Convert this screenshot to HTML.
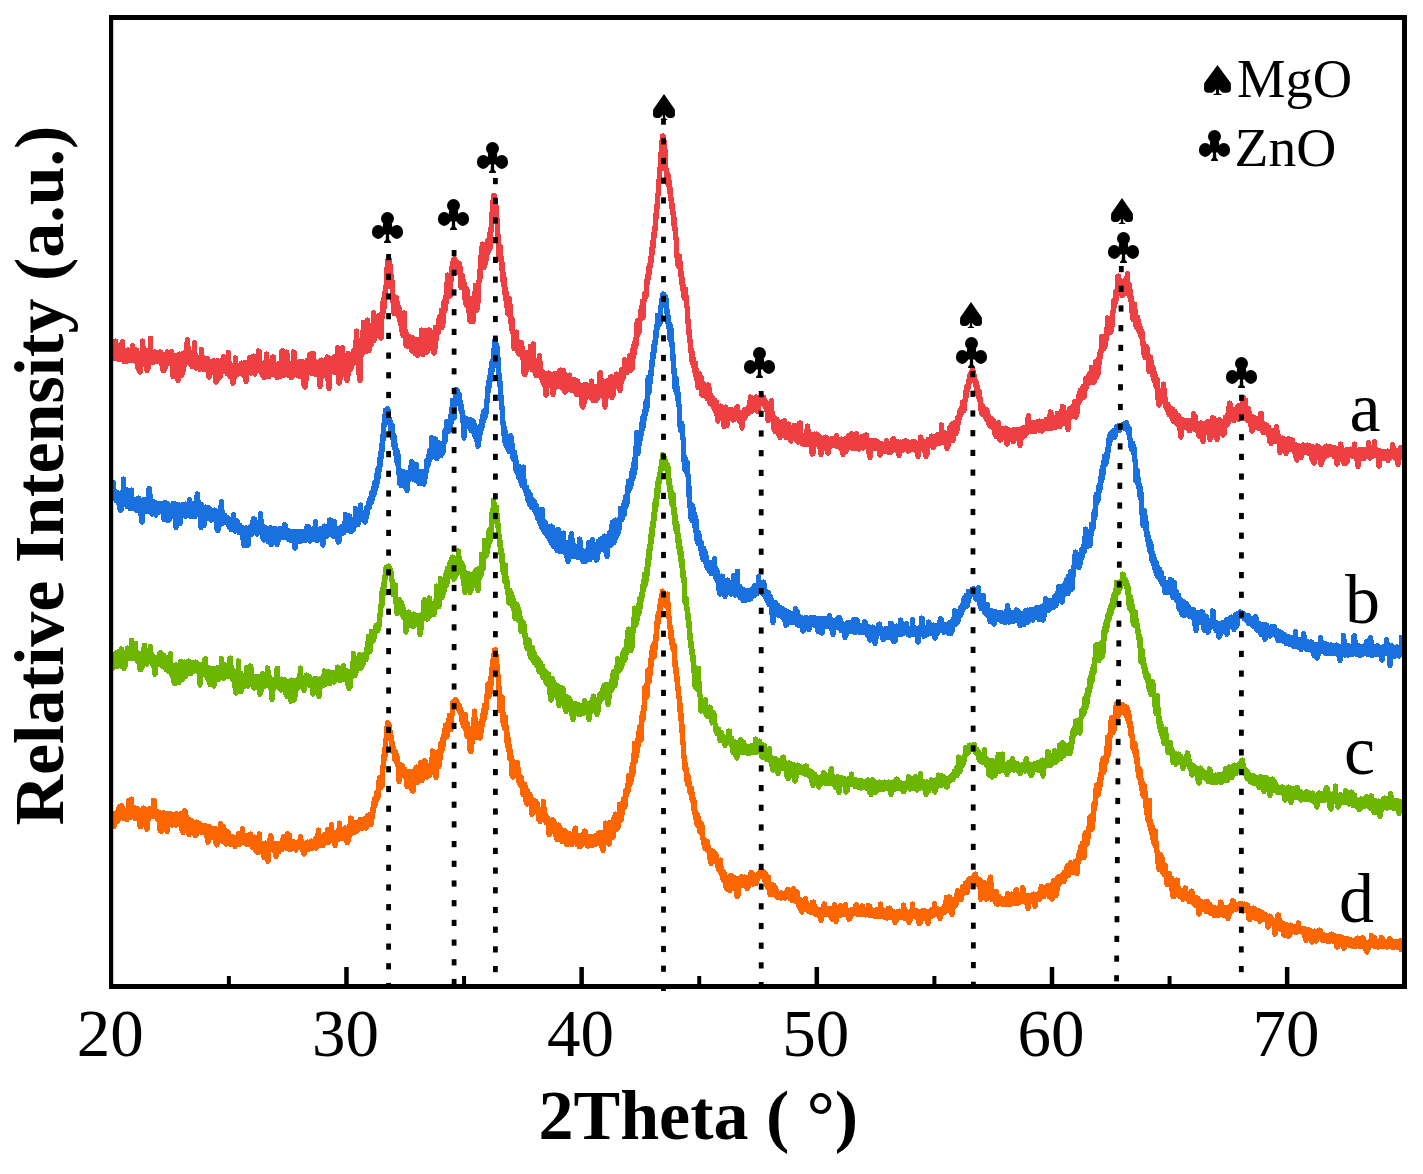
<!DOCTYPE html><html><head><meta charset="utf-8"><style>html,body{margin:0;padding:0;background:#fff;overflow:hidden;width:1423px;height:1174px;}svg{display:block;font-family:"Liberation Serif",serif;}</style></head><body><svg width="1423" height="1174" viewBox="0 0 1423 1174"><rect width="1423" height="1174" fill="#fff"/><defs><clipPath id="pc"><rect x="111" y="17" width="1294" height="970"/></clipPath></defs><g clip-path="url(#pc)" fill="none" stroke-width="5.20" stroke-linejoin="round" stroke-linecap="round" shape-rendering="crispEdges"><polyline stroke="#EE4042" points="111.0,354.2 111.5,342.1 112.0,353.4 112.5,343.4 113.0,355.3 113.5,347.2 114.0,358.8 114.5,343.3 115.0,349.6 115.5,341.1 116.0,351.4 116.5,344.8 117.0,358.8 117.5,349.4 118.0,359.3 118.5,351.6 119.0,359.1 119.5,352.4 120.0,359.8 120.5,353.4 121.0,357.0 121.5,344.2 122.0,350.6 122.5,341.5 123.0,358.1 123.5,351.8 124.0,361.5 124.5,353.5 125.0,359.7 125.5,350.3 126.0,360.8 126.5,353.6 127.0,361.1 127.5,350.6 128.0,360.8 128.5,349.8 129.0,358.3 129.5,351.3 130.0,360.1 130.5,353.2 131.0,360.9 131.5,349.7 132.0,360.7 132.5,345.5 133.0,355.1 133.5,351.0 134.0,360.5 134.5,349.9 135.0,359.0 135.5,349.7 136.0,361.7 136.5,349.9 137.0,359.7 137.5,358.7 138.0,368.8 138.5,353.7 139.0,363.7 139.5,356.0 140.0,372.3 140.5,358.2 141.0,361.6 141.5,355.1 142.0,357.3 142.5,341.1 143.0,354.4 143.5,347.5 144.0,362.1 144.5,352.4 145.0,365.1 145.5,350.7 146.0,361.7 146.5,353.0 147.0,370.6 147.5,360.6 148.0,368.6 148.5,354.6 149.0,363.2 149.5,349.7 150.0,352.2 150.5,338.2 151.0,362.1 151.5,352.2 152.0,362.2 152.5,352.1 153.0,362.3 153.5,352.7 154.0,362.1 154.5,352.3 155.0,360.1 155.5,351.8 156.0,361.8 156.5,352.8 157.0,360.8 157.5,354.1 158.0,360.5 158.5,352.6 159.0,360.2 159.5,352.1 160.0,361.9 160.5,352.1 161.0,363.4 161.5,353.7 162.0,364.5 162.5,356.4 163.0,370.5 163.5,362.1 164.0,370.8 164.5,361.1 165.0,368.4 165.5,354.5 166.0,361.5 166.5,355.1 167.0,361.3 167.5,351.8 168.0,363.2 168.5,354.6 169.0,361.7 169.5,353.2 170.0,363.1 170.5,353.1 171.0,363.0 171.5,351.6 172.0,364.0 172.5,361.8 173.0,376.5 173.5,370.1 174.0,375.6 174.5,363.7 175.0,363.6 175.5,355.9 176.0,364.4 176.5,355.2 177.0,368.1 177.5,362.7 178.0,380.7 178.5,368.0 179.0,375.0 179.5,354.0 180.0,367.2 180.5,355.9 181.0,364.0 181.5,362.3 182.0,375.1 182.5,367.8 183.0,372.0 183.5,353.1 184.0,363.8 184.5,352.8 185.0,364.6 185.5,355.6 186.0,360.9 186.5,344.1 187.0,350.6 187.5,339.5 188.0,352.4 188.5,347.3 189.0,362.9 189.5,354.9 190.0,363.5 190.5,353.2 191.0,364.8 191.5,353.1 192.0,366.4 192.5,355.0 193.0,366.3 193.5,357.3 194.0,353.6 194.5,342.4 195.0,365.4 195.5,354.9 196.0,368.2 196.5,358.1 197.0,367.7 197.5,358.1 198.0,366.6 198.5,357.7 199.0,365.0 199.5,357.9 200.0,369.4 200.5,359.0 201.0,368.4 201.5,349.3 202.0,357.0 202.5,356.5 203.0,365.4 203.5,359.4 204.0,369.9 204.5,359.8 205.0,369.5 205.5,358.6 206.0,369.7 206.5,358.8 207.0,368.1 207.5,358.6 208.0,367.1 208.5,365.6 209.0,377.3 209.5,369.0 210.0,373.5 210.5,362.2 211.0,370.6 211.5,361.7 212.0,371.9 212.5,360.9 213.0,372.5 213.5,360.4 214.0,371.5 214.5,362.6 215.0,372.5 215.5,371.9 216.0,382.3 216.5,368.8 217.0,371.7 217.5,360.7 218.0,376.1 218.5,368.8 219.0,378.2 219.5,371.1 220.0,377.4 220.5,362.3 221.0,371.0 221.5,360.7 222.0,371.3 222.5,363.0 223.0,371.5 223.5,356.6 224.0,366.6 224.5,365.3 225.0,371.4 225.5,365.2 226.0,372.3 226.5,363.7 227.0,373.7 227.5,361.9 228.0,368.8 228.5,352.3 229.0,367.7 229.5,363.0 230.0,376.8 230.5,367.3 231.0,373.2 231.5,366.0 232.0,373.4 232.5,365.2 233.0,383.4 233.5,376.0 234.0,374.7 234.5,368.0 235.0,376.8 235.5,357.8 236.0,368.4 236.5,368.1 237.0,375.0 237.5,365.0 238.0,373.5 238.5,366.1 239.0,372.6 239.5,367.1 240.0,373.1 240.5,365.4 241.0,373.9 241.5,363.1 242.0,373.0 242.5,366.7 243.0,375.1 243.5,366.4 244.0,371.7 244.5,362.3 245.0,374.5 245.5,372.1 246.0,381.9 246.5,371.9 247.0,372.6 247.5,362.5 248.0,373.0 248.5,366.0 249.0,371.6 249.5,357.5 250.0,365.6 250.5,361.9 251.0,373.3 251.5,365.7 252.0,370.6 252.5,357.3 253.0,364.3 253.5,356.1 254.0,371.2 254.5,361.4 255.0,374.1 255.5,362.3 256.0,371.7 256.5,365.5 257.0,371.2 257.5,360.8 258.0,368.5 258.5,350.8 259.0,361.2 259.5,351.7 260.0,365.8 260.5,365.0 261.0,373.0 261.5,363.3 262.0,374.8 262.5,363.8 263.0,374.4 263.5,363.6 264.0,377.5 264.5,364.5 265.0,377.1 265.5,361.6 266.0,365.9 266.5,354.0 267.0,367.3 267.5,361.0 268.0,375.3 268.5,362.7 269.0,376.8 269.5,364.8 270.0,373.9 270.5,367.7 271.0,374.8 271.5,367.5 272.0,372.5 272.5,357.1 273.0,363.0 273.5,357.0 274.0,371.0 274.5,368.4 275.0,374.6 275.5,368.2 276.0,375.5 276.5,365.5 277.0,377.9 277.5,366.8 278.0,374.9 278.5,363.6 279.0,376.9 279.5,366.8 280.0,376.9 280.5,363.0 281.0,366.5 281.5,351.4 282.0,358.0 282.5,350.4 283.0,362.7 283.5,357.8 284.0,375.4 284.5,364.9 285.0,374.3 285.5,364.0 286.0,374.9 286.5,352.1 287.0,360.1 287.5,355.2 288.0,374.6 288.5,365.7 289.0,375.5 289.5,364.8 290.0,375.9 290.5,367.5 291.0,377.4 291.5,367.1 292.0,377.2 292.5,362.8 293.0,371.0 293.5,351.9 294.0,360.1 294.5,352.9 295.0,368.2 295.5,363.3 296.0,374.6 296.5,363.1 297.0,373.7 297.5,364.9 298.0,375.7 298.5,364.5 299.0,373.5 299.5,361.6 300.0,376.6 300.5,362.4 301.0,374.8 301.5,361.8 302.0,377.3 302.5,361.5 303.0,373.7 303.5,370.2 304.0,385.6 304.5,376.8 305.0,387.3 305.5,376.6 306.0,380.6 306.5,362.3 307.0,373.6 307.5,360.1 308.0,373.4 308.5,363.5 309.0,371.4 309.5,355.1 310.0,363.1 310.5,354.0 311.0,368.3 311.5,354.9 312.0,373.4 312.5,362.4 313.0,373.6 313.5,353.3 314.0,362.1 314.5,360.6 315.0,371.6 315.5,361.5 316.0,374.7 316.5,362.5 317.0,372.6 317.5,363.1 318.0,369.7 318.5,362.0 319.0,374.5 319.5,372.4 320.0,387.0 320.5,362.6 321.0,372.3 321.5,360.1 322.0,370.6 322.5,362.2 323.0,376.4 323.5,366.9 324.0,375.8 324.5,363.3 325.0,370.3 325.5,360.5 326.0,368.7 326.5,358.9 327.0,369.7 327.5,356.8 328.0,380.9 328.5,374.8 329.0,388.6 329.5,370.5 330.0,367.9 330.5,359.3 331.0,368.3 331.5,358.6 332.0,370.8 332.5,361.0 333.0,371.7 333.5,358.7 334.0,370.2 334.5,356.7 335.0,372.6 335.5,360.6 336.0,368.7 336.5,356.6 337.0,358.8 337.5,347.5 338.0,369.4 338.5,359.5 339.0,383.3 339.5,374.0 340.0,380.1 340.5,360.4 341.0,371.5 341.5,358.9 342.0,368.9 342.5,347.6 343.0,360.7 343.5,356.8 344.0,372.5 344.5,356.2 345.0,370.8 345.5,356.0 346.0,376.5 346.5,367.8 347.0,380.6 347.5,364.2 348.0,376.0 348.5,353.3 349.0,370.1 349.5,357.5 350.0,366.5 350.5,354.9 351.0,369.1 351.5,354.6 352.0,364.8 352.5,356.2 353.0,364.2 353.5,350.8 354.0,361.8 354.5,353.5 355.0,362.6 355.5,342.3 356.0,348.2 356.5,331.0 357.0,346.0 357.5,339.6 358.0,362.2 358.5,344.0 359.0,374.3 359.5,368.2 360.0,380.5 360.5,356.0 361.0,356.9 361.5,346.7 362.0,354.3 362.5,331.9 363.0,336.2 363.5,322.3 364.0,332.3 364.5,322.8 365.0,343.4 365.5,342.4 366.0,351.5 366.5,339.8 367.0,340.9 367.5,320.0 368.0,332.5 368.5,324.6 369.0,350.9 369.5,333.6 370.0,346.5 370.5,333.7 371.0,345.4 371.5,329.9 372.0,341.7 372.5,331.0 373.0,325.8 373.5,312.6 374.0,340.9 374.5,327.0 375.0,337.9 375.5,324.0 376.0,335.3 376.5,322.4 377.0,335.4 377.5,322.9 378.0,330.6 378.5,315.7 379.0,331.4 379.5,320.7 380.0,337.0 380.5,326.4 381.0,338.2 381.5,314.0 382.0,318.7 382.5,302.9 383.0,313.7 383.5,298.4 384.0,308.3 384.5,293.0 385.0,299.0 385.5,287.3 386.0,288.8 386.5,271.3 387.0,269.2 387.5,260.5 388.0,261.1 388.5,258.1 389.0,261.2 389.5,259.5 390.0,265.2 390.5,265.9 391.0,276.5 391.5,280.0 392.0,288.1 392.5,282.1 393.0,301.9 393.5,301.9 394.0,313.9 394.5,304.3 395.0,310.5 395.5,296.8 396.0,306.5 396.5,297.3 397.0,309.7 397.5,302.3 398.0,315.5 398.5,306.9 399.0,317.9 399.5,309.2 400.0,321.8 400.5,313.6 401.0,325.1 401.5,318.4 402.0,331.9 402.5,320.8 403.0,335.9 403.5,324.9 404.0,329.3 404.5,312.8 405.0,332.6 405.5,333.5 406.0,345.9 406.5,334.0 407.0,344.4 407.5,336.0 408.0,346.9 408.5,336.0 409.0,347.0 409.5,337.5 410.0,346.3 410.5,337.7 411.0,346.9 411.5,340.7 412.0,351.2 412.5,337.2 413.0,349.7 413.5,342.4 414.0,351.5 414.5,343.6 415.0,353.6 415.5,342.2 416.0,353.3 416.5,339.3 417.0,354.9 417.5,339.3 418.0,355.4 418.5,341.1 419.0,353.0 419.5,344.2 420.0,351.0 420.5,341.8 421.0,342.6 421.5,330.1 422.0,350.9 422.5,344.2 423.0,355.0 423.5,344.8 424.0,342.5 424.5,330.7 425.0,344.7 425.5,341.5 426.0,351.9 426.5,341.8 427.0,352.2 427.5,341.1 428.0,346.5 428.5,330.0 429.0,338.5 429.5,329.8 430.0,340.7 430.5,335.9 431.0,347.2 431.5,332.2 432.0,344.5 432.5,334.6 433.0,350.3 433.5,344.3 434.0,353.2 434.5,342.1 435.0,348.7 435.5,327.4 436.0,341.1 436.5,327.8 437.0,335.0 437.5,326.4 438.0,333.2 438.5,320.0 439.0,329.1 439.5,316.6 440.0,328.3 440.5,316.7 441.0,324.5 441.5,310.0 442.0,327.6 442.5,316.9 443.0,323.2 443.5,302.5 444.0,311.0 444.5,300.9 445.0,310.6 445.5,296.6 446.0,303.3 446.5,284.2 447.0,287.0 447.5,274.9 448.0,284.0 448.5,277.1 449.0,291.9 449.5,278.7 450.0,296.2 450.5,282.3 451.0,281.4 451.5,267.4 452.0,271.5 452.5,262.8 453.0,264.2 453.5,259.8 454.0,261.4 454.5,258.7 455.0,262.7 455.5,260.8 456.0,264.6 456.5,262.1 457.0,269.5 457.5,264.5 458.0,272.4 458.5,263.4 459.0,270.2 459.5,263.4 460.0,272.8 460.5,267.6 461.0,287.5 461.5,280.0 462.0,285.8 462.5,275.5 463.0,284.7 463.5,280.9 464.0,289.5 464.5,283.7 465.0,299.5 465.5,292.1 466.0,304.6 466.5,288.2 467.0,298.0 467.5,290.4 468.0,307.5 468.5,299.1 469.0,312.4 469.5,308.6 470.0,321.1 470.5,304.7 471.0,315.0 471.5,298.3 472.0,312.1 472.5,297.9 473.0,322.0 473.5,306.1 474.0,302.0 474.5,292.7 475.0,302.0 475.5,285.2 476.0,294.4 476.5,289.5 477.0,310.1 477.5,297.4 478.0,302.9 478.5,284.6 479.0,282.4 479.5,270.7 480.0,279.0 480.5,256.8 481.0,263.0 481.5,248.0 482.0,256.8 482.5,244.1 483.0,259.7 483.5,254.6 484.0,267.6 484.5,253.9 485.0,264.9 485.5,246.4 486.0,260.2 486.5,243.5 487.0,253.9 487.5,240.9 488.0,253.1 488.5,239.9 489.0,247.6 489.5,233.9 490.0,249.1 490.5,232.4 491.0,231.2 491.5,215.4 492.0,214.9 492.5,202.2 493.0,201.1 493.5,195.5 494.0,197.5 494.5,195.7 495.0,200.7 495.5,200.0 496.0,206.9 496.5,206.5 497.0,220.1 497.5,219.6 498.0,236.6 498.5,241.8 499.0,259.2 499.5,246.3 500.0,253.9 500.5,246.5 501.0,262.1 501.5,257.8 502.0,270.3 502.5,263.4 503.0,281.9 503.5,274.1 504.0,287.0 504.5,279.0 505.0,294.6 505.5,289.2 506.0,300.8 506.5,292.4 507.0,308.1 507.5,300.9 508.0,314.2 508.5,303.1 509.0,309.3 509.5,298.5 510.0,315.3 510.5,306.2 511.0,323.3 511.5,317.6 512.0,330.4 512.5,319.5 513.0,333.8 513.5,332.9 514.0,348.6 514.5,335.2 515.0,345.8 515.5,333.2 516.0,344.3 516.5,332.0 517.0,347.0 517.5,341.1 518.0,352.5 518.5,345.9 519.0,354.3 519.5,344.0 520.0,353.2 520.5,343.5 521.0,351.1 521.5,342.3 522.0,356.2 522.5,348.0 523.0,359.3 523.5,357.6 524.0,373.6 524.5,365.3 525.0,374.9 525.5,364.5 526.0,371.4 526.5,352.3 527.0,365.6 527.5,352.6 528.0,366.8 528.5,353.4 529.0,366.0 529.5,358.9 530.0,366.0 530.5,346.3 531.0,354.0 531.5,360.9 532.0,370.0 532.5,361.3 533.0,358.6 533.5,343.8 534.0,362.5 534.5,360.3 535.0,372.4 535.5,361.9 536.0,375.7 536.5,365.6 537.0,373.3 537.5,364.0 538.0,374.5 538.5,360.3 539.0,364.0 539.5,355.3 540.0,365.3 540.5,363.1 541.0,377.6 541.5,370.9 542.0,379.9 542.5,373.4 543.0,382.4 543.5,372.7 544.0,383.2 544.5,372.8 545.0,386.2 545.5,388.7 546.0,395.3 546.5,373.9 547.0,383.5 547.5,375.9 548.0,385.1 548.5,372.9 549.0,383.8 549.5,375.3 550.0,385.3 550.5,374.3 551.0,383.3 551.5,374.6 552.0,384.8 552.5,382.7 553.0,394.7 553.5,385.2 554.0,386.9 554.5,373.8 555.0,386.4 555.5,373.5 556.0,387.4 556.5,376.5 557.0,387.0 557.5,376.0 558.0,386.8 558.5,376.5 559.0,386.5 559.5,371.2 560.0,378.4 560.5,369.9 561.0,377.3 561.5,373.6 562.0,388.1 562.5,378.0 563.0,381.8 563.5,370.6 564.0,381.7 564.5,374.0 565.0,392.3 565.5,379.5 566.0,388.6 566.5,382.1 567.0,389.9 567.5,379.1 568.0,389.6 568.5,377.6 569.0,384.5 569.5,374.9 570.0,385.9 570.5,379.5 571.0,389.1 571.5,379.4 572.0,391.0 572.5,380.9 573.0,390.0 573.5,382.9 574.0,390.7 574.5,379.3 575.0,391.7 575.5,381.6 576.0,394.0 576.5,380.6 577.0,394.5 577.5,380.8 578.0,393.4 578.5,384.2 579.0,393.7 579.5,384.4 580.0,394.9 580.5,385.7 581.0,393.6 581.5,389.3 582.0,405.6 582.5,398.8 583.0,407.1 583.5,397.6 584.0,403.2 584.5,384.5 585.0,394.3 585.5,385.5 586.0,396.5 586.5,384.6 587.0,397.2 587.5,387.4 588.0,395.0 588.5,386.3 589.0,396.8 589.5,387.1 590.0,395.9 590.5,388.8 591.0,390.8 591.5,381.0 592.0,399.3 592.5,390.8 593.0,400.4 593.5,390.2 594.0,398.4 594.5,387.0 595.0,397.4 595.5,390.1 596.0,400.5 596.5,386.7 597.0,398.0 597.5,390.0 598.0,397.7 598.5,388.4 599.0,389.2 599.5,373.9 600.0,383.0 600.5,372.7 601.0,382.2 601.5,379.5 602.0,395.6 602.5,384.9 603.0,392.4 603.5,382.8 604.0,398.4 604.5,394.5 605.0,407.1 605.5,395.2 606.0,398.2 606.5,381.2 607.0,390.2 607.5,382.2 608.0,388.4 608.5,380.0 609.0,391.6 609.5,381.9 610.0,390.7 610.5,377.0 611.0,388.6 611.5,376.4 612.0,397.7 612.5,390.4 613.0,396.0 613.5,377.7 614.0,387.5 614.5,378.2 615.0,387.0 615.5,376.6 616.0,386.1 616.5,374.0 617.0,383.4 617.5,375.6 618.0,382.7 618.5,379.6 619.0,389.0 619.5,380.3 620.0,391.0 620.5,377.9 621.0,383.3 621.5,369.6 622.0,377.2 622.5,370.8 623.0,378.9 623.5,370.0 624.0,372.3 624.5,359.4 625.0,367.1 625.5,360.3 626.0,371.3 626.5,365.5 627.0,373.0 627.5,362.6 628.0,368.2 628.5,359.8 629.0,367.2 629.5,355.5 630.0,365.9 630.5,355.1 631.0,370.3 631.5,364.0 632.0,369.3 632.5,350.0 633.0,358.2 633.5,345.6 634.0,354.8 634.5,343.2 635.0,348.8 635.5,338.9 636.0,346.1 636.5,323.5 637.0,329.3 637.5,320.4 638.0,334.9 638.5,321.6 639.0,332.3 639.5,322.6 640.0,320.7 640.5,310.6 641.0,315.5 641.5,306.3 642.0,313.0 642.5,301.3 643.0,317.9 643.5,308.2 644.0,300.9 644.5,293.7 645.0,295.2 645.5,292.7 646.0,296.7 646.5,280.8 647.0,284.2 647.5,275.5 648.0,279.6 648.5,268.1 649.0,274.6 649.5,265.0 650.0,267.8 650.5,258.1 651.0,262.7 651.5,248.8 652.0,254.6 652.5,242.2 653.0,247.6 653.5,233.9 654.0,237.8 654.5,227.4 655.0,230.4 655.5,215.3 656.0,218.6 656.5,206.1 657.0,208.2 657.5,194.7 658.0,196.1 658.5,183.1 659.0,182.4 659.5,170.2 660.0,170.4 660.5,156.0 661.0,154.6 661.5,143.2 662.0,141.7 662.5,135.9 663.0,136.7 663.5,136.2 664.0,141.4 664.5,141.5 665.0,151.2 665.5,155.4 666.0,171.1 666.5,170.0 667.0,182.9 667.5,173.7 668.0,179.9 668.5,175.4 669.0,186.4 669.5,181.8 670.0,193.7 670.5,188.6 671.0,200.9 671.5,198.3 672.0,208.2 672.5,204.7 673.0,215.0 673.5,213.2 674.0,225.4 674.5,218.7 675.0,230.7 675.5,228.5 676.0,239.5 676.5,240.6 677.0,258.1 677.5,255.3 678.0,265.7 678.5,255.7 679.0,260.3 679.5,256.2 680.0,268.6 680.5,263.2 681.0,276.7 681.5,273.2 682.0,284.2 682.5,278.6 683.0,290.2 683.5,286.0 684.0,297.4 684.5,294.0 685.0,298.9 685.5,289.1 686.0,298.5 686.5,296.4 687.0,307.8 687.5,307.6 688.0,323.5 688.5,320.9 689.0,334.5 689.5,330.4 690.0,342.2 690.5,340.7 691.0,352.5 691.5,349.6 692.0,361.2 692.5,353.2 693.0,364.7 693.5,358.4 694.0,367.2 694.5,363.6 695.0,372.8 695.5,363.2 696.0,376.2 696.5,369.7 697.0,380.3 697.5,377.7 698.0,387.9 698.5,376.8 699.0,383.9 699.5,373.3 700.0,386.7 700.5,377.9 701.0,386.9 701.5,377.5 702.0,395.3 702.5,388.9 703.0,393.1 703.5,383.7 704.0,392.3 704.5,386.9 705.0,395.7 705.5,387.7 706.0,396.8 706.5,389.2 707.0,398.9 707.5,385.1 708.0,393.2 708.5,384.9 709.0,391.8 709.5,388.5 710.0,403.4 710.5,394.2 711.0,404.1 711.5,398.5 712.0,403.9 712.5,397.5 713.0,405.3 713.5,399.2 714.0,408.3 714.5,400.0 715.0,410.8 715.5,403.0 716.0,410.2 716.5,402.1 717.0,415.3 717.5,414.4 718.0,421.1 718.5,412.2 719.0,419.3 719.5,406.9 720.0,412.1 720.5,406.0 721.0,413.9 721.5,408.1 722.0,414.0 722.5,407.7 723.0,420.1 723.5,415.3 724.0,426.5 724.5,415.8 725.0,422.9 725.5,407.1 726.0,416.4 726.5,417.2 727.0,425.5 727.5,410.9 728.0,418.7 728.5,410.8 729.0,417.6 729.5,409.2 730.0,418.8 730.5,410.1 731.0,418.6 731.5,409.4 732.0,419.1 732.5,410.6 733.0,420.3 733.5,413.3 734.0,419.6 734.5,413.9 735.0,418.7 735.5,414.4 736.0,418.2 736.5,407.9 737.0,414.0 737.5,406.6 738.0,418.1 738.5,412.1 739.0,420.9 739.5,413.0 740.0,422.2 740.5,415.0 741.0,420.6 741.5,414.7 742.0,428.1 742.5,420.9 743.0,420.8 743.5,412.0 744.0,417.6 744.5,409.5 745.0,417.6 745.5,411.5 746.0,415.9 746.5,409.1 747.0,414.0 747.5,408.9 748.0,413.9 748.5,407.0 749.0,413.4 749.5,401.4 750.0,404.2 750.5,396.8 751.0,406.2 751.5,402.3 752.0,411.4 752.5,403.9 753.0,408.0 753.5,402.4 754.0,407.4 754.5,400.2 755.0,407.7 755.5,397.7 756.0,407.1 756.5,396.8 757.0,410.5 757.5,403.4 758.0,411.7 758.5,401.2 759.0,401.4 759.5,398.0 760.0,401.1 760.5,397.3 761.0,399.7 761.5,397.2 762.0,401.2 762.5,397.9 763.0,404.0 763.5,397.1 764.0,405.3 764.5,399.4 765.0,406.2 765.5,401.9 766.0,408.3 766.5,402.9 767.0,411.8 767.5,408.1 768.0,420.5 768.5,411.1 769.0,420.4 769.5,407.9 770.0,415.1 770.5,407.5 771.0,406.7 771.5,400.4 772.0,417.1 772.5,412.2 773.0,419.5 773.5,416.4 774.0,429.2 774.5,423.2 775.0,431.9 775.5,425.8 776.0,427.9 776.5,419.0 777.0,426.6 777.5,420.3 778.0,428.6 778.5,422.4 779.0,435.9 779.5,433.8 780.0,437.8 780.5,422.6 781.0,432.9 781.5,423.6 782.0,431.7 782.5,424.2 783.0,430.1 783.5,421.0 784.0,424.6 784.5,420.5 785.0,429.2 785.5,424.2 786.0,437.9 786.5,428.9 787.0,437.7 787.5,427.1 788.0,431.9 788.5,423.9 789.0,432.0 789.5,427.8 790.0,437.8 790.5,429.4 791.0,441.1 791.5,430.1 792.0,438.4 792.5,431.2 793.0,435.5 793.5,426.4 794.0,430.9 794.5,425.2 795.0,435.6 795.5,429.0 796.0,439.7 796.5,432.8 797.0,441.2 797.5,432.0 798.0,442.3 798.5,435.0 799.0,434.8 799.5,423.1 800.0,431.3 800.5,423.1 801.0,436.0 801.5,436.0 802.0,443.9 802.5,436.0 803.0,444.2 803.5,435.6 804.0,443.5 804.5,438.6 805.0,444.6 805.5,438.6 806.0,444.8 806.5,431.1 807.0,434.0 807.5,426.0 808.0,435.7 808.5,430.8 809.0,442.7 809.5,435.1 810.0,445.1 810.5,436.7 811.0,443.9 811.5,434.8 812.0,454.1 812.5,449.3 813.0,453.6 813.5,435.8 814.0,445.3 814.5,434.1 815.0,443.0 815.5,436.2 816.0,443.6 816.5,434.1 817.0,442.5 817.5,435.9 818.0,444.7 818.5,435.6 819.0,442.8 819.5,436.4 820.0,448.7 820.5,444.9 821.0,455.0 821.5,446.0 822.0,450.1 822.5,438.7 823.0,447.0 823.5,437.9 824.0,445.4 824.5,439.0 825.0,445.9 825.5,437.0 826.0,444.4 826.5,438.0 827.0,450.5 827.5,447.7 828.0,453.2 828.5,440.6 829.0,447.3 829.5,440.8 830.0,446.6 830.5,439.0 831.0,445.5 831.5,438.5 832.0,445.8 832.5,439.7 833.0,445.8 833.5,438.7 834.0,445.7 834.5,440.4 835.0,444.8 835.5,438.2 836.0,440.3 836.5,435.7 837.0,446.6 837.5,440.0 838.0,446.4 838.5,439.9 839.0,447.1 839.5,440.5 840.0,444.3 840.5,440.6 841.0,445.8 841.5,439.1 842.0,450.9 842.5,445.7 843.0,454.7 843.5,447.9 844.0,452.8 844.5,444.1 845.0,444.7 845.5,438.7 846.0,451.8 846.5,445.9 847.0,446.0 847.5,438.8 848.0,442.0 848.5,435.3 849.0,443.8 849.5,441.6 850.0,447.7 850.5,437.5 851.0,440.1 851.5,433.3 852.0,441.2 852.5,438.3 853.0,448.4 853.5,440.5 854.0,447.1 854.5,443.0 855.0,448.7 855.5,441.6 856.0,447.9 856.5,433.6 857.0,441.3 857.5,441.1 858.0,448.3 858.5,440.9 859.0,449.3 859.5,441.1 860.0,446.8 860.5,441.6 861.0,445.2 861.5,436.3 862.0,444.7 862.5,441.0 863.0,448.1 863.5,442.3 864.0,445.9 864.5,439.5 865.0,440.7 865.5,435.0 866.0,439.1 866.5,435.1 867.0,444.2 867.5,440.7 868.0,445.3 868.5,444.8 869.0,453.6 869.5,451.8 870.0,457.6 870.5,447.2 871.0,450.1 871.5,440.3 872.0,445.8 872.5,440.6 873.0,447.7 873.5,440.8 874.0,449.0 874.5,441.0 875.0,446.8 875.5,440.3 876.0,447.5 876.5,441.8 877.0,448.3 877.5,441.4 878.0,447.6 878.5,443.2 879.0,449.1 879.5,445.9 880.0,455.3 880.5,447.3 881.0,449.8 881.5,443.6 882.0,449.8 882.5,444.5 883.0,450.5 883.5,444.6 884.0,451.7 884.5,444.7 885.0,451.6 885.5,446.4 886.0,447.7 886.5,440.5 887.0,445.6 887.5,442.4 888.0,448.9 888.5,446.5 889.0,452.7 889.5,446.3 890.0,451.5 890.5,444.8 891.0,452.2 891.5,446.2 892.0,449.4 892.5,439.5 893.0,447.3 893.5,438.4 894.0,446.1 894.5,440.6 895.0,449.8 895.5,444.5 896.0,449.4 896.5,443.7 897.0,451.1 897.5,443.1 898.0,448.6 898.5,441.8 899.0,456.0 899.5,449.0 900.0,451.2 900.5,441.9 901.0,449.6 901.5,442.4 902.0,448.1 902.5,442.7 903.0,450.3 903.5,441.5 904.0,449.7 904.5,441.4 905.0,448.6 905.5,440.4 906.0,448.6 906.5,443.2 907.0,449.9 907.5,443.4 908.0,451.2 908.5,442.1 909.0,448.3 909.5,444.2 910.0,450.2 910.5,444.2 911.0,448.3 911.5,443.0 912.0,449.7 912.5,441.5 913.0,448.5 913.5,441.3 914.0,449.3 914.5,441.2 915.0,448.3 915.5,443.8 916.0,449.1 916.5,443.1 917.0,453.0 917.5,447.3 918.0,456.5 918.5,447.2 919.0,447.9 919.5,442.4 920.0,444.5 920.5,437.0 921.0,442.1 921.5,439.6 922.0,446.7 922.5,441.5 923.0,449.2 923.5,442.2 924.0,448.7 924.5,441.4 925.0,452.4 925.5,447.4 926.0,457.0 926.5,449.3 927.0,454.5 927.5,442.6 928.0,446.4 928.5,439.2 929.0,444.3 929.5,439.4 930.0,444.4 930.5,438.6 931.0,443.0 931.5,436.1 932.0,444.0 932.5,438.6 933.0,447.6 933.5,440.8 934.0,446.9 934.5,439.2 935.0,445.0 935.5,437.0 936.0,442.0 936.5,435.7 937.0,441.6 937.5,434.5 938.0,441.0 938.5,434.4 939.0,444.0 939.5,435.1 940.0,441.3 940.5,434.2 941.0,441.8 941.5,424.8 942.0,431.7 942.5,435.4 943.0,442.9 943.5,435.4 944.0,439.2 944.5,432.3 945.0,441.1 945.5,433.2 946.0,439.0 946.5,436.5 947.0,448.5 947.5,441.2 948.0,446.9 948.5,433.4 949.0,435.1 949.5,427.8 950.0,434.1 950.5,427.6 951.0,433.1 951.5,424.4 952.0,432.9 952.5,434.2 953.0,440.8 953.5,423.2 954.0,430.2 954.5,422.7 955.0,428.3 955.5,425.6 956.0,433.9 956.5,428.6 957.0,430.7 957.5,418.0 958.0,424.4 958.5,416.5 959.0,419.9 959.5,412.0 960.0,416.8 960.5,410.0 961.0,414.5 961.5,407.6 962.0,411.3 962.5,402.2 963.0,408.2 963.5,401.4 964.0,411.0 964.5,401.9 965.0,401.6 965.5,391.4 966.0,397.3 966.5,386.8 967.0,391.5 967.5,385.3 968.0,388.6 968.5,380.4 969.0,383.7 969.5,375.8 970.0,378.6 970.5,373.4 971.0,375.1 971.5,371.9 972.0,372.8 972.5,370.0 973.0,372.6 973.5,371.6 974.0,376.2 974.5,375.9 975.0,382.2 975.5,380.5 976.0,386.6 976.5,383.2 977.0,392.9 977.5,386.5 978.0,395.9 978.5,390.3 979.0,398.5 979.5,392.0 980.0,401.8 980.5,398.5 981.0,411.0 981.5,405.2 982.0,414.3 982.5,406.1 983.0,413.3 983.5,407.7 984.0,414.6 984.5,408.7 985.0,416.9 985.5,411.2 986.0,418.4 986.5,409.2 987.0,414.0 987.5,411.4 988.0,421.9 988.5,415.4 989.0,424.7 989.5,418.2 990.0,425.7 990.5,418.0 991.0,427.0 991.5,421.1 992.0,426.3 992.5,419.2 993.0,428.1 993.5,420.7 994.0,427.3 994.5,426.7 995.0,434.8 995.5,430.5 996.0,436.5 996.5,426.8 997.0,430.5 997.5,423.4 998.0,430.6 998.5,422.4 999.0,433.1 999.5,430.3 1000.0,440.1 1000.5,434.0 1001.0,439.8 1001.5,431.0 1002.0,434.6 1002.5,428.4 1003.0,434.0 1003.5,428.5 1004.0,435.0 1004.5,428.3 1005.0,433.8 1005.5,428.0 1006.0,435.6 1006.5,434.7 1007.0,444.3 1007.5,436.4 1008.0,437.4 1008.5,429.3 1009.0,436.3 1009.5,429.9 1010.0,437.7 1010.5,431.5 1011.0,438.2 1011.5,430.2 1012.0,437.8 1012.5,430.2 1013.0,441.8 1013.5,437.0 1014.0,440.7 1014.5,429.3 1015.0,438.7 1015.5,430.1 1016.0,435.6 1016.5,429.2 1017.0,437.5 1017.5,431.1 1018.0,435.9 1018.5,429.7 1019.0,440.3 1019.5,435.5 1020.0,445.9 1020.5,433.1 1021.0,437.8 1021.5,429.8 1022.0,435.0 1022.5,428.1 1023.0,437.2 1023.5,427.9 1024.0,434.7 1024.5,429.9 1025.0,435.6 1025.5,428.9 1026.0,434.1 1026.5,427.1 1027.0,433.4 1027.5,418.7 1028.0,423.0 1028.5,415.5 1029.0,428.5 1029.5,424.3 1030.0,431.8 1030.5,423.4 1031.0,430.5 1031.5,425.2 1032.0,429.4 1032.5,422.6 1033.0,431.3 1033.5,422.2 1034.0,431.0 1034.5,422.2 1035.0,431.8 1035.5,422.4 1036.0,428.5 1036.5,423.1 1037.0,429.4 1037.5,421.6 1038.0,429.1 1038.5,422.2 1039.0,428.8 1039.5,421.0 1040.0,430.8 1040.5,422.4 1041.0,430.7 1041.5,422.9 1042.0,431.3 1042.5,422.3 1043.0,430.0 1043.5,421.3 1044.0,427.7 1044.5,421.2 1045.0,427.4 1045.5,421.3 1046.0,429.0 1046.5,419.3 1047.0,427.3 1047.5,422.3 1048.0,428.6 1048.5,421.0 1049.0,428.0 1049.5,416.2 1050.0,420.3 1050.5,411.8 1051.0,419.3 1051.5,413.8 1052.0,428.4 1052.5,419.8 1053.0,427.0 1053.5,417.4 1054.0,425.4 1054.5,417.8 1055.0,427.6 1055.5,417.3 1056.0,426.7 1056.5,419.2 1057.0,420.7 1057.5,413.3 1058.0,424.9 1058.5,418.5 1059.0,425.9 1059.5,418.4 1060.0,426.7 1060.5,418.4 1061.0,424.2 1061.5,411.1 1062.0,417.2 1062.5,406.2 1063.0,413.0 1063.5,407.1 1064.0,418.8 1064.5,416.7 1065.0,423.8 1065.5,412.7 1066.0,419.9 1066.5,412.4 1067.0,419.5 1067.5,412.9 1068.0,430.0 1068.5,419.4 1069.0,417.9 1069.5,408.8 1070.0,417.6 1070.5,408.5 1071.0,414.9 1071.5,407.6 1072.0,413.4 1072.5,406.4 1073.0,411.6 1073.5,410.2 1074.0,416.8 1074.5,401.5 1075.0,410.0 1075.5,405.7 1076.0,417.1 1076.5,410.6 1077.0,413.8 1077.5,401.5 1078.0,405.1 1078.5,395.7 1079.0,402.2 1079.5,392.4 1080.0,400.7 1080.5,390.2 1081.0,396.5 1081.5,390.2 1082.0,395.0 1082.5,388.0 1083.0,394.0 1083.5,386.2 1084.0,397.4 1084.5,386.5 1085.0,387.7 1085.5,378.7 1086.0,388.7 1086.5,379.9 1087.0,385.6 1087.5,377.8 1088.0,383.2 1088.5,375.5 1089.0,381.6 1089.5,373.5 1090.0,382.9 1090.5,373.1 1091.0,378.8 1091.5,367.3 1092.0,377.0 1092.5,367.5 1093.0,376.9 1093.5,373.1 1094.0,382.4 1094.5,369.6 1095.0,376.0 1095.5,361.5 1096.0,368.8 1096.5,363.9 1097.0,377.1 1097.5,369.8 1098.0,374.5 1098.5,358.9 1099.0,364.3 1099.5,354.3 1100.0,358.4 1100.5,351.9 1101.0,352.2 1101.5,336.7 1102.0,344.2 1102.5,336.2 1103.0,348.1 1103.5,342.7 1104.0,348.9 1104.5,336.8 1105.0,346.9 1105.5,336.5 1106.0,340.9 1106.5,331.6 1107.0,330.3 1107.5,317.8 1108.0,334.2 1108.5,323.9 1109.0,329.1 1109.5,319.0 1110.0,327.2 1110.5,322.4 1111.0,332.1 1111.5,325.9 1112.0,326.9 1112.5,314.4 1113.0,312.5 1113.5,300.8 1114.0,308.1 1114.5,299.3 1115.0,303.2 1115.5,292.2 1116.0,301.0 1116.5,290.8 1117.0,292.6 1117.5,276.6 1118.0,283.3 1118.5,275.9 1119.0,284.4 1119.5,281.7 1120.0,289.0 1120.5,280.4 1121.0,293.1 1121.5,289.6 1122.0,295.4 1122.5,289.8 1123.0,295.4 1123.5,285.7 1124.0,288.7 1124.5,280.6 1125.0,289.0 1125.5,283.0 1126.0,289.6 1126.5,277.5 1127.0,281.2 1127.5,273.3 1128.0,287.2 1128.5,284.4 1129.0,295.8 1129.5,284.6 1130.0,292.3 1130.5,290.5 1131.0,301.8 1131.5,297.6 1132.0,313.0 1132.5,308.7 1133.0,319.6 1133.5,311.4 1134.0,315.8 1134.5,304.1 1135.0,315.9 1135.5,310.9 1136.0,327.0 1136.5,322.1 1137.0,328.1 1137.5,317.0 1138.0,326.1 1138.5,320.6 1139.0,331.7 1139.5,324.4 1140.0,333.6 1140.5,327.5 1141.0,336.9 1141.5,330.4 1142.0,338.7 1142.5,332.3 1143.0,346.1 1143.5,342.7 1144.0,354.7 1144.5,347.3 1145.0,357.8 1145.5,347.8 1146.0,352.0 1146.5,346.7 1147.0,353.7 1147.5,348.8 1148.0,359.2 1148.5,358.0 1149.0,371.9 1149.5,363.1 1150.0,364.0 1150.5,357.1 1151.0,368.2 1151.5,362.0 1152.0,369.8 1152.5,366.6 1153.0,376.8 1153.5,368.5 1154.0,380.1 1154.5,372.6 1155.0,382.2 1155.5,375.8 1156.0,386.7 1156.5,379.3 1157.0,388.6 1157.5,379.4 1158.0,399.5 1158.5,395.6 1159.0,405.3 1159.5,394.2 1160.0,395.1 1160.5,391.4 1161.0,398.8 1161.5,394.1 1162.0,400.8 1162.5,390.0 1163.0,397.1 1163.5,384.1 1164.0,393.4 1164.5,389.9 1165.0,403.7 1165.5,398.7 1166.0,407.8 1166.5,403.4 1167.0,409.8 1167.5,403.9 1168.0,411.2 1168.5,405.9 1169.0,414.8 1169.5,407.6 1170.0,414.4 1170.5,408.9 1171.0,416.8 1171.5,410.5 1172.0,418.2 1172.5,408.9 1173.0,420.6 1173.5,410.7 1174.0,422.0 1174.5,411.1 1175.0,421.3 1175.5,412.8 1176.0,421.3 1176.5,414.2 1177.0,424.2 1177.5,415.1 1178.0,422.9 1178.5,415.2 1179.0,423.7 1179.5,417.9 1180.0,430.5 1180.5,429.0 1181.0,437.1 1181.5,423.3 1182.0,425.4 1182.5,419.8 1183.0,424.8 1183.5,419.8 1184.0,427.0 1184.5,421.1 1185.0,427.1 1185.5,421.4 1186.0,426.7 1186.5,422.3 1187.0,427.3 1187.5,420.2 1188.0,428.0 1188.5,423.3 1189.0,430.8 1189.5,420.5 1190.0,430.8 1190.5,424.1 1191.0,428.9 1191.5,424.1 1192.0,429.0 1192.5,423.1 1193.0,422.9 1193.5,413.5 1194.0,424.5 1194.5,424.7 1195.0,429.7 1195.5,416.3 1196.0,425.2 1196.5,423.8 1197.0,430.7 1197.5,423.2 1198.0,431.8 1198.5,424.0 1199.0,436.1 1199.5,428.5 1200.0,435.9 1200.5,428.2 1201.0,433.5 1201.5,422.8 1202.0,431.5 1202.5,432.0 1203.0,441.9 1203.5,433.7 1204.0,432.5 1204.5,424.8 1205.0,428.9 1205.5,423.0 1206.0,432.1 1206.5,422.5 1207.0,432.2 1207.5,421.7 1208.0,431.6 1208.5,421.3 1209.0,432.1 1209.5,430.7 1210.0,439.9 1210.5,421.7 1211.0,430.7 1211.5,420.7 1212.0,427.7 1212.5,417.3 1213.0,423.4 1213.5,418.1 1214.0,429.0 1214.5,421.9 1215.0,429.9 1215.5,421.6 1216.0,437.2 1216.5,430.5 1217.0,439.7 1217.5,429.3 1218.0,433.1 1218.5,420.1 1219.0,430.2 1219.5,419.4 1220.0,427.7 1220.5,421.7 1221.0,427.8 1221.5,420.9 1222.0,426.7 1222.5,425.6 1223.0,435.1 1223.5,428.5 1224.0,434.2 1224.5,422.8 1225.0,423.8 1225.5,417.0 1226.0,425.7 1226.5,416.9 1227.0,424.7 1227.5,414.3 1228.0,424.0 1228.5,408.2 1229.0,415.4 1229.5,402.9 1230.0,409.7 1230.5,404.8 1231.0,415.0 1231.5,411.1 1232.0,419.4 1232.5,413.5 1233.0,419.1 1233.5,409.9 1234.0,420.9 1234.5,409.5 1235.0,419.3 1235.5,410.3 1236.0,418.1 1236.5,409.9 1237.0,414.8 1237.5,406.5 1238.0,415.1 1238.5,405.7 1239.0,419.4 1239.5,414.0 1240.0,417.7 1240.5,405.3 1241.0,414.6 1241.5,406.2 1242.0,413.0 1242.5,399.0 1243.0,403.9 1243.5,397.7 1244.0,409.0 1244.5,407.2 1245.0,417.0 1245.5,399.8 1246.0,411.3 1246.5,410.2 1247.0,420.1 1247.5,410.1 1248.0,413.5 1248.5,408.6 1249.0,418.4 1249.5,412.8 1250.0,422.0 1250.5,418.4 1251.0,426.7 1251.5,420.2 1252.0,431.3 1252.5,422.2 1253.0,428.8 1253.5,416.8 1254.0,424.0 1254.5,418.3 1255.0,425.0 1255.5,417.8 1256.0,426.2 1256.5,419.1 1257.0,428.0 1257.5,420.2 1258.0,428.2 1258.5,421.5 1259.0,428.1 1259.5,418.5 1260.0,422.0 1260.5,413.5 1261.0,420.5 1261.5,413.3 1262.0,427.0 1262.5,422.5 1263.0,432.6 1263.5,423.9 1264.0,431.2 1264.5,424.6 1265.0,430.0 1265.5,424.6 1266.0,432.3 1266.5,425.1 1267.0,431.3 1267.5,427.0 1268.0,433.1 1268.5,427.0 1269.0,436.9 1269.5,433.9 1270.0,442.1 1270.5,437.3 1271.0,443.9 1271.5,432.6 1272.0,439.8 1272.5,430.5 1273.0,439.3 1273.5,432.3 1274.0,440.9 1274.5,432.8 1275.0,441.7 1275.5,433.6 1276.0,437.8 1276.5,426.6 1277.0,434.6 1277.5,432.1 1278.0,441.7 1278.5,435.8 1279.0,443.2 1279.5,443.3 1280.0,452.8 1280.5,447.3 1281.0,450.7 1281.5,439.2 1282.0,445.0 1282.5,437.9 1283.0,447.1 1283.5,439.2 1284.0,448.2 1284.5,439.2 1285.0,448.3 1285.5,445.9 1286.0,453.5 1286.5,446.9 1287.0,449.1 1287.5,442.7 1288.0,450.4 1288.5,438.6 1289.0,443.0 1289.5,443.7 1290.0,449.1 1290.5,443.7 1291.0,447.1 1291.5,440.1 1292.0,443.6 1292.5,440.0 1293.0,446.9 1293.5,443.3 1294.0,451.5 1294.5,444.1 1295.0,451.0 1295.5,450.0 1296.0,458.0 1296.5,453.4 1297.0,460.1 1297.5,453.8 1298.0,455.7 1298.5,445.3 1299.0,452.3 1299.5,446.9 1300.0,457.0 1300.5,452.0 1301.0,457.9 1301.5,450.3 1302.0,453.2 1302.5,446.5 1303.0,451.6 1303.5,444.8 1304.0,452.3 1304.5,447.5 1305.0,451.3 1305.5,445.5 1306.0,452.1 1306.5,446.9 1307.0,452.1 1307.5,445.0 1308.0,452.8 1308.5,445.3 1309.0,453.8 1309.5,445.7 1310.0,453.8 1310.5,447.2 1311.0,454.0 1311.5,446.7 1312.0,459.6 1312.5,455.0 1313.0,453.1 1313.5,446.8 1314.0,463.2 1314.5,455.1 1315.0,453.5 1315.5,448.2 1316.0,451.9 1316.5,447.6 1317.0,453.2 1317.5,445.8 1318.0,452.2 1318.5,446.6 1319.0,454.1 1319.5,448.3 1320.0,459.4 1320.5,455.7 1321.0,464.6 1321.5,457.9 1322.0,461.9 1322.5,451.1 1323.0,455.1 1323.5,448.0 1324.0,458.2 1324.5,452.2 1325.0,454.3 1325.5,448.9 1326.0,454.1 1326.5,446.1 1327.0,453.0 1327.5,447.1 1328.0,455.2 1328.5,447.9 1329.0,455.0 1329.5,446.5 1330.0,452.8 1330.5,448.6 1331.0,453.6 1331.5,446.9 1332.0,455.0 1332.5,449.6 1333.0,454.5 1333.5,449.3 1334.0,456.6 1334.5,447.7 1335.0,456.4 1335.5,450.2 1336.0,455.1 1336.5,455.0 1337.0,464.2 1337.5,457.2 1338.0,461.2 1338.5,448.5 1339.0,456.0 1339.5,449.7 1340.0,454.5 1340.5,444.1 1341.0,449.8 1341.5,446.5 1342.0,455.8 1342.5,450.8 1343.0,455.3 1343.5,453.0 1344.0,463.7 1344.5,459.6 1345.0,463.6 1345.5,454.0 1346.0,455.8 1346.5,449.7 1347.0,462.2 1347.5,454.7 1348.0,456.8 1348.5,449.6 1349.0,455.3 1349.5,450.3 1350.0,454.4 1350.5,449.1 1351.0,455.4 1351.5,450.5 1352.0,456.1 1352.5,448.9 1353.0,456.7 1353.5,451.4 1354.0,456.1 1354.5,443.9 1355.0,450.8 1355.5,450.5 1356.0,457.9 1356.5,451.6 1357.0,460.2 1357.5,456.8 1358.0,466.8 1358.5,458.8 1359.0,460.0 1359.5,449.7 1360.0,457.6 1360.5,451.5 1361.0,455.9 1361.5,450.4 1362.0,456.1 1362.5,449.2 1363.0,458.5 1363.5,449.7 1364.0,458.7 1364.5,451.0 1365.0,455.9 1365.5,449.9 1366.0,456.2 1366.5,449.6 1367.0,455.6 1367.5,450.7 1368.0,453.6 1368.5,442.5 1369.0,449.3 1369.5,446.3 1370.0,458.1 1370.5,451.3 1371.0,456.5 1371.5,449.0 1372.0,456.5 1372.5,448.7 1373.0,456.3 1373.5,450.6 1374.0,449.0 1374.5,441.5 1375.0,452.3 1375.5,449.1 1376.0,455.6 1376.5,452.2 1377.0,456.0 1377.5,449.8 1378.0,457.1 1378.5,451.8 1379.0,466.2 1379.5,459.5 1380.0,457.3 1380.5,450.8 1381.0,458.8 1381.5,452.3 1382.0,456.6 1382.5,452.2 1383.0,458.7 1383.5,451.2 1384.0,458.2 1384.5,452.2 1385.0,458.3 1385.5,451.9 1386.0,457.6 1386.5,452.2 1387.0,457.3 1387.5,450.9 1388.0,460.9 1388.5,454.9 1389.0,458.3 1389.5,451.3 1390.0,458.1 1390.5,452.5 1391.0,456.4 1391.5,452.4 1392.0,451.6 1392.5,444.5 1393.0,450.2 1393.5,447.9 1394.0,456.2 1394.5,451.0 1395.0,458.3 1395.5,451.9 1396.0,456.2 1396.5,450.5 1397.0,455.7 1397.5,456.9 1398.0,464.9 1398.5,455.8 1399.0,457.2 1399.5,451.0 1400.0,454.6 1400.5,447.4 1401.0,453.4 1401.5,447.5 1402.0,457.5 1402.5,449.9 1403.0,457.0 1403.5,451.5 1404.0,456.7 1404.5,451.9 1405.0,454.7"/><polyline stroke="#1B70E0" points="111.0,495.6 111.5,490.8 112.0,498.1 112.5,491.9 113.0,490.4 113.5,482.3 114.0,497.5 114.5,493.1 115.0,498.6 115.5,491.4 116.0,500.5 116.5,493.9 117.0,500.8 117.5,492.4 118.0,501.5 118.5,493.0 119.0,504.6 119.5,493.2 120.0,510.0 120.5,506.1 121.0,510.4 121.5,494.6 122.0,505.9 122.5,493.7 123.0,493.6 123.5,478.9 124.0,494.5 124.5,494.5 125.0,503.3 125.5,497.5 126.0,504.0 126.5,494.2 127.0,506.5 127.5,489.9 128.0,499.9 128.5,492.3 129.0,506.5 129.5,496.7 130.0,508.5 130.5,497.9 131.0,509.0 131.5,490.1 132.0,501.7 132.5,498.4 133.0,508.8 133.5,499.5 134.0,508.3 134.5,500.4 135.0,506.7 135.5,501.5 136.0,509.7 136.5,499.9 137.0,510.8 137.5,498.5 138.0,508.8 138.5,498.1 139.0,509.9 139.5,499.2 140.0,509.3 140.5,501.9 141.0,515.7 141.5,514.0 142.0,522.3 142.5,509.9 143.0,507.9 143.5,499.4 144.0,508.4 144.5,501.2 145.0,510.2 145.5,500.6 146.0,510.4 146.5,499.3 147.0,511.7 147.5,501.1 148.0,504.8 148.5,489.7 149.0,498.4 149.5,488.3 150.0,500.4 150.5,495.4 151.0,509.8 151.5,503.5 152.0,514.1 152.5,501.6 153.0,510.3 153.5,504.1 154.0,510.5 154.5,501.9 155.0,511.1 155.5,505.5 156.0,515.1 156.5,503.6 157.0,512.0 157.5,505.3 158.0,512.1 158.5,503.5 159.0,512.4 159.5,504.9 160.0,510.4 160.5,503.7 161.0,511.6 161.5,503.2 162.0,512.3 162.5,503.3 163.0,513.8 163.5,510.1 164.0,519.8 164.5,504.3 165.0,512.8 165.5,502.2 166.0,511.0 166.5,505.3 167.0,513.1 167.5,503.5 168.0,520.7 168.5,510.6 169.0,520.3 169.5,506.6 170.0,515.6 170.5,509.4 171.0,516.9 171.5,505.7 172.0,513.8 172.5,505.0 173.0,512.9 173.5,503.2 174.0,514.3 174.5,504.2 175.0,514.0 175.5,514.0 176.0,527.7 176.5,513.1 177.0,514.6 177.5,506.2 178.0,514.3 178.5,504.3 179.0,513.7 179.5,512.3 180.0,523.7 180.5,516.1 181.0,518.1 181.5,507.0 182.0,515.1 182.5,504.6 183.0,512.6 183.5,506.5 184.0,513.9 184.5,504.5 185.0,512.8 185.5,504.1 186.0,516.4 186.5,507.3 187.0,515.4 187.5,507.0 188.0,515.9 188.5,504.3 189.0,508.7 189.5,499.7 190.0,511.8 190.5,505.6 191.0,516.8 191.5,507.3 192.0,513.5 192.5,506.4 193.0,515.1 193.5,503.7 194.0,515.5 194.5,504.4 195.0,516.6 195.5,506.3 196.0,508.6 196.5,497.0 197.0,502.8 197.5,493.8 198.0,508.0 198.5,502.2 199.0,514.9 199.5,504.9 200.0,515.1 200.5,515.4 201.0,527.7 201.5,504.7 202.0,514.2 202.5,508.2 203.0,521.7 203.5,516.1 204.0,526.0 204.5,509.7 205.0,518.1 205.5,506.9 206.0,518.9 206.5,509.2 207.0,518.3 207.5,509.6 208.0,515.8 208.5,507.7 209.0,515.9 209.5,508.3 210.0,517.2 210.5,509.6 211.0,520.1 211.5,511.0 212.0,518.7 212.5,511.0 213.0,517.9 213.5,510.9 214.0,518.3 214.5,510.0 215.0,520.3 215.5,512.4 216.0,522.0 216.5,517.5 217.0,530.0 217.5,522.4 218.0,530.7 218.5,523.1 219.0,527.0 219.5,510.5 220.0,519.2 220.5,507.0 221.0,509.4 221.5,501.4 222.0,516.1 222.5,511.4 223.0,523.3 223.5,514.7 224.0,522.5 224.5,514.8 225.0,521.9 225.5,517.1 226.0,522.6 226.5,517.0 227.0,523.3 227.5,518.9 228.0,524.2 228.5,518.3 229.0,526.9 229.5,520.8 230.0,528.1 230.5,521.3 231.0,529.6 231.5,520.5 232.0,529.5 232.5,522.5 233.0,529.9 233.5,514.7 234.0,524.5 234.5,525.8 235.0,531.3 235.5,523.8 236.0,527.0 236.5,520.6 237.0,528.5 237.5,521.5 238.0,529.9 238.5,526.2 239.0,532.4 239.5,525.1 240.0,531.7 240.5,526.7 241.0,532.6 241.5,527.2 242.0,534.2 242.5,527.3 243.0,539.6 243.5,538.8 244.0,545.6 244.5,533.9 245.0,534.7 245.5,528.1 246.0,532.9 246.5,528.0 247.0,535.8 247.5,534.2 248.0,545.4 248.5,534.3 249.0,533.5 249.5,527.8 250.0,534.2 250.5,528.0 251.0,534.0 251.5,526.2 252.0,534.1 252.5,522.0 253.0,526.3 253.5,518.8 254.0,525.4 254.5,519.2 255.0,529.5 255.5,526.5 256.0,532.1 256.5,526.9 257.0,534.1 257.5,527.3 258.0,533.0 258.5,526.7 259.0,531.8 259.5,521.3 260.0,524.2 260.5,513.7 261.0,522.7 261.5,520.4 262.0,533.7 262.5,525.4 263.0,538.7 263.5,531.3 264.0,540.1 264.5,530.0 265.0,534.0 265.5,527.5 266.0,534.1 266.5,529.4 267.0,540.2 267.5,533.8 268.0,541.7 268.5,531.8 269.0,539.5 269.5,529.9 270.0,537.1 270.5,527.4 271.0,545.0 271.5,540.5 272.0,543.7 272.5,530.3 273.0,535.1 273.5,529.6 274.0,538.0 274.5,528.7 275.0,537.4 275.5,528.4 276.0,540.9 276.5,536.5 277.0,544.8 277.5,536.0 278.0,541.6 278.5,530.2 279.0,535.4 279.5,528.7 280.0,535.4 280.5,528.2 281.0,536.5 281.5,528.6 282.0,535.3 282.5,529.6 283.0,537.7 283.5,528.1 284.0,532.0 284.5,524.3 285.0,529.8 285.5,525.3 286.0,535.2 286.5,532.1 287.0,537.1 287.5,530.1 288.0,539.2 288.5,531.5 289.0,538.0 289.5,530.9 290.0,538.8 290.5,532.5 291.0,540.4 291.5,533.0 292.0,540.3 292.5,531.7 293.0,539.9 293.5,531.6 294.0,540.4 294.5,535.4 295.0,548.2 295.5,540.4 296.0,543.0 296.5,531.2 297.0,538.9 297.5,533.8 298.0,541.2 298.5,531.3 299.0,541.5 299.5,533.0 300.0,540.0 300.5,531.5 301.0,541.3 301.5,532.7 302.0,538.7 302.5,534.2 303.0,538.6 303.5,531.5 304.0,539.3 304.5,533.9 305.0,540.4 305.5,533.5 306.0,540.1 306.5,527.6 307.0,535.9 307.5,526.2 308.0,534.6 308.5,526.5 309.0,536.5 309.5,531.9 310.0,541.3 310.5,531.8 311.0,540.2 311.5,530.3 312.0,540.0 312.5,532.3 313.0,539.4 313.5,528.4 314.0,539.5 314.5,531.7 315.0,528.0 315.5,521.7 316.0,540.1 316.5,532.0 317.0,536.9 317.5,528.9 318.0,540.3 318.5,529.5 319.0,538.7 319.5,529.9 320.0,536.8 320.5,528.5 321.0,536.1 321.5,528.2 322.0,535.3 322.5,533.8 323.0,545.1 323.5,529.2 324.0,534.9 324.5,526.0 325.0,535.5 325.5,528.5 326.0,534.1 326.5,527.0 327.0,536.4 327.5,526.7 328.0,534.9 328.5,527.4 329.0,533.3 329.5,519.9 330.0,528.0 330.5,520.1 331.0,527.7 331.5,524.9 332.0,534.9 332.5,530.9 333.0,536.1 333.5,526.3 334.0,528.8 334.5,521.3 335.0,530.6 335.5,528.7 336.0,537.3 336.5,530.8 337.0,535.2 337.5,528.6 338.0,542.1 338.5,538.6 339.0,541.8 339.5,528.8 340.0,533.3 340.5,527.9 341.0,534.0 341.5,526.5 342.0,533.7 342.5,528.1 343.0,533.0 343.5,526.8 344.0,533.0 344.5,522.8 345.0,524.6 345.5,514.2 346.0,520.0 346.5,517.9 347.0,528.1 347.5,522.7 348.0,530.1 348.5,522.0 349.0,530.6 349.5,515.8 350.0,523.2 350.5,522.9 351.0,531.6 351.5,521.1 352.0,531.1 352.5,520.1 353.0,530.3 353.5,519.5 354.0,527.6 354.5,518.3 355.0,524.6 355.5,508.2 356.0,516.0 356.5,514.8 357.0,522.7 357.5,515.0 358.0,524.6 358.5,514.9 359.0,521.1 359.5,513.3 360.0,514.0 360.5,505.0 361.0,514.7 361.5,511.7 362.0,518.4 362.5,512.7 363.0,519.2 363.5,512.3 364.0,518.9 364.5,514.8 365.0,522.3 365.5,517.6 366.0,518.2 366.5,507.5 367.0,514.1 367.5,506.3 368.0,509.3 368.5,503.2 369.0,508.1 369.5,499.5 370.0,504.7 370.5,497.4 371.0,503.3 371.5,493.1 372.0,500.6 372.5,491.7 373.0,496.2 373.5,487.4 374.0,494.8 374.5,482.9 375.0,490.4 375.5,481.6 376.0,487.5 376.5,474.7 377.0,483.9 377.5,470.0 378.0,478.5 378.5,467.5 379.0,471.2 379.5,459.2 380.0,466.8 380.5,452.6 381.0,459.0 381.5,445.3 382.0,451.3 382.5,436.3 383.0,440.6 383.5,425.1 384.0,426.4 384.5,415.4 385.0,416.7 385.5,410.2 386.0,412.4 386.5,411.0 387.0,411.8 387.5,408.5 388.0,412.8 388.5,411.0 389.0,420.7 389.5,418.3 390.0,424.5 390.5,421.3 391.0,431.3 391.5,424.8 392.0,433.3 392.5,426.2 393.0,439.3 393.5,434.6 394.0,446.4 394.5,437.0 395.0,449.4 395.5,444.7 396.0,456.0 396.5,450.1 397.0,462.3 397.5,451.9 398.0,465.8 398.5,456.2 399.0,475.0 399.5,469.6 400.0,484.2 400.5,477.2 401.0,485.6 401.5,473.0 402.0,479.1 402.5,474.0 403.0,483.1 403.5,471.2 404.0,479.7 404.5,472.5 405.0,479.9 405.5,474.1 406.0,488.3 406.5,481.2 407.0,490.6 407.5,479.0 408.0,481.5 408.5,472.0 409.0,479.7 409.5,472.6 410.0,479.1 410.5,467.1 411.0,469.8 411.5,461.6 412.0,469.9 412.5,463.1 413.0,474.8 413.5,473.4 414.0,480.0 414.5,471.6 415.0,480.2 415.5,470.5 416.0,479.9 416.5,464.4 417.0,471.9 417.5,473.0 418.0,476.7 418.5,470.8 419.0,483.9 419.5,475.7 420.0,477.3 420.5,471.6 421.0,478.5 421.5,471.3 422.0,478.6 422.5,471.9 423.0,484.0 423.5,478.3 424.0,484.1 424.5,471.8 425.0,478.5 425.5,471.4 426.0,472.3 426.5,460.5 427.0,467.9 427.5,461.1 428.0,465.6 428.5,455.6 429.0,461.6 429.5,450.8 430.0,459.4 430.5,451.0 431.0,451.5 431.5,437.7 432.0,447.1 432.5,440.9 433.0,451.4 433.5,448.7 434.0,456.4 434.5,447.7 435.0,447.6 435.5,438.8 436.0,457.7 436.5,450.5 437.0,458.5 437.5,445.1 438.0,450.5 438.5,442.6 439.0,450.5 439.5,444.4 440.0,452.9 440.5,449.0 441.0,456.0 441.5,447.8 442.0,453.4 442.5,447.7 443.0,452.6 443.5,444.2 444.0,443.7 444.5,432.3 445.0,441.8 445.5,429.9 446.0,430.0 446.5,421.5 447.0,430.1 447.5,425.3 448.0,430.1 448.5,421.1 449.0,431.4 449.5,421.5 450.0,427.0 450.5,416.2 451.0,423.6 451.5,409.3 452.0,411.7 452.5,400.2 453.0,411.9 453.5,411.3 454.0,418.3 454.5,403.6 455.0,405.4 455.5,392.2 456.0,396.0 456.5,389.2 457.0,391.4 457.5,390.3 458.0,394.1 458.5,393.3 459.0,399.8 459.5,395.1 460.0,404.8 460.5,401.9 461.0,411.0 461.5,405.7 462.0,413.5 462.5,411.3 463.0,422.0 463.5,424.9 464.0,438.1 464.5,426.9 465.0,427.7 465.5,418.1 466.0,425.7 466.5,419.6 467.0,425.8 467.5,419.7 468.0,425.9 468.5,419.7 469.0,427.3 469.5,419.3 470.0,425.8 470.5,420.4 471.0,430.4 471.5,420.0 472.0,430.3 472.5,424.9 473.0,427.0 473.5,421.4 474.0,433.1 474.5,424.4 475.0,437.0 475.5,427.6 476.0,436.7 476.5,427.5 477.0,441.8 477.5,434.5 478.0,446.4 478.5,435.9 479.0,441.0 479.5,429.2 480.0,434.6 480.5,425.6 481.0,430.4 481.5,421.0 482.0,427.8 482.5,416.1 483.0,422.6 483.5,411.5 484.0,418.4 484.5,411.7 485.0,417.9 485.5,409.5 486.0,413.7 486.5,402.8 487.0,402.6 487.5,388.2 488.0,392.8 488.5,381.9 489.0,388.0 489.5,377.0 490.0,381.9 490.5,369.9 491.0,375.7 491.5,363.1 492.0,371.7 492.5,360.6 493.0,367.7 493.5,354.4 494.0,350.7 494.5,340.6 495.0,340.6 495.5,339.2 496.0,343.4 496.5,344.6 497.0,350.1 497.5,347.8 498.0,359.7 498.5,360.0 499.0,376.4 499.5,374.7 500.0,386.4 500.5,383.2 501.0,400.3 501.5,397.1 502.0,410.0 502.5,407.6 503.0,424.4 503.5,422.4 504.0,435.7 504.5,427.4 505.0,442.5 505.5,431.7 506.0,445.7 506.5,437.5 507.0,448.0 507.5,438.8 508.0,446.7 508.5,441.6 509.0,451.7 509.5,442.6 510.0,446.5 510.5,435.6 511.0,443.8 511.5,438.0 512.0,448.0 512.5,444.7 513.0,459.0 513.5,453.8 514.0,458.3 514.5,451.8 515.0,461.5 515.5,456.5 516.0,470.7 516.5,461.6 517.0,472.8 517.5,466.6 518.0,474.8 518.5,466.2 519.0,478.1 519.5,472.0 520.0,480.0 520.5,472.7 521.0,482.3 521.5,475.2 522.0,486.0 522.5,477.1 523.0,480.9 523.5,466.9 524.0,483.5 524.5,481.0 525.0,489.9 525.5,486.6 526.0,493.0 526.5,486.8 527.0,495.9 527.5,490.8 528.0,500.8 528.5,491.8 529.0,500.0 529.5,493.6 530.0,505.2 530.5,494.6 531.0,506.9 531.5,498.9 532.0,507.8 532.5,499.7 533.0,507.9 533.5,500.9 534.0,510.0 534.5,501.2 535.0,511.1 535.5,504.3 536.0,513.5 536.5,505.5 537.0,515.9 537.5,509.9 538.0,519.2 538.5,509.5 539.0,518.4 539.5,512.3 540.0,523.7 540.5,512.9 541.0,523.8 541.5,517.8 542.0,528.2 542.5,509.3 543.0,520.6 543.5,521.0 544.0,531.7 544.5,523.6 545.0,533.1 545.5,522.6 546.0,533.3 546.5,525.9 547.0,535.4 547.5,527.2 548.0,535.8 548.5,529.3 549.0,538.9 549.5,531.3 550.0,539.3 550.5,531.8 551.0,543.0 551.5,526.1 552.0,530.6 552.5,527.2 553.0,546.1 553.5,537.9 554.0,543.3 554.5,530.6 555.0,539.2 555.5,535.3 556.0,547.3 556.5,540.2 557.0,550.5 557.5,534.4 558.0,541.3 558.5,529.3 559.0,542.8 559.5,543.7 560.0,551.8 560.5,543.2 561.0,550.4 561.5,541.2 562.0,552.0 562.5,544.2 563.0,544.9 563.5,532.9 564.0,546.1 564.5,544.1 565.0,552.5 565.5,545.4 566.0,554.2 566.5,542.6 567.0,557.5 567.5,552.7 568.0,561.9 568.5,543.5 569.0,555.1 569.5,546.5 570.0,551.2 570.5,537.3 571.0,544.8 571.5,533.7 572.0,546.3 572.5,539.4 573.0,557.0 573.5,546.9 574.0,555.4 574.5,545.5 575.0,555.9 575.5,546.2 576.0,555.6 576.5,549.4 577.0,556.9 577.5,549.9 578.0,557.9 578.5,545.6 579.0,547.8 579.5,539.0 580.0,546.0 580.5,542.0 581.0,554.1 581.5,549.5 582.0,559.8 582.5,551.2 583.0,562.0 583.5,551.9 584.0,559.3 584.5,551.3 585.0,561.5 585.5,552.3 586.0,560.9 586.5,551.2 587.0,559.7 587.5,550.1 588.0,559.0 588.5,542.7 589.0,544.9 589.5,542.7 590.0,559.7 590.5,548.5 591.0,555.7 591.5,542.7 592.0,548.9 592.5,539.3 593.0,548.0 593.5,543.3 594.0,555.8 594.5,546.6 595.0,553.9 595.5,546.6 596.0,560.1 596.5,555.7 597.0,559.6 597.5,545.4 598.0,553.9 598.5,541.1 599.0,550.4 599.5,542.0 600.0,548.9 600.5,538.9 601.0,548.4 601.5,538.7 602.0,549.6 602.5,541.4 603.0,545.8 603.5,538.8 604.0,545.1 604.5,536.0 605.0,548.6 605.5,536.6 606.0,552.8 606.5,550.3 607.0,556.5 607.5,543.4 608.0,543.4 608.5,536.6 609.0,545.5 609.5,533.2 610.0,544.8 610.5,532.3 611.0,545.2 611.5,526.4 612.0,529.8 612.5,521.9 613.0,535.9 613.5,532.2 614.0,542.8 614.5,522.9 615.0,530.0 615.5,519.9 616.0,537.5 616.5,525.4 617.0,535.8 617.5,526.0 618.0,533.5 618.5,523.0 619.0,529.5 619.5,518.5 620.0,521.7 620.5,508.3 621.0,518.5 621.5,511.2 622.0,519.8 622.5,509.0 623.0,516.8 623.5,504.7 624.0,515.4 624.5,502.3 625.0,507.7 625.5,496.6 626.0,506.6 626.5,496.1 627.0,503.3 627.5,486.9 628.0,490.2 628.5,480.9 629.0,490.6 629.5,483.2 630.0,488.3 630.5,480.3 631.0,485.2 631.5,472.9 632.0,480.6 632.5,469.9 633.0,478.2 633.5,464.3 634.0,474.4 634.5,458.7 635.0,469.4 635.5,447.6 636.0,450.4 636.5,432.7 637.0,441.9 637.5,437.8 638.0,453.6 638.5,441.6 639.0,445.4 639.5,435.2 640.0,440.3 640.5,431.8 641.0,435.2 641.5,424.1 642.0,430.2 642.5,418.3 643.0,427.5 643.5,415.6 644.0,420.5 644.5,410.4 645.0,415.7 645.5,402.9 646.0,411.3 646.5,401.1 647.0,407.5 647.5,380.3 648.0,387.0 648.5,377.2 649.0,392.5 649.5,378.4 650.0,383.2 650.5,372.0 651.0,376.1 651.5,362.1 652.0,366.6 652.5,353.9 653.0,358.5 653.5,346.1 654.0,352.6 654.5,341.8 655.0,344.9 655.5,331.9 656.0,337.9 656.5,326.2 657.0,329.7 657.5,315.3 658.0,322.6 658.5,315.7 659.0,323.4 659.5,317.5 660.0,324.1 660.5,309.6 661.0,307.2 661.5,299.3 662.0,300.6 662.5,294.4 663.0,296.3 663.5,293.9 664.0,297.9 664.5,295.9 665.0,302.9 665.5,296.9 666.0,305.8 666.5,299.3 667.0,314.1 667.5,310.6 668.0,323.5 668.5,316.7 669.0,328.8 669.5,323.7 670.0,339.7 670.5,325.4 671.0,336.7 671.5,329.3 672.0,346.3 672.5,343.7 673.0,360.7 673.5,356.0 674.0,374.0 674.5,370.2 675.0,388.2 675.5,381.6 676.0,391.1 676.5,378.7 677.0,394.6 677.5,387.5 678.0,400.9 678.5,393.8 679.0,405.9 679.5,408.7 680.0,426.2 680.5,422.4 681.0,431.2 681.5,422.9 682.0,430.1 682.5,425.9 683.0,439.2 683.5,441.1 684.0,461.5 684.5,456.3 685.0,470.3 685.5,459.1 686.0,471.5 686.5,467.9 687.0,471.6 687.5,462.4 688.0,477.0 688.5,476.1 689.0,496.7 689.5,488.0 690.0,507.6 690.5,503.8 691.0,519.1 691.5,508.7 692.0,520.7 692.5,505.7 693.0,519.4 693.5,508.8 694.0,521.9 694.5,513.9 695.0,527.5 695.5,516.6 696.0,532.2 696.5,520.8 697.0,540.5 697.5,538.5 698.0,543.5 698.5,532.2 699.0,541.4 699.5,536.0 700.0,545.8 700.5,541.5 701.0,550.7 701.5,543.2 702.0,555.2 702.5,550.3 703.0,559.7 703.5,547.8 704.0,557.7 704.5,550.9 705.0,559.2 705.5,553.0 706.0,563.9 706.5,556.9 707.0,567.5 707.5,561.2 708.0,567.8 708.5,562.4 709.0,570.8 709.5,563.9 710.0,570.8 710.5,562.4 711.0,573.6 711.5,564.8 712.0,571.8 712.5,563.9 713.0,573.7 713.5,566.5 714.0,566.8 714.5,558.7 715.0,571.7 715.5,567.5 716.0,578.6 716.5,569.4 717.0,577.4 717.5,572.0 718.0,582.1 718.5,578.4 719.0,590.5 719.5,584.4 720.0,594.2 720.5,584.7 721.0,587.2 721.5,576.0 722.0,584.4 722.5,576.2 723.0,588.6 723.5,579.9 724.0,586.5 724.5,589.3 725.0,596.5 725.5,581.2 726.0,589.6 726.5,581.4 727.0,590.1 727.5,580.1 728.0,592.3 728.5,583.7 729.0,590.6 729.5,582.7 730.0,592.3 730.5,585.7 731.0,594.3 731.5,583.0 732.0,593.6 732.5,586.5 733.0,588.3 733.5,575.7 734.0,581.4 734.5,578.2 735.0,595.1 735.5,583.8 736.0,594.7 736.5,579.1 737.0,581.2 737.5,571.2 738.0,588.8 738.5,589.8 739.0,595.4 739.5,586.2 740.0,597.7 740.5,589.2 741.0,596.1 741.5,590.6 742.0,596.4 742.5,588.8 743.0,600.5 743.5,590.7 744.0,600.3 744.5,592.7 745.0,598.5 745.5,591.2 746.0,600.1 746.5,591.4 747.0,597.8 747.5,590.2 748.0,598.1 748.5,590.9 749.0,599.8 749.5,592.5 750.0,597.8 750.5,590.4 751.0,598.8 751.5,589.6 752.0,596.3 752.5,589.1 753.0,595.9 753.5,587.4 754.0,590.2 754.5,585.3 755.0,595.2 755.5,588.2 756.0,593.2 756.5,588.5 757.0,593.7 757.5,586.9 758.0,587.9 758.5,576.8 759.0,587.1 759.5,583.5 760.0,588.7 760.5,582.5 761.0,591.5 761.5,584.0 762.0,592.0 762.5,584.7 763.0,594.1 763.5,582.1 764.0,589.0 764.5,585.1 765.0,596.4 765.5,592.3 766.0,598.7 766.5,591.3 767.0,600.6 767.5,591.9 768.0,603.0 768.5,592.8 769.0,604.9 769.5,596.0 770.0,603.4 770.5,597.1 771.0,606.4 771.5,600.1 772.0,614.3 772.5,610.8 773.0,622.9 773.5,609.7 774.0,608.3 774.5,603.7 775.0,611.5 775.5,602.4 776.0,610.6 776.5,604.6 777.0,614.8 777.5,604.8 778.0,614.4 778.5,606.4 779.0,615.4 779.5,609.7 780.0,614.6 780.5,607.2 781.0,614.6 781.5,610.4 782.0,617.0 782.5,608.5 783.0,616.8 783.5,610.0 784.0,619.6 784.5,609.8 785.0,620.6 785.5,617.4 786.0,625.4 786.5,617.1 787.0,624.7 787.5,611.4 788.0,620.8 788.5,615.2 789.0,620.4 789.5,615.6 790.0,623.0 790.5,613.1 791.0,622.3 791.5,613.7 792.0,621.7 792.5,615.6 793.0,622.7 793.5,615.7 794.0,621.6 794.5,612.4 795.0,614.4 795.5,608.4 796.0,619.0 796.5,615.2 797.0,624.4 797.5,611.4 798.0,616.2 798.5,617.1 799.0,625.4 799.5,619.2 800.0,624.6 800.5,617.0 801.0,625.9 801.5,619.8 802.0,627.5 802.5,622.6 803.0,631.1 803.5,626.2 804.0,629.1 804.5,622.1 805.0,624.3 805.5,617.5 806.0,625.6 806.5,617.3 807.0,625.4 807.5,619.7 808.0,628.5 808.5,622.6 809.0,629.8 809.5,621.9 810.0,625.9 810.5,617.4 811.0,624.0 811.5,617.2 812.0,623.8 812.5,618.8 813.0,624.4 813.5,617.5 814.0,625.2 814.5,619.4 815.0,624.6 815.5,617.8 816.0,625.8 816.5,618.2 817.0,627.8 817.5,623.8 818.0,631.6 818.5,624.4 819.0,629.3 819.5,618.6 820.0,623.7 820.5,624.0 821.0,632.9 821.5,626.9 822.0,633.2 822.5,622.8 823.0,625.7 823.5,618.3 824.0,626.5 824.5,620.1 825.0,626.4 825.5,618.3 826.0,624.5 826.5,620.0 827.0,625.9 827.5,619.8 828.0,627.0 828.5,619.5 829.0,621.3 829.5,615.3 830.0,622.0 830.5,618.5 831.0,625.4 831.5,619.3 832.0,630.9 832.5,629.1 833.0,634.9 833.5,625.0 834.0,626.1 834.5,622.1 835.0,625.5 835.5,620.0 836.0,626.0 836.5,622.0 837.0,627.4 837.5,622.7 838.0,626.0 838.5,617.3 839.0,623.3 839.5,617.4 840.0,623.7 840.5,619.5 841.0,630.5 841.5,622.8 842.0,630.8 842.5,624.5 843.0,630.8 843.5,624.5 844.0,629.6 844.5,628.9 845.0,638.0 845.5,632.2 846.0,635.9 846.5,628.0 847.0,630.2 847.5,622.7 848.0,629.1 848.5,625.0 849.0,629.5 849.5,622.4 850.0,631.5 850.5,622.4 851.0,630.6 851.5,625.5 852.0,631.2 852.5,625.0 853.0,630.0 853.5,619.5 854.0,626.4 854.5,624.8 855.0,632.6 855.5,622.3 856.0,627.4 856.5,619.4 857.0,627.0 857.5,620.5 858.0,630.2 858.5,626.6 859.0,631.5 859.5,625.3 860.0,632.7 860.5,625.4 861.0,631.7 861.5,627.6 862.0,632.9 862.5,627.1 863.0,632.8 863.5,624.6 864.0,626.0 864.5,621.6 865.0,626.1 865.5,622.4 866.0,630.6 866.5,626.7 867.0,632.2 867.5,629.6 868.0,636.2 868.5,626.3 869.0,631.4 869.5,631.8 870.0,640.2 870.5,635.4 871.0,638.8 871.5,631.9 872.0,632.5 872.5,627.1 873.0,633.1 873.5,628.0 874.0,634.0 874.5,633.2 875.0,643.7 875.5,636.7 876.0,638.5 876.5,628.2 877.0,634.0 877.5,629.3 878.0,632.7 878.5,624.6 879.0,628.3 879.5,623.9 880.0,632.2 880.5,627.5 881.0,633.7 881.5,629.5 882.0,632.5 882.5,631.7 883.0,640.0 883.5,633.4 884.0,638.5 884.5,629.8 885.0,633.5 885.5,628.4 886.0,636.1 886.5,631.8 887.0,637.5 887.5,633.1 888.0,637.6 888.5,628.2 889.0,633.1 889.5,628.5 890.0,630.1 890.5,623.2 891.0,627.9 891.5,623.6 892.0,634.4 892.5,627.0 893.0,641.1 893.5,634.3 894.0,634.0 894.5,627.8 895.0,641.2 895.5,634.5 896.0,633.6 896.5,626.1 897.0,635.2 897.5,627.5 898.0,634.4 898.5,627.1 899.0,634.7 899.5,625.6 900.0,632.2 900.5,620.1 901.0,624.5 901.5,622.3 902.0,634.4 902.5,628.3 903.0,633.8 903.5,628.8 904.0,632.5 904.5,627.9 905.0,633.0 905.5,626.8 906.0,632.8 906.5,623.5 907.0,629.7 907.5,629.1 908.0,634.7 908.5,629.8 909.0,635.0 909.5,628.5 910.0,635.4 910.5,628.1 911.0,635.0 911.5,628.7 912.0,629.0 912.5,619.7 913.0,628.4 913.5,628.2 914.0,633.6 914.5,627.5 915.0,635.0 915.5,629.5 916.0,633.8 916.5,628.9 917.0,633.3 917.5,628.3 918.0,642.3 918.5,635.7 919.0,634.3 919.5,629.0 920.0,635.4 920.5,628.2 921.0,627.7 921.5,617.9 922.0,622.4 922.5,618.3 923.0,629.6 923.5,626.9 924.0,636.4 924.5,628.8 925.0,635.4 925.5,629.6 926.0,635.2 926.5,629.0 927.0,634.7 927.5,628.5 928.0,632.6 928.5,621.9 929.0,629.9 929.5,624.2 930.0,633.6 930.5,625.6 931.0,633.1 931.5,628.1 932.0,632.3 932.5,625.5 933.0,632.7 933.5,625.0 934.0,633.2 934.5,628.6 935.0,638.2 935.5,631.2 936.0,635.5 936.5,625.7 937.0,633.7 937.5,626.0 938.0,632.5 938.5,625.9 939.0,631.0 939.5,621.8 940.0,624.2 940.5,618.7 941.0,623.8 941.5,619.4 942.0,629.4 942.5,625.4 943.0,631.2 943.5,625.9 944.0,632.4 944.5,624.2 945.0,631.0 945.5,625.8 946.0,630.4 946.5,625.7 947.0,628.8 947.5,624.6 948.0,632.8 948.5,631.4 949.0,633.4 949.5,622.8 950.0,627.6 950.5,626.5 951.0,633.8 951.5,629.6 952.0,631.2 952.5,620.6 953.0,626.5 953.5,620.0 954.0,618.7 954.5,610.6 955.0,614.2 955.5,610.8 956.0,624.3 956.5,614.6 957.0,623.0 957.5,613.3 958.0,621.5 958.5,612.4 959.0,617.2 959.5,612.1 960.0,615.0 960.5,607.8 961.0,614.5 961.5,607.0 962.0,610.5 962.5,604.3 963.0,609.8 963.5,599.8 964.0,606.9 964.5,598.1 965.0,604.3 965.5,596.9 966.0,601.3 966.5,595.1 967.0,606.3 967.5,600.8 968.0,602.2 968.5,591.2 969.0,596.5 969.5,592.8 970.0,596.9 970.5,593.4 971.0,595.3 971.5,591.1 972.0,591.7 972.5,588.9 973.0,591.5 973.5,589.1 974.0,592.1 974.5,589.1 975.0,597.0 975.5,597.0 976.0,599.2 976.5,592.4 977.0,598.3 977.5,593.4 978.0,593.4 978.5,587.6 979.0,602.1 979.5,595.9 980.0,605.5 980.5,596.9 981.0,608.5 981.5,598.4 982.0,608.9 982.5,595.4 983.0,598.5 983.5,595.6 984.0,610.2 984.5,606.3 985.0,613.1 985.5,605.3 986.0,612.4 986.5,609.1 987.0,615.1 987.5,604.3 988.0,610.4 988.5,610.6 989.0,615.2 989.5,609.9 990.0,621.4 990.5,615.4 991.0,619.7 991.5,611.4 992.0,617.0 992.5,610.8 993.0,619.6 993.5,617.5 994.0,624.2 994.5,616.8 995.0,621.4 995.5,611.5 996.0,616.3 996.5,612.6 997.0,618.0 997.5,612.7 998.0,619.6 998.5,613.2 999.0,619.6 999.5,613.7 1000.0,619.8 1000.5,612.7 1001.0,621.0 1001.5,613.3 1002.0,621.4 1002.5,613.0 1003.0,620.2 1003.5,614.3 1004.0,619.8 1004.5,615.6 1005.0,622.6 1005.5,615.7 1006.0,620.9 1006.5,610.7 1007.0,613.9 1007.5,605.6 1008.0,612.9 1008.5,610.2 1009.0,622.2 1009.5,615.1 1010.0,621.2 1010.5,612.1 1011.0,621.2 1011.5,613.2 1012.0,621.2 1012.5,613.5 1013.0,618.9 1013.5,612.4 1014.0,621.3 1014.5,613.9 1015.0,619.7 1015.5,611.8 1016.0,618.9 1016.5,609.8 1017.0,613.9 1017.5,610.3 1018.0,620.4 1018.5,612.0 1019.0,619.3 1019.5,616.0 1020.0,626.0 1020.5,616.4 1021.0,619.5 1021.5,613.2 1022.0,616.9 1022.5,615.4 1023.0,623.1 1023.5,617.2 1024.0,624.7 1024.5,614.8 1025.0,620.8 1025.5,610.6 1026.0,616.2 1026.5,610.2 1027.0,614.5 1027.5,610.0 1028.0,622.2 1028.5,619.4 1029.0,620.6 1029.5,610.2 1030.0,613.7 1030.5,609.4 1031.0,614.3 1031.5,612.4 1032.0,619.3 1032.5,613.3 1033.0,620.1 1033.5,610.2 1034.0,612.5 1034.5,608.9 1035.0,614.9 1035.5,608.7 1036.0,612.8 1036.5,607.6 1037.0,617.2 1037.5,612.4 1038.0,618.3 1038.5,613.9 1039.0,619.9 1039.5,610.6 1040.0,613.8 1040.5,607.2 1041.0,611.5 1041.5,606.6 1042.0,612.6 1042.5,610.0 1043.0,620.2 1043.5,613.0 1044.0,616.3 1044.5,605.3 1045.0,611.2 1045.5,598.7 1046.0,605.1 1046.5,600.2 1047.0,609.0 1047.5,604.0 1048.0,610.7 1048.5,601.7 1049.0,609.5 1049.5,600.3 1050.0,607.6 1050.5,600.8 1051.0,608.4 1051.5,600.7 1052.0,607.7 1052.5,601.5 1053.0,606.4 1053.5,600.9 1054.0,607.3 1054.5,596.4 1055.0,604.7 1055.5,595.8 1056.0,605.8 1056.5,597.0 1057.0,602.5 1057.5,592.9 1058.0,599.1 1058.5,586.7 1059.0,597.9 1059.5,589.9 1060.0,598.6 1060.5,590.6 1061.0,597.0 1061.5,594.6 1062.0,602.2 1062.5,586.0 1063.0,596.2 1063.5,588.1 1064.0,591.6 1064.5,586.4 1065.0,591.7 1065.5,582.4 1066.0,589.7 1066.5,579.4 1067.0,593.5 1067.5,588.7 1068.0,593.6 1068.5,576.3 1069.0,582.9 1069.5,576.7 1070.0,580.1 1070.5,571.7 1071.0,578.4 1071.5,573.0 1072.0,589.2 1072.5,579.6 1073.0,575.6 1073.5,566.6 1074.0,567.7 1074.5,556.0 1075.0,559.0 1075.5,552.0 1076.0,560.6 1076.5,555.3 1077.0,567.0 1077.5,557.6 1078.0,565.8 1078.5,554.4 1079.0,567.5 1079.5,560.1 1080.0,565.0 1080.5,554.3 1081.0,557.3 1081.5,549.3 1082.0,558.0 1082.5,548.7 1083.0,553.9 1083.5,546.0 1084.0,552.3 1084.5,537.8 1085.0,540.9 1085.5,529.1 1086.0,540.0 1086.5,534.9 1087.0,546.8 1087.5,535.0 1088.0,542.5 1088.5,531.9 1089.0,541.3 1089.5,534.9 1090.0,545.6 1090.5,533.0 1091.0,535.9 1091.5,524.3 1092.0,527.5 1092.5,523.4 1093.0,528.6 1093.5,513.8 1094.0,519.7 1094.5,510.3 1095.0,516.5 1095.5,496.7 1096.0,504.6 1096.5,493.9 1097.0,503.1 1097.5,494.3 1098.0,501.0 1098.5,486.6 1099.0,492.2 1099.5,484.6 1100.0,489.9 1100.5,478.3 1101.0,482.9 1101.5,471.0 1102.0,479.4 1102.5,466.7 1103.0,474.2 1103.5,461.7 1104.0,467.0 1104.5,456.0 1105.0,462.2 1105.5,455.8 1106.0,464.1 1106.5,453.8 1107.0,459.0 1107.5,449.0 1108.0,452.4 1108.5,439.9 1109.0,445.7 1109.5,436.1 1110.0,441.8 1110.5,433.8 1111.0,440.1 1111.5,433.0 1112.0,437.5 1112.5,431.6 1113.0,434.0 1113.5,430.6 1114.0,436.8 1114.5,433.7 1115.0,437.0 1115.5,430.0 1116.0,431.6 1116.5,426.9 1117.0,430.8 1117.5,426.1 1118.0,429.7 1118.5,426.7 1119.0,430.5 1119.5,428.1 1120.0,429.9 1120.5,425.4 1121.0,427.6 1121.5,425.2 1122.0,426.9 1122.5,424.6 1123.0,427.2 1123.5,424.4 1124.0,428.2 1124.5,423.9 1125.0,426.9 1125.5,423.0 1126.0,426.4 1126.5,422.6 1127.0,428.0 1127.5,426.1 1128.0,431.6 1128.5,428.1 1129.0,434.1 1129.5,429.1 1130.0,440.0 1130.5,439.4 1131.0,447.1 1131.5,443.8 1132.0,450.1 1132.5,442.8 1133.0,449.5 1133.5,445.5 1134.0,454.9 1134.5,448.9 1135.0,461.5 1135.5,462.6 1136.0,481.2 1136.5,477.5 1137.0,482.7 1137.5,470.3 1138.0,484.2 1138.5,478.6 1139.0,489.0 1139.5,485.0 1140.0,496.2 1140.5,487.7 1141.0,499.1 1141.5,493.3 1142.0,514.3 1142.5,514.7 1143.0,526.0 1143.5,512.8 1144.0,517.8 1144.5,510.4 1145.0,526.5 1145.5,516.8 1146.0,531.0 1146.5,523.0 1147.0,536.6 1147.5,532.3 1148.0,541.9 1148.5,536.9 1149.0,546.7 1149.5,541.0 1150.0,551.9 1150.5,542.6 1151.0,548.2 1151.5,546.2 1152.0,561.1 1152.5,552.5 1153.0,562.7 1153.5,556.1 1154.0,566.0 1154.5,558.3 1155.0,569.1 1155.5,561.6 1156.0,572.5 1156.5,563.2 1157.0,575.6 1157.5,566.3 1158.0,576.4 1158.5,569.2 1159.0,577.9 1159.5,568.9 1160.0,579.3 1160.5,572.1 1161.0,581.4 1161.5,573.1 1162.0,583.2 1162.5,577.5 1163.0,585.2 1163.5,577.9 1164.0,585.8 1164.5,586.4 1165.0,592.6 1165.5,582.9 1166.0,590.7 1166.5,583.2 1167.0,591.4 1167.5,582.6 1168.0,591.9 1168.5,583.6 1169.0,592.8 1169.5,587.5 1170.0,589.0 1170.5,579.3 1171.0,584.8 1171.5,580.0 1172.0,592.2 1172.5,588.0 1173.0,597.5 1173.5,586.2 1174.0,590.6 1174.5,582.3 1175.0,592.9 1175.5,590.6 1176.0,599.5 1176.5,592.1 1177.0,601.0 1177.5,594.6 1178.0,602.8 1178.5,594.8 1179.0,608.9 1179.5,605.1 1180.0,609.7 1180.5,599.2 1181.0,605.6 1181.5,605.6 1182.0,614.6 1182.5,605.1 1183.0,607.5 1183.5,601.5 1184.0,615.9 1184.5,611.2 1185.0,610.3 1185.5,605.1 1186.0,610.9 1186.5,603.7 1187.0,611.3 1187.5,606.0 1188.0,613.8 1188.5,606.9 1189.0,616.1 1189.5,609.4 1190.0,616.3 1190.5,610.1 1191.0,614.7 1191.5,609.7 1192.0,617.0 1192.5,610.1 1193.0,616.9 1193.5,609.4 1194.0,619.4 1194.5,611.4 1195.0,625.4 1195.5,621.7 1196.0,630.8 1196.5,621.9 1197.0,623.5 1197.5,612.2 1198.0,619.8 1198.5,615.4 1199.0,620.2 1199.5,613.8 1200.0,622.2 1200.5,613.7 1201.0,621.0 1201.5,611.8 1202.0,617.5 1202.5,612.1 1203.0,621.3 1203.5,615.1 1204.0,629.7 1204.5,626.9 1205.0,630.5 1205.5,616.5 1206.0,623.8 1206.5,616.6 1207.0,623.9 1207.5,624.4 1208.0,632.4 1208.5,627.8 1209.0,629.7 1209.5,620.3 1210.0,625.6 1210.5,620.9 1211.0,626.3 1211.5,619.8 1212.0,620.8 1212.5,610.8 1213.0,616.3 1213.5,611.4 1214.0,623.9 1214.5,621.9 1215.0,628.7 1215.5,623.7 1216.0,630.7 1216.5,622.3 1217.0,628.8 1217.5,624.1 1218.0,631.4 1218.5,626.2 1219.0,637.1 1219.5,629.7 1220.0,635.9 1220.5,627.9 1221.0,633.7 1221.5,623.1 1222.0,629.7 1222.5,622.6 1223.0,630.3 1223.5,622.9 1224.0,627.2 1224.5,622.8 1225.0,628.6 1225.5,621.5 1226.0,627.0 1226.5,619.4 1227.0,634.4 1227.5,629.0 1228.0,625.6 1228.5,619.8 1229.0,626.8 1229.5,620.3 1230.0,625.5 1230.5,618.1 1231.0,623.4 1231.5,617.1 1232.0,623.2 1232.5,619.0 1233.0,624.3 1233.5,620.6 1234.0,629.8 1234.5,624.5 1235.0,624.7 1235.5,614.6 1236.0,620.4 1236.5,620.3 1237.0,626.1 1237.5,613.4 1238.0,618.0 1238.5,613.4 1239.0,616.9 1239.5,613.3 1240.0,615.4 1240.5,611.8 1241.0,614.6 1241.5,612.5 1242.0,615.2 1242.5,612.9 1243.0,617.0 1243.5,614.1 1244.0,618.7 1244.5,615.1 1245.0,618.8 1245.5,615.2 1246.0,620.1 1246.5,616.4 1247.0,620.2 1247.5,617.5 1248.0,622.9 1248.5,615.6 1249.0,623.9 1249.5,617.3 1250.0,622.4 1250.5,617.9 1251.0,624.2 1251.5,618.4 1252.0,624.8 1252.5,619.0 1253.0,625.8 1253.5,618.6 1254.0,626.7 1254.5,620.1 1255.0,625.4 1255.5,616.5 1256.0,622.1 1256.5,618.4 1257.0,630.2 1257.5,624.5 1258.0,629.0 1258.5,623.1 1259.0,630.5 1259.5,624.0 1260.0,631.8 1260.5,624.3 1261.0,634.8 1261.5,628.4 1262.0,631.7 1262.5,626.0 1263.0,631.5 1263.5,624.5 1264.0,631.5 1264.5,628.7 1265.0,639.4 1265.5,633.1 1266.0,635.3 1266.5,624.8 1267.0,631.2 1267.5,626.4 1268.0,635.5 1268.5,628.9 1269.0,635.6 1269.5,631.0 1270.0,636.2 1270.5,627.2 1271.0,632.1 1271.5,626.5 1272.0,633.5 1272.5,627.9 1273.0,635.0 1273.5,628.7 1274.0,633.1 1274.5,626.6 1275.0,634.7 1275.5,630.1 1276.0,634.3 1276.5,630.2 1277.0,637.9 1277.5,633.0 1278.0,640.7 1278.5,635.2 1279.0,639.6 1279.5,632.8 1280.0,638.3 1280.5,631.8 1281.0,640.3 1281.5,633.5 1282.0,638.8 1282.5,633.7 1283.0,640.1 1283.5,634.0 1284.0,641.7 1284.5,635.4 1285.0,641.1 1285.5,635.9 1286.0,643.5 1286.5,636.0 1287.0,642.4 1287.5,636.6 1288.0,642.6 1288.5,638.1 1289.0,644.1 1289.5,636.8 1290.0,644.5 1290.5,638.8 1291.0,643.5 1291.5,637.7 1292.0,643.9 1292.5,638.3 1293.0,645.7 1293.5,640.7 1294.0,646.8 1294.5,638.2 1295.0,638.7 1295.5,631.7 1296.0,641.0 1296.5,640.8 1297.0,645.9 1297.5,641.4 1298.0,647.3 1298.5,640.8 1299.0,647.7 1299.5,639.3 1300.0,646.7 1300.5,645.4 1301.0,649.8 1301.5,640.2 1302.0,648.3 1302.5,642.5 1303.0,642.6 1303.5,633.3 1304.0,638.4 1304.5,636.5 1305.0,647.9 1305.5,642.3 1306.0,649.1 1306.5,643.4 1307.0,648.5 1307.5,641.7 1308.0,649.7 1308.5,642.1 1309.0,648.4 1309.5,643.5 1310.0,648.3 1310.5,641.9 1311.0,647.7 1311.5,641.9 1312.0,650.5 1312.5,643.4 1313.0,650.8 1313.5,644.4 1314.0,655.9 1314.5,649.8 1315.0,651.2 1315.5,644.7 1316.0,655.7 1316.5,652.9 1317.0,658.1 1317.5,650.9 1318.0,655.6 1318.5,644.0 1319.0,651.7 1319.5,645.0 1320.0,649.3 1320.5,637.4 1321.0,645.5 1321.5,641.7 1322.0,651.4 1322.5,644.0 1323.0,651.3 1323.5,645.1 1324.0,650.4 1324.5,645.8 1325.0,653.1 1325.5,643.5 1326.0,653.6 1326.5,645.8 1327.0,652.3 1327.5,644.7 1328.0,653.3 1328.5,645.4 1329.0,653.5 1329.5,645.9 1330.0,652.0 1330.5,646.3 1331.0,651.2 1331.5,644.8 1332.0,653.5 1332.5,645.8 1333.0,653.7 1333.5,645.5 1334.0,653.9 1334.5,646.1 1335.0,652.3 1335.5,645.2 1336.0,652.0 1336.5,645.1 1337.0,654.1 1337.5,646.9 1338.0,653.7 1338.5,646.0 1339.0,654.5 1339.5,653.8 1340.0,660.9 1340.5,653.2 1341.0,654.6 1341.5,647.4 1342.0,653.0 1342.5,646.6 1343.0,648.3 1343.5,635.2 1344.0,641.7 1344.5,640.5 1345.0,655.3 1345.5,647.1 1346.0,652.8 1346.5,648.0 1347.0,653.5 1347.5,646.2 1348.0,655.3 1348.5,645.3 1349.0,655.0 1349.5,647.6 1350.0,652.3 1350.5,647.0 1351.0,654.2 1351.5,646.6 1352.0,654.7 1352.5,646.2 1353.0,650.3 1353.5,637.1 1354.0,642.2 1354.5,635.7 1355.0,645.8 1355.5,641.8 1356.0,653.5 1356.5,647.8 1357.0,654.7 1357.5,646.9 1358.0,652.6 1358.5,646.9 1359.0,654.5 1359.5,645.8 1360.0,655.5 1360.5,647.8 1361.0,654.0 1361.5,647.5 1362.0,653.4 1362.5,646.5 1363.0,654.4 1363.5,648.3 1364.0,652.4 1364.5,645.6 1365.0,653.3 1365.5,645.6 1366.0,649.2 1366.5,641.6 1367.0,648.6 1367.5,642.7 1368.0,654.9 1368.5,646.9 1369.0,655.0 1369.5,640.3 1370.0,644.1 1370.5,637.6 1371.0,644.5 1371.5,641.4 1372.0,655.5 1372.5,646.1 1373.0,654.7 1373.5,647.1 1374.0,654.5 1374.5,647.3 1375.0,652.1 1375.5,647.8 1376.0,653.5 1376.5,646.9 1377.0,654.8 1377.5,645.5 1378.0,654.3 1378.5,647.1 1379.0,653.9 1379.5,647.1 1380.0,653.9 1380.5,647.3 1381.0,652.0 1381.5,652.6 1382.0,660.3 1382.5,650.9 1383.0,654.3 1383.5,646.5 1384.0,652.2 1384.5,646.6 1385.0,653.6 1385.5,646.5 1386.0,649.2 1386.5,639.4 1387.0,648.3 1387.5,646.4 1388.0,654.0 1388.5,644.5 1389.0,652.5 1389.5,652.5 1390.0,665.5 1390.5,658.1 1391.0,658.9 1391.5,645.7 1392.0,653.7 1392.5,646.4 1393.0,655.9 1393.5,648.0 1394.0,655.1 1394.5,648.0 1395.0,656.4 1395.5,648.2 1396.0,654.8 1396.5,647.2 1397.0,654.3 1397.5,646.8 1398.0,654.3 1398.5,647.3 1399.0,656.2 1399.5,649.6 1400.0,654.8 1400.5,647.9 1401.0,649.3 1401.5,637.2 1402.0,644.8 1402.5,642.0 1403.0,654.4 1403.5,646.9 1404.0,653.2 1404.5,648.7 1405.0,652.9"/><polyline stroke="#6DB600" points="111.0,661.1 111.5,656.0 112.0,663.2 112.5,659.8 113.0,668.4 113.5,660.0 114.0,661.3 114.5,654.8 115.0,662.0 115.5,654.5 116.0,660.4 116.5,652.6 117.0,660.2 117.5,651.9 118.0,666.4 118.5,655.3 119.0,659.1 119.5,650.9 120.0,660.5 120.5,660.8 121.0,666.3 121.5,648.8 122.0,658.4 122.5,651.3 123.0,660.6 123.5,655.7 124.0,668.6 124.5,660.4 125.0,666.6 125.5,654.8 126.0,658.0 126.5,651.5 127.0,659.0 127.5,647.9 128.0,657.0 128.5,649.0 129.0,657.3 129.5,648.4 130.0,658.9 130.5,650.5 131.0,650.8 131.5,640.2 132.0,658.8 132.5,648.2 133.0,657.9 133.5,648.7 134.0,655.6 134.5,644.0 135.0,651.4 135.5,643.2 136.0,654.8 136.5,652.4 137.0,660.7 137.5,652.4 138.0,661.9 138.5,653.0 139.0,661.2 139.5,657.2 140.0,669.5 140.5,663.8 141.0,670.0 141.5,660.1 142.0,667.5 142.5,653.6 143.0,664.3 143.5,648.8 144.0,653.5 144.5,645.2 145.0,658.2 145.5,654.2 146.0,663.4 146.5,653.1 147.0,664.1 147.5,654.1 148.0,661.4 148.5,655.9 149.0,657.8 149.5,649.8 150.0,653.7 150.5,646.3 151.0,655.5 151.5,653.5 152.0,663.8 152.5,655.7 153.0,665.6 153.5,656.5 154.0,663.2 154.5,664.1 155.0,674.4 155.5,665.7 156.0,664.9 156.5,658.3 157.0,664.7 157.5,657.5 158.0,665.0 158.5,658.0 159.0,661.4 159.5,653.3 160.0,657.3 160.5,652.3 161.0,659.0 161.5,655.3 162.0,666.3 162.5,659.5 163.0,661.5 163.5,654.8 164.0,660.9 164.5,656.5 165.0,667.2 165.5,661.4 166.0,669.9 166.5,662.2 167.0,669.0 167.5,663.2 168.0,670.6 168.5,665.0 169.0,671.9 169.5,656.4 170.0,662.7 170.5,653.7 171.0,669.0 171.5,664.5 172.0,675.5 172.5,665.0 173.0,676.2 173.5,671.8 174.0,682.9 174.5,676.9 175.0,683.7 175.5,673.6 176.0,677.9 176.5,664.8 177.0,673.9 177.5,672.0 178.0,682.4 178.5,675.7 179.0,682.5 179.5,670.3 180.0,669.6 180.5,662.3 181.0,669.8 181.5,661.2 182.0,669.0 182.5,662.6 183.0,679.1 183.5,670.4 184.0,667.7 184.5,662.1 185.0,668.4 185.5,667.4 186.0,676.1 186.5,665.0 187.0,667.9 187.5,662.3 188.0,670.0 188.5,660.9 189.0,671.4 189.5,663.8 190.0,670.1 190.5,665.0 191.0,673.6 191.5,666.2 192.0,669.2 192.5,662.2 193.0,672.0 193.5,663.1 194.0,668.9 194.5,664.8 195.0,670.5 195.5,662.1 196.0,670.0 196.5,662.9 197.0,670.9 197.5,664.5 198.0,672.3 198.5,664.7 199.0,671.5 199.5,672.2 200.0,685.1 200.5,672.6 201.0,673.0 201.5,666.5 202.0,673.3 202.5,664.2 203.0,674.4 203.5,664.3 204.0,672.7 204.5,659.5 205.0,665.4 205.5,658.5 206.0,676.0 206.5,666.8 207.0,677.7 207.5,667.1 208.0,676.8 208.5,667.9 209.0,681.8 209.5,676.0 210.0,684.8 210.5,672.5 211.0,678.7 211.5,669.1 212.0,675.8 212.5,669.1 213.0,679.4 213.5,668.9 214.0,686.1 214.5,677.4 215.0,677.6 215.5,668.8 216.0,676.5 216.5,668.2 217.0,679.7 217.5,667.7 218.0,676.5 218.5,671.0 219.0,679.4 219.5,669.6 220.0,676.6 220.5,669.4 221.0,677.9 221.5,658.4 222.0,665.4 222.5,668.1 223.0,678.0 223.5,670.7 224.0,678.4 224.5,664.2 225.0,672.1 225.5,668.8 226.0,676.6 226.5,667.8 227.0,676.6 227.5,669.4 228.0,676.7 228.5,669.4 229.0,674.6 229.5,659.1 230.0,665.2 230.5,658.1 231.0,670.9 231.5,666.6 232.0,678.7 232.5,670.1 233.0,680.3 233.5,671.5 234.0,680.2 234.5,670.9 235.0,687.2 235.5,683.8 236.0,693.2 236.5,679.3 237.0,680.8 237.5,673.4 238.0,673.4 238.5,660.8 239.0,672.9 239.5,675.1 240.0,680.2 240.5,672.8 241.0,691.5 241.5,685.4 242.0,689.1 242.5,676.3 243.0,684.0 243.5,675.7 244.0,685.4 244.5,677.2 245.0,686.1 245.5,676.6 246.0,681.1 246.5,667.5 247.0,678.8 247.5,672.2 248.0,686.2 248.5,677.4 249.0,684.8 249.5,673.1 250.0,679.4 250.5,665.8 251.0,673.8 251.5,668.9 252.0,681.0 252.5,679.6 253.0,685.0 253.5,676.9 254.0,688.2 254.5,677.8 255.0,685.7 255.5,677.6 256.0,687.2 256.5,676.3 257.0,683.8 257.5,678.0 258.0,686.7 258.5,676.5 259.0,689.6 259.5,682.3 260.0,694.4 260.5,684.1 261.0,692.1 261.5,681.0 262.0,683.2 262.5,673.7 263.0,682.6 263.5,675.2 264.0,686.7 264.5,677.5 265.0,683.6 265.5,677.2 266.0,685.3 266.5,677.5 267.0,681.3 267.5,667.8 268.0,677.4 268.5,671.5 269.0,685.8 269.5,677.1 270.0,687.5 270.5,678.4 271.0,686.4 271.5,686.9 272.0,699.6 272.5,686.3 273.0,690.2 273.5,681.4 274.0,688.5 274.5,679.3 275.0,686.8 275.5,678.3 276.0,682.1 276.5,670.0 277.0,675.0 277.5,668.2 278.0,680.3 278.5,680.6 279.0,687.5 279.5,680.6 280.0,689.3 280.5,679.2 281.0,690.2 281.5,678.9 282.0,687.7 282.5,680.8 283.0,687.3 283.5,681.4 284.0,689.5 284.5,679.7 285.0,688.5 285.5,681.6 286.0,695.1 286.5,686.7 287.0,696.6 287.5,690.5 288.0,695.2 288.5,681.7 289.0,689.8 289.5,681.3 290.0,691.2 290.5,693.1 291.0,701.4 291.5,680.0 292.0,689.6 292.5,681.8 293.0,694.8 293.5,691.6 294.0,700.2 294.5,691.4 295.0,696.4 295.5,680.8 296.0,689.6 296.5,681.6 297.0,689.3 297.5,681.4 298.0,686.4 298.5,678.8 299.0,686.3 299.5,680.6 300.0,675.1 300.5,667.9 301.0,684.3 301.5,680.0 302.0,687.1 302.5,677.0 303.0,687.4 303.5,683.2 304.0,690.5 304.5,679.0 305.0,684.9 305.5,676.8 306.0,684.2 306.5,675.1 307.0,684.1 307.5,678.2 308.0,682.6 308.5,676.5 309.0,685.2 309.5,676.7 310.0,685.7 310.5,678.3 311.0,684.9 311.5,678.8 312.0,685.4 312.5,679.3 313.0,694.3 313.5,689.5 314.0,692.5 314.5,678.5 315.0,687.1 315.5,680.3 316.0,689.7 316.5,678.3 317.0,687.0 317.5,681.4 318.0,688.3 318.5,688.5 319.0,696.5 319.5,679.7 320.0,689.0 320.5,678.7 321.0,687.1 321.5,679.2 322.0,686.1 322.5,681.1 323.0,685.6 323.5,675.4 324.0,679.7 324.5,670.8 325.0,681.1 325.5,678.1 326.0,684.4 326.5,679.1 327.0,683.7 327.5,675.4 328.0,679.9 328.5,671.3 329.0,679.0 329.5,674.8 330.0,683.6 330.5,675.6 331.0,682.3 331.5,675.0 332.0,682.0 332.5,673.8 333.0,681.4 333.5,672.2 334.0,682.3 334.5,674.8 335.0,679.9 335.5,674.6 336.0,679.7 336.5,671.7 337.0,677.3 337.5,666.9 338.0,673.0 338.5,667.9 339.0,680.3 339.5,673.0 340.0,681.0 340.5,673.8 341.0,678.7 341.5,670.8 342.0,678.1 342.5,673.2 343.0,679.9 343.5,665.7 344.0,675.2 344.5,673.2 345.0,678.8 345.5,670.1 346.0,679.0 346.5,672.0 347.0,677.3 347.5,671.3 348.0,685.4 348.5,679.9 349.0,689.0 349.5,677.7 350.0,687.3 350.5,674.6 351.0,678.6 351.5,670.3 352.0,677.3 352.5,662.6 353.0,667.0 353.5,653.3 354.0,665.8 354.5,661.0 355.0,675.5 355.5,663.9 356.0,672.7 356.5,664.7 357.0,670.7 357.5,665.2 358.0,667.7 358.5,657.6 359.0,661.5 359.5,654.7 360.0,662.2 360.5,655.7 361.0,668.3 361.5,659.2 362.0,665.1 362.5,657.7 363.0,664.8 363.5,654.8 364.0,661.1 364.5,654.8 365.0,659.3 365.5,653.4 366.0,660.0 366.5,649.0 367.0,655.1 367.5,643.0 368.0,645.9 368.5,636.2 369.0,646.0 369.5,641.0 370.0,651.6 370.5,640.7 371.0,640.6 371.5,631.2 372.0,637.9 372.5,637.4 373.0,641.3 373.5,634.2 374.0,638.7 374.5,630.7 375.0,633.7 375.5,626.8 376.0,630.9 376.5,625.1 377.0,630.4 377.5,624.6 378.0,630.7 378.5,623.7 379.0,627.1 379.5,614.5 380.0,616.2 380.5,608.4 381.0,607.3 381.5,592.8 382.0,605.5 382.5,589.1 383.0,596.1 383.5,584.3 384.0,587.8 384.5,577.0 385.0,579.2 385.5,569.2 386.0,575.2 386.5,567.1 387.0,571.0 387.5,566.3 388.0,568.9 388.5,566.1 389.0,569.6 389.5,567.3 390.0,572.8 390.5,569.8 391.0,576.0 391.5,573.0 392.0,580.9 392.5,583.6 393.0,595.0 393.5,586.6 394.0,588.8 394.5,584.2 395.0,591.8 395.5,585.2 396.0,603.8 396.5,598.4 397.0,613.5 397.5,605.4 398.0,612.0 398.5,601.1 399.0,607.3 399.5,599.4 400.0,608.4 400.5,601.3 401.0,610.5 401.5,602.4 402.0,614.8 402.5,606.0 403.0,616.5 403.5,609.0 404.0,617.6 404.5,611.2 405.0,618.3 405.5,619.7 406.0,632.1 406.5,625.4 407.0,628.1 407.5,615.4 408.0,622.4 408.5,611.9 409.0,625.0 409.5,615.1 410.0,623.1 410.5,616.8 411.0,624.3 411.5,614.5 412.0,626.3 412.5,615.5 413.0,626.4 413.5,613.9 414.0,626.3 414.5,616.0 415.0,624.4 415.5,616.6 416.0,624.6 416.5,616.8 417.0,623.7 417.5,615.8 418.0,623.3 418.5,615.3 419.0,626.2 419.5,623.7 420.0,634.5 420.5,625.1 421.0,630.1 421.5,617.9 422.0,620.4 422.5,613.7 423.0,615.9 423.5,602.3 424.0,609.2 424.5,599.6 425.0,612.9 425.5,607.9 426.0,618.1 426.5,610.8 427.0,619.3 427.5,609.4 428.0,618.7 428.5,610.7 429.0,616.8 429.5,597.9 430.0,606.4 430.5,606.4 431.0,615.2 431.5,604.5 432.0,613.4 432.5,607.2 433.0,613.3 433.5,603.0 434.0,614.5 434.5,602.4 435.0,609.5 435.5,600.5 436.0,607.4 436.5,586.0 437.0,595.3 437.5,599.8 438.0,605.1 438.5,594.9 439.0,607.0 439.5,589.7 440.0,594.5 440.5,578.3 441.0,589.4 441.5,586.2 442.0,597.7 442.5,588.1 443.0,595.0 443.5,586.0 444.0,592.1 444.5,578.7 445.0,587.4 445.5,574.8 446.0,586.3 446.5,572.3 447.0,583.4 447.5,568.0 448.0,578.3 448.5,568.3 449.0,576.3 449.5,563.5 450.0,571.9 450.5,561.7 451.0,568.2 451.5,559.1 452.0,570.9 452.5,557.0 453.0,568.8 453.5,560.7 454.0,579.4 454.5,569.4 455.0,577.1 455.5,565.0 456.0,576.1 456.5,558.5 457.0,572.1 457.5,559.6 458.0,559.1 458.5,550.8 459.0,569.7 459.5,558.0 460.0,568.8 460.5,562.5 461.0,569.5 461.5,562.4 462.0,574.5 462.5,564.6 463.0,578.5 463.5,566.7 464.0,585.6 464.5,579.2 465.0,592.9 465.5,584.1 466.0,587.1 466.5,573.0 467.0,582.9 467.5,574.3 468.0,585.1 468.5,573.3 469.0,588.0 469.5,583.5 470.0,592.5 470.5,581.3 471.0,590.3 471.5,574.9 472.0,582.6 472.5,574.4 473.0,584.2 473.5,573.3 474.0,585.4 474.5,573.1 475.0,583.9 475.5,570.8 476.0,585.0 476.5,569.7 477.0,584.0 477.5,582.7 478.0,590.8 478.5,569.6 479.0,580.0 479.5,567.9 480.0,577.7 480.5,567.3 481.0,575.7 481.5,554.2 482.0,565.3 482.5,563.3 483.0,569.4 483.5,556.6 484.0,556.1 484.5,540.2 485.0,551.4 485.5,551.2 486.0,556.3 486.5,542.3 487.0,553.4 487.5,539.9 488.0,547.7 488.5,532.2 489.0,542.5 489.5,529.7 490.0,542.0 490.5,531.8 491.0,536.0 491.5,514.2 492.0,523.5 492.5,510.0 493.0,510.3 493.5,500.0 494.0,506.5 494.5,504.1 495.0,507.9 495.5,508.3 496.0,512.7 496.5,506.9 497.0,513.9 497.5,517.2 498.0,527.2 498.5,524.4 499.0,537.0 499.5,535.3 500.0,546.7 500.5,542.0 501.0,554.8 501.5,549.8 502.0,562.3 502.5,554.9 503.0,571.3 503.5,563.8 504.0,575.0 504.5,569.2 505.0,582.2 505.5,565.0 506.0,578.8 506.5,579.0 507.0,589.0 507.5,581.4 508.0,594.0 508.5,595.2 509.0,603.2 509.5,590.0 510.0,599.2 510.5,591.7 511.0,600.2 511.5,593.4 512.0,604.8 512.5,596.6 513.0,607.9 513.5,599.9 514.0,610.4 514.5,606.0 515.0,618.7 515.5,607.8 516.0,618.5 516.5,604.0 517.0,616.0 517.5,605.5 518.0,616.8 518.5,608.3 519.0,621.3 519.5,611.4 520.0,621.2 520.5,617.5 521.0,631.5 521.5,624.8 522.0,631.9 522.5,621.4 523.0,629.7 523.5,623.0 524.0,633.8 524.5,625.8 525.0,637.2 525.5,634.4 526.0,644.3 526.5,638.3 527.0,649.0 527.5,639.9 528.0,649.2 528.5,639.3 529.0,649.9 529.5,640.5 530.0,655.2 530.5,654.0 531.0,658.0 531.5,648.5 532.0,654.8 532.5,647.7 533.0,657.5 533.5,651.8 534.0,662.4 534.5,653.8 535.0,661.8 535.5,656.4 536.0,664.3 536.5,658.1 537.0,666.3 537.5,659.5 538.0,666.5 538.5,659.4 539.0,671.7 539.5,662.3 540.0,670.0 540.5,662.7 541.0,672.8 541.5,666.4 542.0,674.0 542.5,666.0 543.0,677.4 543.5,670.0 544.0,677.7 544.5,671.1 545.0,679.2 545.5,671.5 546.0,682.8 546.5,675.3 547.0,683.7 547.5,673.4 548.0,682.4 548.5,674.0 549.0,686.1 549.5,681.6 550.0,694.1 550.5,690.7 551.0,700.2 551.5,688.8 552.0,691.6 552.5,678.7 553.0,688.4 553.5,681.9 554.0,689.2 554.5,683.3 555.0,695.7 555.5,690.0 556.0,694.2 556.5,685.0 557.0,692.4 557.5,685.3 558.0,699.3 558.5,694.5 559.0,705.6 559.5,693.0 560.0,698.5 560.5,687.7 561.0,699.4 561.5,689.0 562.0,696.3 562.5,688.0 563.0,697.7 563.5,689.8 564.0,701.8 564.5,698.2 565.0,708.7 565.5,702.7 566.0,711.6 566.5,698.5 567.0,703.7 567.5,696.8 568.0,706.0 568.5,699.6 569.0,707.6 569.5,698.4 570.0,706.3 570.5,700.3 571.0,709.0 571.5,705.8 572.0,716.0 572.5,714.4 573.0,719.5 573.5,713.1 574.0,715.3 574.5,703.3 575.0,711.7 575.5,703.3 576.0,712.0 576.5,705.4 577.0,711.3 577.5,704.2 578.0,713.6 578.5,704.4 579.0,714.7 579.5,707.7 580.0,713.7 580.5,706.3 581.0,714.2 581.5,707.7 582.0,713.7 582.5,705.6 583.0,712.5 583.5,707.0 584.0,713.2 584.5,700.6 585.0,705.4 585.5,706.7 586.0,711.3 586.5,705.7 587.0,712.1 587.5,703.9 588.0,712.1 588.5,704.5 589.0,719.5 589.5,710.9 590.0,710.9 590.5,702.7 591.0,711.9 591.5,703.1 592.0,711.2 592.5,698.5 593.0,703.0 593.5,696.0 594.0,705.0 594.5,700.8 595.0,708.0 595.5,699.4 596.0,710.1 596.5,704.2 597.0,714.8 597.5,705.5 598.0,711.3 598.5,698.7 599.0,702.0 599.5,694.4 600.0,702.0 600.5,694.3 601.0,698.4 601.5,692.9 602.0,697.9 602.5,689.7 603.0,698.1 603.5,686.4 604.0,692.8 604.5,685.1 605.0,693.1 605.5,684.5 606.0,694.4 606.5,686.7 607.0,695.2 607.5,694.7 608.0,704.5 608.5,695.9 609.0,699.0 609.5,684.3 610.0,692.4 610.5,683.4 611.0,689.8 611.5,680.8 612.0,689.9 612.5,674.8 613.0,680.7 613.5,671.3 614.0,682.1 614.5,676.7 615.0,685.6 615.5,673.9 616.0,680.0 616.5,666.5 617.0,670.6 617.5,658.7 618.0,670.4 618.5,663.8 619.0,671.2 619.5,664.5 620.0,669.9 620.5,659.3 621.0,668.7 621.5,658.3 622.0,665.5 622.5,654.0 623.0,662.3 623.5,651.8 624.0,660.6 624.5,649.9 625.0,660.1 625.5,648.5 626.0,654.8 626.5,641.2 627.0,642.2 627.5,632.0 628.0,637.7 628.5,629.1 629.0,641.4 629.5,634.7 630.0,646.3 630.5,637.0 631.0,650.8 631.5,640.7 632.0,647.4 632.5,633.7 633.0,632.4 633.5,625.5 634.0,619.3 634.5,608.0 635.0,625.7 635.5,617.1 636.0,624.7 636.5,611.4 637.0,620.8 637.5,610.3 638.0,614.7 638.5,605.0 639.0,613.9 639.5,599.3 640.0,608.7 640.5,597.8 641.0,601.5 641.5,593.5 642.0,597.4 642.5,586.2 643.0,591.6 643.5,580.4 644.0,586.9 644.5,574.1 645.0,585.6 645.5,574.3 646.0,581.9 646.5,569.3 647.0,575.5 647.5,560.0 648.0,566.3 648.5,551.1 649.0,560.0 649.5,545.6 650.0,550.4 650.5,536.3 651.0,543.2 651.5,528.8 652.0,536.6 652.5,523.0 653.0,528.0 653.5,513.8 654.0,521.1 654.5,503.9 655.0,511.6 655.5,499.4 656.0,506.5 656.5,489.8 657.0,498.9 657.5,483.2 658.0,492.7 658.5,478.6 659.0,483.4 659.5,474.1 660.0,477.3 660.5,467.4 661.0,470.5 661.5,460.4 662.0,462.9 662.5,454.3 663.0,456.3 663.5,456.8 664.0,460.1 664.5,458.2 665.0,464.8 665.5,460.8 666.0,468.7 666.5,463.4 667.0,470.6 667.5,464.9 668.0,473.8 668.5,467.4 669.0,484.7 669.5,479.5 670.0,491.9 670.5,486.3 671.0,498.1 671.5,491.7 672.0,504.6 672.5,495.6 673.0,500.4 673.5,494.5 674.0,515.0 674.5,509.1 675.0,524.8 675.5,515.6 676.0,530.2 676.5,523.1 677.0,533.5 677.5,526.0 678.0,542.7 678.5,534.8 679.0,548.7 679.5,540.3 680.0,555.1 680.5,547.3 681.0,561.5 681.5,552.6 682.0,567.5 682.5,560.9 683.0,577.6 683.5,572.1 684.0,582.7 684.5,579.3 685.0,603.0 685.5,597.9 686.0,603.9 686.5,598.4 687.0,610.3 687.5,608.3 688.0,619.1 688.5,615.1 689.0,627.6 689.5,622.4 690.0,639.4 690.5,634.7 691.0,647.9 691.5,642.9 692.0,655.0 692.5,650.7 693.0,661.4 693.5,657.1 694.0,672.2 694.5,666.3 695.0,686.7 695.5,681.5 696.0,685.0 696.5,676.5 697.0,689.3 697.5,679.8 698.0,680.8 698.5,668.2 699.0,683.5 699.5,687.4 700.0,696.2 700.5,695.8 701.0,711.2 701.5,705.2 702.0,710.0 702.5,701.6 703.0,708.1 703.5,700.4 704.0,710.5 704.5,703.8 705.0,705.8 705.5,699.5 706.0,714.2 706.5,708.2 707.0,716.3 707.5,711.2 708.0,716.6 708.5,710.4 709.0,716.0 709.5,707.1 710.0,712.9 710.5,707.6 711.0,717.9 711.5,718.2 712.0,723.0 712.5,714.3 713.0,719.6 713.5,712.5 714.0,719.1 714.5,714.4 715.0,724.4 715.5,724.3 716.0,731.2 716.5,727.3 717.0,733.8 717.5,728.7 718.0,733.2 718.5,728.8 719.0,735.5 719.5,732.3 720.0,740.7 720.5,736.7 721.0,740.0 721.5,732.2 722.0,738.6 722.5,735.2 723.0,740.9 723.5,736.4 724.0,741.9 724.5,737.5 725.0,745.5 725.5,740.8 726.0,743.6 726.5,738.7 727.0,743.0 727.5,736.8 728.0,738.4 728.5,731.0 729.0,735.2 729.5,731.2 730.0,740.4 730.5,738.3 731.0,744.7 731.5,737.8 732.0,744.9 732.5,742.1 733.0,752.7 733.5,745.6 734.0,748.7 734.5,741.6 735.0,748.4 735.5,744.0 736.0,757.1 736.5,753.1 737.0,758.1 737.5,748.6 738.0,754.0 738.5,743.0 739.0,751.4 739.5,742.0 740.0,747.1 740.5,739.5 741.0,748.0 741.5,741.5 742.0,752.6 742.5,744.8 743.0,747.2 743.5,741.9 744.0,748.0 744.5,746.0 745.0,752.5 745.5,745.2 746.0,751.8 746.5,747.8 747.0,751.4 747.5,747.7 748.0,754.0 748.5,746.5 749.0,752.2 749.5,746.5 750.0,753.4 750.5,747.0 751.0,751.4 751.5,745.7 752.0,753.0 752.5,747.4 753.0,752.6 753.5,747.0 754.0,752.2 754.5,744.9 755.0,745.8 755.5,739.1 756.0,752.8 756.5,745.6 757.0,751.4 757.5,744.6 758.0,750.2 758.5,742.7 759.0,748.9 759.5,741.1 760.0,748.6 760.5,744.1 761.0,753.6 761.5,749.0 762.0,757.1 762.5,750.6 763.0,751.7 763.5,744.9 764.0,750.7 764.5,745.5 765.0,753.6 765.5,748.8 766.0,759.1 766.5,752.1 767.0,759.4 767.5,750.6 768.0,758.8 768.5,754.8 769.0,755.0 769.5,748.6 770.0,756.5 770.5,757.0 771.0,762.8 771.5,757.7 772.0,766.1 772.5,764.7 773.0,770.1 773.5,761.1 774.0,764.5 774.5,759.4 775.0,763.5 775.5,758.2 776.0,765.3 776.5,760.6 777.0,764.8 777.5,766.6 778.0,773.7 778.5,765.2 779.0,766.9 779.5,760.5 780.0,766.3 780.5,762.1 781.0,767.5 781.5,762.5 782.0,769.0 782.5,758.2 783.0,761.6 783.5,756.9 784.0,768.8 784.5,764.2 785.0,768.9 785.5,762.7 786.0,771.0 786.5,764.5 787.0,776.7 787.5,769.9 788.0,779.0 788.5,773.1 789.0,777.8 789.5,762.9 790.0,772.5 790.5,763.8 791.0,770.5 791.5,764.7 792.0,770.7 792.5,766.0 793.0,770.6 793.5,764.7 794.0,776.2 794.5,772.1 795.0,781.2 795.5,774.9 796.0,777.8 796.5,770.1 797.0,772.3 797.5,765.1 798.0,771.4 798.5,765.2 799.0,772.1 799.5,767.6 800.0,772.0 800.5,766.5 801.0,771.6 801.5,767.9 802.0,772.6 802.5,768.0 803.0,773.1 803.5,769.5 804.0,772.9 804.5,767.8 805.0,774.2 805.5,766.0 806.0,771.9 806.5,765.8 807.0,773.7 807.5,770.5 808.0,775.1 808.5,770.1 809.0,775.8 809.5,772.0 810.0,776.9 810.5,772.3 811.0,778.8 811.5,771.6 812.0,782.4 812.5,778.4 813.0,785.5 813.5,780.7 814.0,782.8 814.5,774.0 815.0,778.9 815.5,775.8 816.0,780.0 816.5,776.4 817.0,780.6 817.5,779.6 818.0,786.0 818.5,781.9 819.0,787.1 819.5,778.4 820.0,781.9 820.5,777.1 821.0,783.8 821.5,778.3 822.0,783.0 822.5,778.3 823.0,779.5 823.5,772.4 824.0,779.3 824.5,773.7 825.0,782.0 825.5,776.2 826.0,783.6 826.5,777.5 827.0,781.8 827.5,776.0 828.0,783.8 828.5,778.2 829.0,782.7 829.5,777.5 830.0,783.8 830.5,770.4 831.0,771.8 831.5,768.5 832.0,781.6 832.5,777.2 833.0,780.8 833.5,777.0 834.0,781.8 834.5,776.8 835.0,786.6 835.5,781.7 836.0,787.8 836.5,781.8 837.0,783.1 837.5,776.3 838.0,783.8 838.5,784.7 839.0,792.7 839.5,784.6 840.0,782.6 840.5,778.4 841.0,784.7 841.5,777.6 842.0,784.9 842.5,779.4 843.0,784.1 843.5,779.8 844.0,783.6 844.5,778.2 845.0,783.4 845.5,782.1 846.0,792.3 846.5,787.2 847.0,791.3 847.5,782.0 848.0,784.8 848.5,778.6 849.0,784.9 849.5,780.4 850.0,785.0 850.5,778.9 851.0,779.3 851.5,773.9 852.0,779.5 852.5,779.5 853.0,784.4 853.5,779.6 854.0,784.8 854.5,779.6 855.0,786.5 855.5,781.5 856.0,786.0 856.5,779.8 857.0,784.8 857.5,780.9 858.0,787.2 858.5,780.6 859.0,786.4 859.5,781.7 860.0,785.7 860.5,781.4 861.0,788.1 861.5,780.7 862.0,788.0 862.5,781.7 863.0,786.8 863.5,782.3 864.0,786.6 864.5,782.1 865.0,786.1 865.5,781.7 866.0,788.2 866.5,782.0 867.0,788.3 867.5,781.2 868.0,788.0 868.5,779.8 869.0,785.9 869.5,785.6 870.0,793.2 870.5,790.4 871.0,794.7 871.5,786.5 872.0,787.0 872.5,779.7 873.0,786.5 873.5,780.3 874.0,787.9 874.5,784.2 875.0,792.6 875.5,785.8 876.0,792.2 876.5,783.3 877.0,787.5 877.5,782.8 878.0,788.4 878.5,782.2 879.0,788.4 879.5,782.1 880.0,787.2 880.5,782.5 881.0,789.6 881.5,782.2 882.0,787.5 882.5,782.7 883.0,789.8 883.5,784.2 884.0,787.3 884.5,782.1 885.0,788.9 885.5,782.3 886.0,788.0 886.5,782.8 887.0,787.5 887.5,783.9 888.0,788.4 888.5,782.0 889.0,788.3 889.5,784.2 890.0,790.4 890.5,788.3 891.0,794.7 891.5,789.7 892.0,791.0 892.5,782.2 893.0,788.2 893.5,784.1 894.0,787.4 894.5,784.3 895.0,789.2 895.5,780.7 896.0,783.6 896.5,779.0 897.0,783.1 897.5,779.7 898.0,788.8 898.5,783.1 899.0,787.3 899.5,781.8 900.0,787.4 900.5,783.4 901.0,787.0 901.5,782.9 902.0,788.7 902.5,784.7 903.0,791.8 903.5,787.0 904.0,791.5 904.5,785.7 905.0,788.1 905.5,783.8 906.0,787.9 906.5,782.8 907.0,787.8 907.5,783.6 908.0,783.8 908.5,776.4 909.0,783.6 909.5,784.2 910.0,789.3 910.5,782.5 911.0,786.1 911.5,778.6 912.0,784.4 912.5,780.4 913.0,785.9 913.5,783.2 914.0,788.7 914.5,783.6 915.0,788.3 915.5,776.7 916.0,782.3 916.5,782.3 917.0,790.1 917.5,783.2 918.0,787.9 918.5,783.7 919.0,788.7 919.5,777.1 920.0,781.4 920.5,773.4 921.0,783.8 921.5,782.2 922.0,787.9 922.5,782.4 923.0,787.5 923.5,781.7 924.0,787.1 924.5,782.3 925.0,790.8 925.5,788.7 926.0,794.7 926.5,786.5 927.0,787.6 927.5,781.8 928.0,791.1 928.5,785.4 929.0,790.7 929.5,783.2 930.0,786.9 930.5,781.5 931.0,786.9 931.5,779.8 932.0,785.3 932.5,781.6 933.0,785.5 933.5,783.2 934.0,790.9 934.5,788.9 935.0,792.0 935.5,785.6 936.0,788.3 936.5,779.8 937.0,784.8 937.5,780.9 938.0,778.6 938.5,775.1 939.0,784.6 939.5,780.2 940.0,784.5 940.5,780.4 941.0,785.8 941.5,777.4 942.0,779.7 942.5,775.8 943.0,780.8 943.5,777.5 944.0,783.0 944.5,779.8 945.0,783.2 945.5,778.1 946.0,786.4 946.5,783.9 947.0,787.1 947.5,781.2 948.0,783.1 948.5,778.0 949.0,780.7 949.5,777.5 950.0,781.3 950.5,777.0 951.0,780.1 951.5,775.6 952.0,779.7 952.5,774.3 953.0,780.0 953.5,773.5 954.0,777.2 954.5,770.9 955.0,776.4 955.5,771.5 956.0,774.7 956.5,767.5 957.0,775.6 957.5,767.2 958.0,767.4 958.5,757.1 959.0,762.8 959.5,759.2 960.0,771.6 960.5,763.3 961.0,767.7 961.5,760.1 962.0,765.3 962.5,760.4 963.0,764.8 963.5,757.7 964.0,761.7 964.5,757.0 965.0,756.6 965.5,747.4 966.0,752.6 966.5,748.0 967.0,753.8 967.5,751.3 968.0,753.4 968.5,747.0 969.0,747.8 969.5,745.1 970.0,749.8 970.5,746.3 971.0,748.9 971.5,747.1 972.0,749.7 972.5,746.1 973.0,746.9 973.5,744.2 974.0,746.6 974.5,744.7 975.0,750.5 975.5,749.2 976.0,753.0 976.5,748.9 977.0,753.8 977.5,751.0 978.0,756.0 978.5,751.5 979.0,759.4 979.5,753.3 980.0,761.3 980.5,753.9 981.0,761.5 981.5,755.2 982.0,761.2 982.5,758.0 983.0,762.6 983.5,756.7 984.0,759.0 984.5,749.5 985.0,759.8 985.5,758.1 986.0,765.0 986.5,759.6 987.0,766.0 987.5,759.5 988.0,766.8 988.5,766.2 989.0,775.1 989.5,766.8 990.0,769.0 990.5,761.0 991.0,766.8 991.5,770.2 992.0,777.1 992.5,760.4 993.0,770.2 993.5,766.5 994.0,775.3 994.5,768.7 995.0,776.0 995.5,769.2 996.0,773.7 996.5,762.3 997.0,770.0 997.5,756.8 998.0,760.6 998.5,754.2 999.0,760.3 999.5,759.1 1000.0,771.2 1000.5,763.3 1001.0,770.6 1001.5,756.8 1002.0,761.6 1002.5,754.0 1003.0,763.6 1003.5,764.3 1004.0,768.4 1004.5,764.2 1005.0,767.9 1005.5,767.0 1006.0,772.5 1006.5,769.9 1007.0,774.8 1007.5,768.2 1008.0,772.8 1008.5,762.8 1009.0,770.1 1009.5,762.6 1010.0,770.1 1010.5,762.1 1011.0,766.5 1011.5,760.3 1012.0,763.6 1012.5,758.5 1013.0,766.4 1013.5,762.5 1014.0,770.2 1014.5,763.1 1015.0,768.5 1015.5,763.0 1016.0,768.8 1016.5,763.5 1017.0,768.8 1017.5,763.2 1018.0,769.0 1018.5,765.5 1019.0,772.1 1019.5,769.0 1020.0,773.6 1020.5,769.3 1021.0,772.5 1021.5,766.3 1022.0,770.9 1022.5,764.5 1023.0,770.3 1023.5,765.1 1024.0,770.0 1024.5,764.0 1025.0,771.1 1025.5,760.4 1026.0,765.2 1026.5,758.4 1027.0,766.4 1027.5,763.5 1028.0,768.8 1028.5,763.3 1029.0,770.8 1029.5,765.4 1030.0,773.4 1030.5,770.0 1031.0,775.9 1031.5,772.0 1032.0,774.7 1032.5,766.5 1033.0,771.4 1033.5,764.1 1034.0,769.7 1034.5,764.0 1035.0,769.9 1035.5,764.5 1036.0,769.1 1036.5,763.1 1037.0,769.8 1037.5,763.3 1038.0,768.8 1038.5,764.4 1039.0,770.4 1039.5,762.2 1040.0,769.4 1040.5,762.6 1041.0,768.9 1041.5,760.3 1042.0,769.0 1042.5,760.0 1043.0,776.1 1043.5,769.5 1044.0,768.3 1044.5,760.8 1045.0,766.7 1045.5,760.6 1046.0,766.1 1046.5,760.2 1047.0,763.8 1047.5,751.7 1048.0,758.3 1048.5,751.8 1049.0,762.9 1049.5,757.2 1050.0,765.8 1050.5,758.9 1051.0,765.0 1051.5,758.2 1052.0,763.9 1052.5,758.4 1053.0,761.9 1053.5,755.0 1054.0,757.6 1054.5,750.7 1055.0,762.6 1055.5,756.6 1056.0,762.0 1056.5,753.7 1057.0,759.4 1057.5,752.7 1058.0,760.2 1058.5,753.0 1059.0,752.7 1059.5,745.0 1060.0,751.6 1060.5,752.5 1061.0,758.9 1061.5,750.4 1062.0,753.4 1062.5,742.5 1063.0,748.8 1063.5,743.4 1064.0,755.5 1064.5,747.7 1065.0,753.7 1065.5,746.7 1066.0,753.0 1066.5,746.4 1067.0,753.3 1067.5,746.3 1068.0,753.1 1068.5,745.2 1069.0,753.5 1069.5,744.4 1070.0,753.9 1070.5,744.5 1071.0,750.1 1071.5,737.7 1072.0,743.5 1072.5,731.9 1073.0,737.7 1073.5,730.0 1074.0,735.1 1074.5,727.6 1075.0,732.7 1075.5,721.3 1076.0,727.2 1076.5,720.5 1077.0,728.6 1077.5,721.8 1078.0,726.0 1078.5,724.1 1079.0,732.7 1079.5,727.9 1080.0,733.1 1080.5,719.3 1081.0,718.6 1081.5,711.3 1082.0,716.0 1082.5,710.0 1083.0,715.3 1083.5,707.4 1084.0,713.3 1084.5,698.6 1085.0,705.1 1085.5,698.5 1086.0,708.1 1086.5,694.9 1087.0,703.2 1087.5,690.1 1088.0,696.8 1088.5,689.0 1089.0,693.1 1089.5,680.1 1090.0,689.1 1090.5,677.3 1091.0,683.6 1091.5,672.8 1092.0,681.7 1092.5,668.7 1093.0,674.6 1093.5,666.1 1094.0,672.9 1094.5,664.0 1095.0,660.8 1095.5,645.6 1096.0,650.4 1096.5,644.7 1097.0,657.8 1097.5,652.5 1098.0,660.9 1098.5,652.9 1099.0,660.9 1099.5,647.1 1100.0,656.9 1100.5,643.6 1101.0,653.1 1101.5,642.6 1102.0,657.3 1102.5,650.1 1103.0,654.0 1103.5,631.9 1104.0,640.8 1104.5,628.1 1105.0,633.6 1105.5,623.7 1106.0,631.4 1106.5,621.0 1107.0,627.6 1107.5,616.1 1108.0,622.1 1108.5,613.5 1109.0,619.4 1109.5,609.7 1110.0,615.9 1110.5,606.8 1111.0,613.8 1111.5,604.8 1112.0,609.5 1112.5,599.9 1113.0,607.8 1113.5,595.5 1114.0,604.4 1114.5,593.9 1115.0,602.2 1115.5,589.5 1116.0,592.4 1116.5,582.2 1117.0,591.4 1117.5,587.1 1118.0,593.3 1118.5,585.9 1119.0,589.5 1119.5,584.2 1120.0,588.8 1120.5,582.5 1121.0,586.0 1121.5,581.7 1122.0,580.4 1122.5,573.9 1123.0,577.9 1123.5,574.2 1124.0,579.7 1124.5,578.7 1125.0,582.8 1125.5,579.8 1126.0,585.7 1126.5,581.4 1127.0,588.8 1127.5,585.2 1128.0,594.2 1128.5,587.7 1129.0,605.5 1129.5,601.7 1130.0,609.3 1130.5,596.3 1131.0,604.8 1131.5,600.7 1132.0,612.6 1132.5,605.7 1133.0,622.6 1133.5,615.1 1134.0,625.2 1134.5,611.9 1135.0,622.2 1135.5,612.0 1136.0,624.0 1136.5,619.8 1137.0,628.0 1137.5,624.4 1138.0,633.9 1138.5,630.9 1139.0,639.5 1139.5,635.5 1140.0,647.4 1140.5,638.6 1141.0,662.3 1141.5,657.1 1142.0,660.0 1142.5,650.7 1143.0,664.3 1143.5,659.0 1144.0,668.6 1144.5,664.4 1145.0,673.4 1145.5,668.7 1146.0,677.9 1146.5,673.1 1147.0,680.0 1147.5,674.7 1148.0,682.6 1148.5,676.0 1149.0,688.5 1149.5,681.5 1150.0,691.7 1150.5,681.5 1151.0,695.0 1151.5,687.7 1152.0,693.2 1152.5,681.5 1153.0,692.4 1153.5,684.7 1154.0,695.8 1154.5,694.2 1155.0,707.0 1155.5,700.8 1156.0,713.6 1156.5,706.2 1157.0,708.1 1157.5,695.6 1158.0,709.9 1158.5,712.5 1159.0,723.9 1159.5,718.0 1160.0,728.4 1160.5,722.8 1161.0,732.1 1161.5,726.0 1162.0,735.9 1162.5,731.5 1163.0,738.5 1163.5,734.9 1164.0,743.9 1164.5,739.1 1165.0,739.2 1165.5,729.1 1166.0,736.1 1166.5,734.8 1167.0,744.9 1167.5,743.9 1168.0,752.4 1168.5,746.1 1169.0,752.8 1169.5,744.5 1170.0,747.3 1170.5,742.6 1171.0,752.8 1171.5,748.4 1172.0,755.5 1172.5,750.8 1173.0,762.9 1173.5,757.5 1174.0,758.4 1174.5,753.1 1175.0,760.1 1175.5,756.0 1176.0,764.4 1176.5,758.8 1177.0,761.9 1177.5,754.5 1178.0,761.1 1178.5,754.1 1179.0,762.1 1179.5,756.7 1180.0,760.7 1180.5,755.8 1181.0,763.0 1181.5,758.0 1182.0,763.0 1182.5,759.7 1183.0,768.8 1183.5,760.1 1184.0,764.1 1184.5,758.4 1185.0,764.8 1185.5,758.2 1186.0,764.3 1186.5,756.1 1187.0,760.5 1187.5,752.8 1188.0,759.7 1188.5,755.3 1189.0,765.5 1189.5,760.8 1190.0,768.3 1190.5,763.3 1191.0,770.9 1191.5,768.0 1192.0,775.2 1192.5,767.4 1193.0,771.8 1193.5,765.5 1194.0,770.4 1194.5,766.8 1195.0,772.2 1195.5,767.3 1196.0,772.9 1196.5,767.9 1197.0,771.7 1197.5,772.0 1198.0,780.2 1198.5,778.3 1199.0,783.3 1199.5,771.6 1200.0,774.7 1200.5,768.1 1201.0,773.9 1201.5,770.7 1202.0,775.0 1202.5,770.2 1203.0,777.3 1203.5,771.2 1204.0,777.0 1204.5,773.2 1205.0,777.4 1205.5,773.1 1206.0,778.5 1206.5,773.9 1207.0,780.3 1207.5,775.1 1208.0,781.9 1208.5,771.6 1209.0,776.7 1209.5,768.8 1210.0,775.9 1210.5,770.9 1211.0,781.2 1211.5,775.2 1212.0,782.5 1212.5,776.6 1213.0,781.4 1213.5,776.3 1214.0,780.7 1214.5,776.5 1215.0,781.2 1215.5,775.0 1216.0,783.0 1216.5,777.2 1217.0,782.0 1217.5,775.2 1218.0,780.9 1218.5,774.7 1219.0,781.1 1219.5,776.7 1220.0,780.0 1220.5,774.8 1221.0,782.5 1221.5,775.0 1222.0,782.3 1222.5,775.8 1223.0,779.9 1223.5,773.7 1224.0,780.0 1224.5,774.0 1225.0,776.1 1225.5,768.3 1226.0,776.1 1226.5,773.4 1227.0,781.0 1227.5,772.5 1228.0,779.9 1228.5,769.5 1229.0,772.6 1229.5,766.8 1230.0,775.6 1230.5,772.0 1231.0,777.1 1231.5,771.0 1232.0,778.0 1232.5,769.9 1233.0,775.3 1233.5,766.0 1234.0,769.1 1234.5,765.0 1235.0,768.9 1235.5,767.0 1236.0,773.6 1236.5,768.6 1237.0,771.7 1237.5,765.9 1238.0,769.5 1238.5,764.6 1239.0,768.3 1239.5,763.3 1240.0,765.5 1240.5,762.3 1241.0,763.6 1241.5,760.8 1242.0,763.8 1242.5,759.9 1243.0,766.6 1243.5,765.0 1244.0,771.2 1244.5,768.8 1245.0,773.5 1245.5,770.6 1246.0,775.8 1246.5,770.4 1247.0,778.7 1247.5,771.9 1248.0,779.1 1248.5,774.5 1249.0,780.0 1249.5,774.7 1250.0,781.8 1250.5,776.0 1251.0,782.1 1251.5,777.1 1252.0,780.9 1252.5,775.6 1253.0,781.6 1253.5,775.7 1254.0,784.0 1254.5,777.9 1255.0,782.4 1255.5,777.0 1256.0,782.6 1256.5,778.7 1257.0,783.5 1257.5,778.6 1258.0,783.6 1258.5,782.0 1259.0,787.5 1259.5,776.9 1260.0,782.6 1260.5,776.6 1261.0,784.3 1261.5,777.4 1262.0,784.3 1262.5,778.6 1263.0,782.7 1263.5,777.4 1264.0,791.7 1264.5,784.8 1265.0,783.5 1265.5,777.3 1266.0,785.2 1266.5,777.4 1267.0,785.1 1267.5,778.9 1268.0,786.4 1268.5,782.8 1269.0,791.4 1269.5,786.0 1270.0,795.5 1270.5,786.0 1271.0,788.2 1271.5,779.3 1272.0,787.8 1272.5,778.9 1273.0,786.7 1273.5,780.5 1274.0,789.3 1274.5,781.5 1275.0,790.6 1275.5,783.4 1276.0,790.5 1276.5,785.3 1277.0,792.2 1277.5,786.8 1278.0,792.7 1278.5,788.0 1279.0,792.4 1279.5,788.7 1280.0,792.1 1280.5,788.8 1281.0,792.3 1281.5,788.7 1282.0,792.7 1282.5,786.8 1283.0,793.9 1283.5,789.3 1284.0,793.0 1284.5,791.3 1285.0,800.1 1285.5,792.7 1286.0,792.5 1286.5,788.4 1287.0,793.4 1287.5,788.6 1288.0,795.1 1288.5,787.0 1289.0,794.6 1289.5,787.7 1290.0,800.2 1290.5,795.6 1291.0,802.9 1291.5,793.9 1292.0,793.7 1292.5,788.7 1293.0,794.1 1293.5,790.2 1294.0,796.5 1294.5,791.1 1295.0,795.7 1295.5,789.6 1296.0,797.6 1296.5,787.7 1297.0,790.8 1297.5,787.7 1298.0,793.5 1298.5,793.5 1299.0,797.7 1299.5,794.0 1300.0,797.6 1300.5,791.7 1301.0,800.2 1301.5,792.5 1302.0,799.5 1302.5,793.5 1303.0,798.7 1303.5,793.3 1304.0,799.3 1304.5,793.6 1305.0,798.1 1305.5,793.9 1306.0,799.2 1306.5,791.5 1307.0,799.2 1307.5,793.9 1308.0,798.1 1308.5,792.6 1309.0,799.2 1309.5,793.4 1310.0,797.8 1310.5,794.4 1311.0,798.8 1311.5,793.3 1312.0,800.6 1312.5,793.0 1313.0,801.2 1313.5,795.0 1314.0,801.6 1314.5,795.3 1315.0,800.1 1315.5,797.7 1316.0,804.6 1316.5,800.4 1317.0,807.1 1317.5,800.0 1318.0,802.6 1318.5,794.2 1319.0,800.7 1319.5,792.8 1320.0,799.3 1320.5,795.3 1321.0,800.4 1321.5,794.9 1322.0,801.0 1322.5,793.6 1323.0,800.1 1323.5,793.0 1324.0,800.6 1324.5,793.3 1325.0,799.2 1325.5,789.8 1326.0,793.6 1326.5,787.4 1327.0,794.0 1327.5,788.7 1328.0,798.2 1328.5,792.9 1329.0,801.4 1329.5,798.0 1330.0,807.8 1330.5,803.0 1331.0,809.2 1331.5,797.4 1332.0,802.4 1332.5,794.1 1333.0,802.2 1333.5,796.3 1334.0,801.3 1334.5,793.5 1335.0,796.4 1335.5,785.9 1336.0,797.1 1336.5,795.9 1337.0,800.5 1337.5,794.9 1338.0,807.1 1338.5,803.2 1339.0,806.1 1339.5,796.7 1340.0,803.2 1340.5,794.6 1341.0,801.1 1341.5,795.9 1342.0,802.0 1342.5,796.0 1343.0,801.9 1343.5,795.2 1344.0,802.5 1344.5,796.3 1345.0,802.9 1345.5,790.6 1346.0,798.1 1346.5,797.8 1347.0,802.1 1347.5,794.4 1348.0,796.7 1348.5,792.6 1349.0,804.2 1349.5,798.3 1350.0,803.1 1350.5,795.2 1351.0,798.5 1351.5,792.1 1352.0,801.8 1352.5,799.5 1353.0,805.8 1353.5,800.8 1354.0,805.3 1354.5,795.1 1355.0,802.5 1355.5,798.6 1356.0,806.3 1356.5,799.3 1357.0,805.6 1357.5,800.1 1358.0,805.3 1358.5,801.5 1359.0,809.7 1359.5,804.9 1360.0,809.3 1360.5,799.9 1361.0,805.5 1361.5,798.8 1362.0,804.5 1362.5,801.1 1363.0,805.9 1363.5,801.3 1364.0,806.9 1364.5,798.8 1365.0,805.3 1365.5,799.1 1366.0,805.9 1366.5,796.6 1367.0,802.4 1367.5,799.3 1368.0,805.8 1368.5,799.4 1369.0,806.0 1369.5,801.5 1370.0,808.1 1370.5,797.0 1371.0,798.6 1371.5,795.8 1372.0,808.4 1372.5,800.5 1373.0,808.0 1373.5,806.8 1374.0,812.4 1374.5,807.0 1375.0,812.2 1375.5,800.5 1376.0,807.2 1376.5,801.7 1377.0,812.4 1377.5,808.4 1378.0,808.0 1378.5,801.0 1379.0,806.1 1379.5,806.7 1380.0,817.0 1380.5,809.4 1381.0,811.9 1381.5,802.5 1382.0,806.2 1382.5,802.1 1383.0,806.5 1383.5,798.5 1384.0,802.6 1384.5,797.9 1385.0,803.9 1385.5,801.9 1386.0,808.0 1386.5,800.4 1387.0,808.3 1387.5,801.6 1388.0,808.0 1388.5,802.3 1389.0,806.8 1389.5,797.3 1390.0,798.9 1390.5,793.3 1391.0,800.6 1391.5,797.1 1392.0,807.8 1392.5,802.3 1393.0,807.8 1393.5,800.9 1394.0,808.4 1394.5,802.2 1395.0,808.6 1395.5,800.6 1396.0,806.4 1396.5,801.9 1397.0,807.2 1397.5,800.4 1398.0,808.2 1398.5,808.8 1399.0,813.7 1399.5,801.4 1400.0,806.8 1400.5,801.7 1401.0,808.8 1401.5,801.8 1402.0,807.5 1402.5,801.5 1403.0,811.5 1403.5,807.6 1404.0,813.2 1404.5,807.5 1405.0,807.7"/><polyline stroke="#FC6500" points="111.0,823.0 111.5,815.0 112.0,822.6 112.5,815.8 113.0,826.2 113.5,821.8 114.0,826.5 114.5,814.6 115.0,821.2 115.5,813.2 116.0,821.1 116.5,813.1 117.0,819.4 117.5,811.9 118.0,821.1 118.5,808.8 119.0,814.9 119.5,806.7 120.0,818.2 120.5,811.9 121.0,816.9 121.5,805.4 122.0,813.6 122.5,807.9 123.0,815.8 123.5,811.6 124.0,818.6 124.5,809.8 125.0,818.0 125.5,812.1 126.0,818.5 126.5,810.5 127.0,819.9 127.5,810.6 128.0,812.2 128.5,800.6 129.0,809.6 129.5,804.6 130.0,818.0 130.5,811.4 131.0,811.5 131.5,798.9 132.0,809.3 132.5,809.9 133.0,817.0 133.5,810.7 134.0,816.2 134.5,807.4 135.0,818.5 135.5,809.3 136.0,817.7 136.5,810.4 137.0,818.3 137.5,808.4 138.0,817.9 138.5,809.4 139.0,816.2 139.5,813.6 140.0,826.7 140.5,819.1 141.0,827.0 141.5,815.1 142.0,823.1 142.5,809.4 143.0,816.4 143.5,808.0 144.0,815.7 144.5,809.7 145.0,818.6 145.5,812.8 146.0,825.3 146.5,822.2 147.0,829.4 147.5,817.8 148.0,820.9 148.5,809.2 149.0,815.2 149.5,808.5 150.0,816.9 150.5,808.6 151.0,815.4 151.5,809.1 152.0,816.6 152.5,809.9 153.0,811.2 153.5,800.2 154.0,806.9 154.5,800.6 155.0,811.0 155.5,811.8 156.0,816.8 156.5,811.6 157.0,818.6 157.5,812.8 158.0,819.6 158.5,811.8 159.0,819.3 159.5,818.0 160.0,830.4 160.5,818.3 161.0,818.4 161.5,813.6 162.0,831.4 162.5,823.6 163.0,821.5 163.5,812.5 164.0,824.4 164.5,817.6 165.0,824.0 165.5,813.9 166.0,820.8 166.5,813.7 167.0,832.0 167.5,820.8 168.0,823.9 168.5,813.6 169.0,820.9 169.5,815.4 170.0,823.4 170.5,813.2 171.0,823.1 171.5,815.0 172.0,825.3 172.5,816.0 173.0,825.0 173.5,815.1 174.0,824.1 174.5,815.0 175.0,823.8 175.5,817.1 176.0,825.3 176.5,813.6 177.0,824.9 177.5,816.0 178.0,823.9 178.5,814.3 179.0,821.6 179.5,814.2 180.0,821.6 180.5,813.8 181.0,822.2 181.5,813.9 182.0,830.7 182.5,827.6 183.0,833.0 183.5,814.5 184.0,824.5 184.5,810.5 185.0,816.8 185.5,811.4 186.0,824.3 186.5,816.3 187.0,826.2 187.5,818.9 188.0,831.2 188.5,827.7 189.0,834.9 189.5,823.5 190.0,826.5 190.5,820.0 191.0,828.5 191.5,820.6 192.0,829.2 192.5,821.8 193.0,827.8 193.5,822.4 194.0,828.0 194.5,822.4 195.0,835.4 195.5,829.5 196.0,835.3 196.5,822.1 197.0,831.0 197.5,822.8 198.0,828.6 198.5,823.2 199.0,828.7 199.5,823.4 200.0,832.0 200.5,824.3 201.0,832.1 201.5,826.1 202.0,832.6 202.5,826.0 203.0,832.7 203.5,826.0 204.0,831.8 204.5,827.0 205.0,831.2 205.5,825.5 206.0,834.0 206.5,828.0 207.0,837.5 207.5,833.9 208.0,842.4 208.5,834.8 209.0,838.5 209.5,826.6 210.0,835.3 210.5,827.7 211.0,836.6 211.5,827.9 212.0,837.1 212.5,830.0 213.0,837.8 213.5,829.3 214.0,838.2 214.5,828.9 215.0,837.8 215.5,828.3 216.0,844.1 216.5,840.4 217.0,845.0 217.5,829.4 218.0,837.0 218.5,831.0 219.0,837.1 219.5,830.3 220.0,829.5 220.5,823.4 221.0,840.4 221.5,832.8 222.0,841.3 222.5,833.0 223.0,838.1 223.5,826.3 224.0,836.5 224.5,829.6 225.0,841.3 225.5,835.0 226.0,844.2 226.5,834.2 227.0,838.9 227.5,831.5 228.0,837.3 228.5,832.9 229.0,843.3 229.5,836.6 230.0,844.1 230.5,836.4 231.0,844.0 231.5,836.3 232.0,844.5 232.5,839.6 233.0,844.0 233.5,837.0 234.0,844.0 234.5,838.9 235.0,846.7 235.5,838.3 236.0,845.4 236.5,837.8 237.0,844.6 237.5,836.4 238.0,839.7 238.5,833.4 239.0,840.7 239.5,836.7 240.0,844.4 240.5,838.6 241.0,842.1 241.5,833.2 242.0,835.5 242.5,828.7 243.0,839.3 243.5,835.2 244.0,842.5 244.5,836.7 245.0,841.7 245.5,835.4 246.0,844.3 246.5,835.5 247.0,844.2 247.5,836.2 248.0,844.3 248.5,836.9 249.0,844.3 249.5,834.8 250.0,841.5 250.5,834.0 251.0,844.5 251.5,839.5 252.0,846.6 252.5,842.3 253.0,847.6 253.5,842.5 254.0,847.4 254.5,837.0 255.0,845.5 255.5,838.0 256.0,851.3 256.5,841.7 257.0,851.1 257.5,842.5 258.0,853.0 258.5,838.8 259.0,843.8 259.5,833.8 260.0,845.5 260.5,845.7 261.0,851.8 261.5,842.8 262.0,852.0 262.5,845.4 263.0,853.7 263.5,848.9 264.0,857.9 264.5,850.4 265.0,851.7 265.5,842.9 266.0,851.6 266.5,843.7 267.0,853.3 267.5,855.6 268.0,861.4 268.5,845.9 269.0,851.6 269.5,839.7 270.0,844.1 270.5,835.5 271.0,842.1 271.5,837.6 272.0,848.1 272.5,844.4 273.0,850.3 273.5,843.7 274.0,849.6 274.5,844.8 275.0,851.4 275.5,851.9 276.0,856.9 276.5,843.4 277.0,851.5 277.5,844.9 278.0,851.4 278.5,845.3 279.0,851.5 279.5,843.4 280.0,849.3 280.5,844.6 281.0,849.7 281.5,843.7 282.0,849.8 282.5,840.1 283.0,842.6 283.5,836.8 284.0,841.2 284.5,836.2 285.0,844.8 285.5,842.1 286.0,847.6 286.5,841.9 287.0,848.5 287.5,833.7 288.0,840.8 288.5,842.8 289.0,849.2 289.5,834.8 290.0,843.2 290.5,842.1 291.0,849.4 291.5,841.4 292.0,847.5 292.5,841.2 293.0,848.8 293.5,841.6 294.0,847.6 294.5,843.4 295.0,849.1 295.5,842.6 296.0,850.1 296.5,843.4 297.0,848.0 297.5,842.5 298.0,847.8 298.5,841.8 299.0,848.0 299.5,840.6 300.0,842.5 300.5,836.4 301.0,843.4 301.5,840.6 302.0,848.7 302.5,843.0 303.0,851.1 303.5,848.8 304.0,854.2 304.5,849.7 305.0,851.9 305.5,844.7 306.0,848.1 306.5,844.4 307.0,847.4 307.5,842.1 308.0,849.5 308.5,842.2 309.0,849.2 309.5,843.1 310.0,848.4 310.5,841.4 311.0,847.2 311.5,841.0 312.0,848.6 312.5,841.2 313.0,847.9 313.5,842.3 314.0,846.8 314.5,841.0 315.0,846.5 315.5,838.6 316.0,848.2 316.5,841.1 317.0,843.6 317.5,834.5 318.0,839.5 318.5,829.9 319.0,838.7 319.5,835.5 320.0,844.8 320.5,837.1 321.0,845.9 321.5,838.9 322.0,843.3 322.5,837.3 323.0,845.5 323.5,835.5 324.0,843.9 324.5,834.4 325.0,842.7 325.5,834.6 326.0,841.9 326.5,836.2 327.0,839.5 327.5,829.5 328.0,842.6 328.5,835.9 329.0,841.2 329.5,832.9 330.0,841.4 330.5,830.1 331.0,831.2 331.5,824.4 332.0,836.5 332.5,833.6 333.0,839.7 333.5,832.1 334.0,839.6 334.5,833.7 335.0,845.9 335.5,838.2 336.0,841.0 336.5,832.5 337.0,840.0 337.5,832.1 338.0,839.9 338.5,830.2 339.0,832.7 339.5,822.9 340.0,835.2 340.5,831.3 341.0,836.5 341.5,830.5 342.0,838.6 342.5,830.9 343.0,836.3 343.5,829.7 344.0,838.7 344.5,828.3 345.0,837.5 345.5,827.8 346.0,837.1 346.5,832.0 347.0,842.5 347.5,835.5 348.0,841.8 348.5,828.3 349.0,836.7 349.5,826.0 350.0,836.0 350.5,818.1 351.0,823.5 351.5,818.5 352.0,831.8 352.5,824.4 353.0,832.9 353.5,824.9 354.0,832.8 354.5,822.2 355.0,829.7 355.5,825.2 356.0,831.7 356.5,826.1 357.0,831.1 357.5,825.5 358.0,829.7 358.5,822.0 359.0,826.9 359.5,820.4 360.0,824.5 360.5,819.2 361.0,824.9 361.5,821.7 362.0,828.9 362.5,825.3 363.0,828.0 363.5,822.5 364.0,823.6 364.5,818.5 365.0,825.5 365.5,824.1 366.0,828.2 366.5,821.7 367.0,820.7 367.5,815.7 368.0,820.0 368.5,815.2 369.0,820.9 369.5,814.5 370.0,821.1 370.5,818.4 371.0,824.5 371.5,816.8 372.0,818.7 372.5,809.2 373.0,812.2 373.5,802.7 374.0,807.3 374.5,799.0 375.0,805.7 375.5,797.5 376.0,800.4 376.5,792.7 377.0,799.8 377.5,794.5 378.0,797.7 378.5,781.6 379.0,788.9 379.5,777.6 380.0,784.9 380.5,777.4 381.0,787.9 381.5,779.5 382.0,786.2 382.5,768.6 383.0,768.2 383.5,756.0 384.0,760.8 384.5,749.3 385.0,756.3 385.5,740.1 386.0,741.0 386.5,728.2 387.0,727.8 387.5,722.3 388.0,723.4 388.5,723.3 389.0,727.0 389.5,725.4 390.0,732.0 390.5,731.7 391.0,738.3 391.5,736.7 392.0,745.3 392.5,743.1 393.0,751.6 393.5,747.3 394.0,753.7 394.5,750.4 395.0,760.3 395.5,751.3 396.0,761.5 396.5,754.8 397.0,764.0 397.5,757.6 398.0,766.3 398.5,769.3 399.0,781.8 399.5,771.3 400.0,771.2 400.5,764.6 401.0,774.2 401.5,764.9 402.0,772.9 402.5,765.9 403.0,775.0 403.5,769.8 404.0,774.8 404.5,768.9 405.0,777.3 405.5,771.7 406.0,776.8 406.5,777.3 407.0,786.9 407.5,782.1 408.0,784.6 408.5,771.6 409.0,779.2 409.5,772.1 410.0,780.1 410.5,771.2 411.0,783.4 411.5,782.1 412.0,790.9 412.5,784.5 413.0,791.2 413.5,778.8 414.0,783.0 414.5,775.4 415.0,780.6 415.5,769.0 416.0,772.0 416.5,767.0 417.0,782.5 417.5,773.6 418.0,782.2 418.5,773.2 419.0,781.2 419.5,767.3 420.0,768.8 420.5,762.6 421.0,774.1 421.5,770.5 422.0,780.6 422.5,769.1 423.0,778.8 423.5,767.6 424.0,770.3 424.5,760.4 425.0,769.6 425.5,761.3 426.0,771.6 426.5,770.0 427.0,777.2 427.5,769.3 428.0,775.6 428.5,766.9 429.0,775.9 429.5,767.2 430.0,774.6 430.5,764.9 431.0,773.1 431.5,758.5 432.0,762.2 432.5,750.8 433.0,764.5 433.5,758.4 434.0,768.4 434.5,757.7 435.0,766.9 435.5,766.4 436.0,777.5 436.5,764.3 437.0,762.1 437.5,751.9 438.0,762.2 438.5,757.6 439.0,766.7 439.5,753.4 440.0,759.4 440.5,744.0 441.0,752.7 441.5,742.6 442.0,750.4 442.5,738.9 443.0,746.4 443.5,736.1 444.0,740.1 444.5,729.4 445.0,737.2 445.5,724.9 446.0,732.2 446.5,725.6 447.0,736.5 447.5,724.9 448.0,730.5 448.5,720.1 449.0,725.6 449.5,715.2 450.0,728.7 450.5,720.3 451.0,729.8 451.5,716.0 452.0,715.9 452.5,703.3 453.0,707.8 453.5,701.9 454.0,703.6 454.5,700.5 455.0,701.5 455.5,699.6 456.0,702.7 456.5,700.7 457.0,705.2 457.5,702.8 458.0,708.6 458.5,707.0 459.0,710.7 459.5,705.7 460.0,710.3 460.5,708.5 461.0,714.6 461.5,712.0 462.0,722.0 462.5,717.3 463.0,724.9 463.5,718.9 464.0,727.3 464.5,722.9 465.0,724.1 465.5,714.5 466.0,730.6 466.5,725.9 467.0,736.6 467.5,723.6 468.0,736.3 468.5,727.3 469.0,736.9 469.5,735.0 470.0,750.4 470.5,742.5 471.0,751.8 471.5,737.5 472.0,743.2 472.5,729.1 473.0,738.0 473.5,718.9 474.0,723.5 474.5,710.9 475.0,722.1 475.5,719.1 476.0,737.6 476.5,726.4 477.0,737.4 477.5,725.5 478.0,734.5 478.5,723.3 479.0,734.9 479.5,726.2 480.0,738.3 480.5,725.6 481.0,733.1 481.5,720.4 482.0,726.4 482.5,714.4 483.0,719.7 483.5,709.8 484.0,719.6 484.5,705.3 485.0,714.9 485.5,705.2 486.0,709.2 486.5,695.6 487.0,697.3 487.5,684.9 488.0,695.2 488.5,684.2 489.0,696.6 489.5,682.4 490.0,694.0 490.5,678.1 491.0,686.1 491.5,668.9 492.0,673.4 492.5,661.1 493.0,662.9 493.5,654.6 494.0,655.4 494.5,650.2 495.0,651.3 495.5,649.5 496.0,655.4 496.5,655.7 497.0,665.6 497.5,665.5 498.0,677.7 498.5,675.3 499.0,688.7 499.5,695.2 500.0,710.4 500.5,695.4 501.0,710.2 501.5,701.8 502.0,707.9 502.5,697.5 503.0,722.5 503.5,713.4 504.0,727.1 504.5,717.4 505.0,729.1 505.5,717.1 506.0,730.4 506.5,727.1 507.0,743.1 507.5,734.3 508.0,748.1 508.5,739.1 509.0,751.4 509.5,745.9 510.0,759.2 510.5,750.6 511.0,760.8 511.5,757.0 512.0,775.4 512.5,766.3 513.0,777.2 513.5,767.7 514.0,775.6 514.5,762.1 515.0,771.2 515.5,763.6 516.0,774.1 516.5,767.2 517.0,770.9 517.5,762.2 518.0,772.5 518.5,768.8 519.0,782.2 519.5,776.5 520.0,784.6 520.5,776.6 521.0,784.6 521.5,778.1 522.0,788.0 522.5,783.2 523.0,794.9 523.5,785.8 524.0,790.8 524.5,784.1 525.0,794.1 525.5,787.2 526.0,801.3 526.5,797.3 527.0,804.1 527.5,790.2 528.0,797.8 528.5,793.8 529.0,800.2 529.5,794.2 530.0,802.6 530.5,795.7 531.0,804.0 531.5,798.7 532.0,814.4 532.5,809.4 533.0,807.3 533.5,800.4 534.0,809.4 534.5,801.9 535.0,807.7 535.5,801.0 536.0,811.3 536.5,802.9 537.0,809.2 537.5,803.9 538.0,810.4 538.5,810.1 539.0,820.3 539.5,816.7 540.0,821.6 540.5,811.5 541.0,813.7 541.5,809.4 542.0,816.1 542.5,808.8 543.0,818.8 543.5,801.2 544.0,808.3 544.5,813.2 545.0,818.3 545.5,815.0 546.0,822.4 546.5,816.5 547.0,822.4 547.5,817.2 548.0,824.2 548.5,821.9 549.0,834.7 549.5,828.8 550.0,833.8 550.5,825.9 551.0,824.8 551.5,820.5 552.0,825.5 552.5,819.7 553.0,829.1 553.5,820.5 554.0,828.0 554.5,822.6 555.0,830.3 555.5,828.0 556.0,836.8 556.5,831.9 557.0,840.0 557.5,832.2 558.0,835.4 558.5,825.1 559.0,832.9 559.5,827.2 560.0,834.6 560.5,828.9 561.0,836.7 561.5,831.7 562.0,841.4 562.5,834.4 563.0,841.6 563.5,836.7 564.0,840.8 564.5,830.6 565.0,838.2 565.5,831.3 566.0,843.9 566.5,840.0 567.0,844.5 567.5,835.1 568.0,842.6 568.5,833.4 569.0,840.9 569.5,833.4 570.0,843.2 570.5,834.7 571.0,843.2 571.5,836.6 572.0,845.0 572.5,833.9 573.0,841.9 573.5,836.3 574.0,838.5 574.5,829.6 575.0,835.9 575.5,828.1 576.0,840.5 576.5,834.6 577.0,844.6 577.5,837.4 578.0,844.3 578.5,838.9 579.0,846.8 579.5,840.8 580.0,847.0 580.5,837.6 581.0,844.8 581.5,835.0 582.0,845.2 582.5,838.3 583.0,843.3 583.5,835.4 584.0,838.1 584.5,831.0 585.0,838.3 585.5,832.2 586.0,842.7 586.5,837.6 587.0,845.5 587.5,836.3 588.0,846.2 588.5,839.3 589.0,844.1 589.5,836.3 590.0,846.0 590.5,838.7 591.0,846.0 591.5,836.2 592.0,845.7 592.5,838.7 593.0,845.3 593.5,838.7 594.0,844.5 594.5,836.1 595.0,844.9 595.5,836.5 596.0,843.4 596.5,835.5 597.0,841.4 597.5,835.0 598.0,843.4 598.5,833.1 599.0,840.9 599.5,835.3 600.0,843.3 600.5,832.2 601.0,839.6 601.5,836.3 602.0,847.3 602.5,840.6 603.0,851.0 603.5,839.3 604.0,844.5 604.5,831.9 605.0,836.8 605.5,823.1 606.0,830.2 606.5,828.0 607.0,837.0 607.5,827.4 608.0,839.7 608.5,834.9 609.0,844.2 609.5,830.2 610.0,831.1 610.5,822.2 611.0,831.4 611.5,822.2 612.0,828.5 612.5,830.3 613.0,837.2 613.5,818.6 614.0,824.8 614.5,816.8 615.0,823.1 615.5,814.0 616.0,820.3 616.5,819.5 617.0,829.1 617.5,823.7 618.0,827.7 618.5,814.5 619.0,814.7 619.5,804.2 620.0,814.7 620.5,809.0 621.0,820.3 621.5,808.0 622.0,814.5 622.5,802.5 623.0,808.5 623.5,798.8 624.0,807.6 624.5,802.2 625.0,807.1 625.5,790.5 626.0,796.9 626.5,789.6 627.0,793.8 627.5,785.0 628.0,791.4 628.5,775.5 629.0,785.0 629.5,777.7 630.0,784.8 630.5,774.5 631.0,782.1 631.5,767.9 632.0,777.0 632.5,763.9 633.0,773.6 633.5,759.6 634.0,756.6 634.5,743.3 635.0,762.1 635.5,751.5 636.0,757.3 636.5,746.1 637.0,752.3 637.5,739.8 638.0,746.4 638.5,732.7 639.0,739.4 639.5,726.7 640.0,736.8 640.5,732.9 641.0,740.3 641.5,716.5 642.0,721.5 642.5,712.3 643.0,719.4 643.5,707.1 644.0,711.1 644.5,687.6 645.0,699.3 645.5,693.2 646.0,698.3 646.5,685.1 647.0,696.2 647.5,670.8 648.0,679.5 648.5,674.8 649.0,682.2 649.5,669.3 650.0,676.0 650.5,660.2 651.0,667.1 651.5,652.3 652.0,659.5 652.5,646.8 653.0,651.7 653.5,644.4 654.0,657.2 654.5,643.0 655.0,649.6 655.5,635.4 656.0,640.4 656.5,623.1 657.0,628.2 657.5,616.3 658.0,623.2 658.5,612.5 659.0,617.2 659.5,605.6 660.0,612.8 660.5,599.6 661.0,605.1 661.5,594.8 662.0,596.2 662.5,591.1 663.0,594.1 663.5,592.7 664.0,598.0 664.5,594.8 665.0,599.0 665.5,595.1 666.0,606.3 666.5,595.1 667.0,602.0 667.5,594.1 668.0,606.0 668.5,604.1 669.0,618.5 669.5,617.5 670.0,628.9 670.5,626.5 671.0,638.5 671.5,631.4 672.0,644.2 672.5,640.2 673.0,649.3 673.5,646.3 674.0,651.4 674.5,645.4 675.0,666.9 675.5,661.7 676.0,673.2 676.5,668.8 677.0,681.7 677.5,677.7 678.0,690.6 678.5,687.9 679.0,698.9 679.5,697.2 680.0,711.2 680.5,705.2 681.0,720.8 681.5,714.3 682.0,732.2 682.5,726.0 683.0,744.4 683.5,742.5 684.0,758.3 684.5,757.6 685.0,769.7 685.5,763.4 686.0,771.7 686.5,768.9 687.0,781.4 687.5,774.7 688.0,785.3 688.5,776.4 689.0,786.8 689.5,783.1 690.0,793.0 690.5,787.3 691.0,794.3 691.5,788.2 692.0,799.3 692.5,793.8 693.0,803.0 693.5,798.7 694.0,810.1 694.5,802.0 695.0,815.1 695.5,811.6 696.0,819.7 696.5,813.8 697.0,824.4 697.5,814.9 698.0,824.1 698.5,817.6 699.0,828.0 699.5,822.0 700.0,832.1 700.5,822.6 701.0,829.4 701.5,823.4 702.0,832.5 702.5,827.2 703.0,839.3 703.5,838.6 704.0,844.2 704.5,839.9 705.0,848.7 705.5,844.0 706.0,849.3 706.5,841.8 707.0,845.5 707.5,841.3 708.0,848.1 708.5,846.7 709.0,852.6 709.5,849.5 710.0,859.1 710.5,855.9 711.0,863.8 711.5,854.5 712.0,857.3 712.5,850.8 713.0,859.8 713.5,852.1 714.0,860.9 714.5,855.0 715.0,861.2 715.5,853.5 716.0,857.9 716.5,855.6 717.0,864.0 717.5,860.4 718.0,867.9 718.5,861.8 719.0,870.2 719.5,865.8 720.0,865.3 720.5,860.0 721.0,873.6 721.5,868.1 722.0,875.6 722.5,871.4 723.0,879.8 723.5,871.5 724.0,880.9 724.5,873.8 725.0,881.5 725.5,878.2 726.0,887.2 726.5,881.5 727.0,889.1 727.5,879.9 728.0,884.1 728.5,876.9 729.0,884.0 729.5,882.1 730.0,891.0 730.5,883.6 731.0,889.2 731.5,875.3 732.0,884.0 732.5,878.1 733.0,884.0 733.5,877.1 734.0,886.8 734.5,878.0 735.0,885.3 735.5,879.5 736.0,890.8 736.5,887.9 737.0,896.9 737.5,889.3 738.0,895.8 738.5,884.1 739.0,884.7 739.5,877.9 740.0,886.2 740.5,877.8 741.0,883.5 741.5,876.6 742.0,883.8 742.5,877.5 743.0,885.3 743.5,879.4 744.0,884.7 744.5,877.1 745.0,884.4 745.5,877.8 746.0,883.0 746.5,880.7 747.0,888.5 747.5,883.1 748.0,888.1 748.5,877.3 749.0,882.4 749.5,877.4 750.0,884.2 750.5,873.4 751.0,875.8 751.5,872.2 752.0,878.2 752.5,878.1 753.0,884.2 753.5,877.5 754.0,878.7 754.5,874.8 755.0,878.9 755.5,876.7 756.0,883.5 756.5,877.0 757.0,880.8 757.5,875.9 758.0,878.6 758.5,873.8 759.0,876.8 759.5,872.5 760.0,875.8 760.5,871.0 761.0,874.6 761.5,871.1 762.0,876.6 762.5,871.9 763.0,876.4 763.5,871.2 764.0,878.3 764.5,874.3 765.0,881.3 765.5,873.4 766.0,881.3 766.5,876.3 767.0,886.7 767.5,880.2 768.0,887.6 768.5,876.8 769.0,887.4 769.5,883.9 770.0,894.6 770.5,888.7 771.0,894.9 771.5,885.8 772.0,894.6 772.5,884.8 773.0,891.3 773.5,884.8 774.0,894.3 774.5,886.5 775.0,894.0 775.5,887.9 776.0,895.0 776.5,890.8 777.0,897.2 777.5,892.4 778.0,895.8 778.5,893.3 779.0,897.8 779.5,893.2 780.0,896.6 780.5,894.0 781.0,898.2 781.5,892.8 782.0,897.4 782.5,893.9 783.0,897.8 783.5,894.3 784.0,897.5 784.5,892.9 785.0,898.3 785.5,893.8 786.0,896.8 786.5,893.6 787.0,896.2 787.5,889.7 788.0,892.9 788.5,889.4 789.0,894.7 789.5,892.4 790.0,898.5 790.5,895.1 791.0,899.1 791.5,894.5 792.0,900.6 792.5,893.8 793.0,899.0 793.5,888.7 794.0,892.7 794.5,896.5 795.0,901.3 795.5,895.0 796.0,896.4 796.5,891.2 797.0,897.5 797.5,892.4 798.0,901.4 798.5,900.4 799.0,906.4 799.5,901.5 800.0,907.4 800.5,899.7 801.0,910.3 801.5,909.0 802.0,912.1 802.5,901.6 803.0,908.0 803.5,901.8 804.0,909.5 804.5,904.2 805.0,905.0 805.5,898.3 806.0,906.4 806.5,903.0 807.0,910.3 807.5,904.7 808.0,911.0 808.5,906.3 809.0,911.4 809.5,906.6 810.0,911.2 810.5,906.4 811.0,912.7 811.5,907.3 812.0,908.9 812.5,902.2 813.0,906.0 813.5,902.0 814.0,908.2 814.5,906.0 815.0,913.9 815.5,907.9 816.0,914.7 816.5,909.7 817.0,914.6 817.5,909.1 818.0,913.1 818.5,910.1 819.0,913.3 819.5,909.8 820.0,917.7 820.5,915.6 821.0,920.6 821.5,913.5 822.0,915.0 822.5,908.6 823.0,915.1 823.5,905.6 824.0,908.9 824.5,903.8 825.0,909.8 825.5,909.0 826.0,913.2 826.5,907.9 827.0,914.9 827.5,909.6 828.0,914.2 828.5,908.6 829.0,914.7 829.5,909.1 830.0,914.3 830.5,908.5 831.0,917.7 831.5,915.7 832.0,919.0 832.5,909.3 833.0,914.1 833.5,910.7 834.0,908.7 834.5,904.4 835.0,916.5 835.5,911.7 836.0,921.7 836.5,915.8 837.0,916.8 837.5,912.0 838.0,915.5 838.5,912.2 839.0,915.6 839.5,906.3 840.0,908.6 840.5,905.4 841.0,911.7 841.5,911.0 842.0,915.0 842.5,910.5 843.0,914.4 843.5,910.2 844.0,914.9 844.5,906.4 845.0,909.1 845.5,904.6 846.0,910.5 846.5,909.8 847.0,914.3 847.5,910.3 848.0,916.6 848.5,914.4 849.0,919.4 849.5,915.5 850.0,918.7 850.5,911.8 851.0,913.6 851.5,909.5 852.0,914.7 852.5,910.1 853.0,914.3 853.5,910.8 854.0,913.9 854.5,908.8 855.0,910.5 855.5,905.5 856.0,908.9 856.5,904.4 857.0,908.2 857.5,906.9 858.0,914.5 858.5,908.4 859.0,914.5 859.5,909.8 860.0,912.8 860.5,907.8 861.0,914.4 861.5,908.8 862.0,912.3 862.5,905.8 863.0,911.7 863.5,909.1 864.0,914.7 864.5,910.0 865.0,914.5 865.5,910.0 866.0,915.0 866.5,909.2 867.0,914.9 867.5,910.4 868.0,911.7 868.5,905.2 869.0,909.3 869.5,906.2 870.0,915.6 870.5,909.8 871.0,914.1 871.5,909.4 872.0,914.1 872.5,911.0 873.0,915.6 873.5,910.2 874.0,914.8 874.5,911.5 875.0,916.9 875.5,910.1 876.0,916.0 876.5,909.7 877.0,915.6 877.5,909.9 878.0,915.4 878.5,909.6 879.0,916.7 879.5,911.1 880.0,915.7 880.5,904.0 881.0,908.4 881.5,910.1 882.0,917.0 882.5,910.9 883.0,915.8 883.5,909.8 884.0,916.0 884.5,911.8 885.0,917.4 885.5,911.0 886.0,916.5 886.5,911.9 887.0,918.1 887.5,911.5 888.0,913.6 888.5,908.2 889.0,913.2 889.5,907.9 890.0,913.3 890.5,910.9 891.0,917.6 891.5,912.1 892.0,917.5 892.5,911.1 893.0,917.1 893.5,913.0 894.0,916.3 894.5,915.2 895.0,922.8 895.5,918.6 896.0,921.4 896.5,915.7 897.0,916.9 897.5,911.3 898.0,918.0 898.5,911.9 899.0,917.8 899.5,911.1 900.0,917.4 900.5,911.3 901.0,917.4 901.5,912.4 902.0,917.5 902.5,913.4 903.0,912.1 903.5,904.9 904.0,909.3 904.5,908.2 905.0,918.8 905.5,912.9 906.0,918.1 906.5,912.8 907.0,917.0 907.5,911.9 908.0,918.0 908.5,915.8 909.0,922.6 909.5,918.3 910.0,920.8 910.5,914.9 911.0,917.1 911.5,911.8 912.0,909.9 912.5,904.0 913.0,916.3 913.5,911.0 914.0,916.0 914.5,910.0 915.0,916.9 915.5,912.4 916.0,917.3 916.5,910.2 917.0,917.4 917.5,911.1 918.0,915.4 918.5,914.7 919.0,923.8 919.5,919.9 920.0,923.4 920.5,914.2 921.0,916.9 921.5,912.2 922.0,917.3 922.5,910.5 923.0,918.0 923.5,910.6 924.0,918.8 924.5,910.7 925.0,918.7 925.5,911.1 926.0,917.9 926.5,911.5 927.0,917.7 927.5,916.3 928.0,924.0 928.5,916.7 929.0,917.9 929.5,912.3 930.0,916.1 930.5,910.8 931.0,916.5 931.5,910.0 932.0,914.7 932.5,909.1 933.0,915.7 933.5,909.8 934.0,914.6 934.5,903.4 935.0,909.1 935.5,908.5 936.0,912.6 936.5,910.0 937.0,914.1 937.5,909.1 938.0,913.0 938.5,908.9 939.0,914.6 939.5,912.7 940.0,918.5 940.5,912.4 941.0,915.6 941.5,910.2 942.0,912.0 942.5,908.3 943.0,911.3 943.5,907.6 944.0,910.8 944.5,906.0 945.0,912.2 945.5,901.5 946.0,905.3 946.5,897.2 947.0,905.7 947.5,905.0 948.0,910.1 948.5,904.7 949.0,905.8 949.5,896.8 950.0,903.9 950.5,898.4 951.0,909.1 951.5,904.7 952.0,914.6 952.5,908.2 953.0,908.5 953.5,902.1 954.0,906.2 954.5,901.8 955.0,905.6 955.5,898.9 956.0,904.5 956.5,894.6 957.0,900.0 957.5,890.4 958.0,896.6 958.5,891.2 959.0,896.9 959.5,893.5 960.0,899.8 960.5,892.8 961.0,899.8 961.5,891.9 962.0,895.1 962.5,886.7 963.0,891.8 963.5,886.0 964.0,893.3 964.5,888.5 965.0,889.5 965.5,882.9 966.0,892.6 966.5,887.5 967.0,892.8 967.5,887.4 968.0,888.6 968.5,879.8 969.0,883.8 969.5,878.4 970.0,881.7 970.5,878.6 971.0,880.6 971.5,878.2 972.0,880.4 972.5,878.5 973.0,880.0 973.5,876.2 974.0,877.7 974.5,874.3 975.0,876.8 975.5,873.9 976.0,879.0 976.5,878.5 977.0,882.6 977.5,878.2 978.0,884.7 978.5,880.3 979.0,885.8 979.5,879.6 980.0,888.5 980.5,889.4 981.0,899.4 981.5,882.2 982.0,887.9 982.5,882.0 983.0,888.5 983.5,884.2 984.0,891.3 984.5,882.5 985.0,892.5 985.5,889.1 986.0,899.2 986.5,890.0 987.0,898.9 987.5,888.8 988.0,894.0 988.5,888.0 989.0,891.0 989.5,880.1 990.0,885.8 990.5,877.1 991.0,888.2 991.5,884.2 992.0,899.7 992.5,893.0 993.0,899.5 993.5,893.9 994.0,899.2 994.5,892.0 995.0,900.0 995.5,896.4 996.0,903.9 996.5,891.2 997.0,897.8 997.5,895.4 998.0,904.4 998.5,896.0 999.0,903.3 999.5,897.4 1000.0,903.5 1000.5,899.2 1001.0,903.9 1001.5,898.6 1002.0,904.2 1002.5,898.8 1003.0,903.7 1003.5,899.2 1004.0,904.4 1004.5,898.9 1005.0,903.3 1005.5,899.6 1006.0,904.6 1006.5,897.4 1007.0,900.3 1007.5,893.6 1008.0,899.9 1008.5,894.6 1009.0,902.4 1009.5,900.1 1010.0,904.6 1010.5,895.8 1011.0,897.4 1011.5,894.1 1012.0,900.1 1012.5,897.9 1013.0,904.0 1013.5,898.1 1014.0,903.7 1014.5,899.0 1015.0,901.7 1015.5,890.7 1016.0,895.5 1016.5,889.3 1017.0,896.7 1017.5,894.5 1018.0,903.4 1018.5,896.5 1019.0,902.7 1019.5,895.5 1020.0,900.6 1020.5,894.8 1021.0,901.5 1021.5,894.4 1022.0,897.4 1022.5,887.6 1023.0,893.0 1023.5,889.3 1024.0,901.3 1024.5,895.6 1025.0,898.9 1025.5,894.9 1026.0,899.8 1026.5,895.6 1027.0,905.0 1027.5,900.3 1028.0,908.5 1028.5,901.9 1029.0,903.3 1029.5,895.6 1030.0,900.1 1030.5,895.8 1031.0,900.5 1031.5,895.9 1032.0,901.3 1032.5,895.3 1033.0,900.5 1033.5,894.1 1034.0,901.7 1034.5,896.1 1035.0,906.4 1035.5,900.7 1036.0,899.6 1036.5,895.4 1037.0,900.2 1037.5,894.0 1038.0,900.0 1038.5,894.0 1039.0,898.5 1039.5,892.6 1040.0,899.1 1040.5,888.9 1041.0,893.9 1041.5,886.2 1042.0,892.1 1042.5,888.3 1043.0,895.8 1043.5,891.2 1044.0,896.8 1044.5,888.0 1045.0,894.0 1045.5,888.1 1046.0,894.7 1046.5,888.5 1047.0,892.5 1047.5,885.8 1048.0,894.8 1048.5,890.1 1049.0,896.8 1049.5,887.8 1050.0,891.5 1050.5,884.9 1051.0,891.8 1051.5,889.2 1052.0,899.3 1052.5,888.7 1053.0,890.5 1053.5,880.6 1054.0,887.0 1054.5,885.1 1055.0,895.5 1055.5,890.2 1056.0,895.8 1056.5,887.0 1057.0,890.2 1057.5,877.9 1058.0,886.1 1058.5,876.5 1059.0,885.1 1059.5,876.2 1060.0,882.4 1060.5,876.0 1061.0,880.9 1061.5,876.8 1062.0,880.9 1062.5,874.3 1063.0,881.0 1063.5,873.4 1064.0,881.7 1064.5,872.0 1065.0,879.0 1065.5,872.7 1066.0,876.8 1066.5,868.0 1067.0,873.1 1067.5,865.3 1068.0,874.2 1068.5,868.4 1069.0,875.1 1069.5,868.2 1070.0,872.8 1070.5,862.4 1071.0,869.8 1071.5,862.8 1072.0,872.9 1072.5,865.8 1073.0,871.1 1073.5,863.2 1074.0,871.1 1074.5,868.3 1075.0,872.9 1075.5,860.9 1076.0,867.0 1076.5,865.2 1077.0,874.0 1077.5,863.3 1078.0,863.3 1078.5,854.4 1079.0,860.5 1079.5,851.3 1080.0,856.4 1080.5,846.8 1081.0,854.0 1081.5,845.9 1082.0,853.3 1082.5,842.9 1083.0,847.6 1083.5,851.7 1084.0,857.5 1084.5,835.3 1085.0,841.8 1085.5,832.5 1086.0,844.2 1086.5,836.3 1087.0,844.4 1087.5,836.9 1088.0,838.9 1088.5,828.3 1089.0,829.0 1089.5,818.2 1090.0,824.5 1090.5,816.6 1091.0,823.9 1091.5,817.9 1092.0,829.4 1092.5,814.7 1093.0,821.8 1093.5,805.2 1094.0,810.8 1094.5,802.3 1095.0,805.5 1095.5,789.6 1096.0,797.6 1096.5,785.0 1097.0,794.3 1097.5,785.5 1098.0,795.4 1098.5,784.6 1099.0,790.8 1099.5,779.2 1100.0,786.7 1100.5,773.8 1101.0,779.5 1101.5,764.2 1102.0,772.3 1102.5,760.3 1103.0,770.5 1103.5,758.2 1104.0,772.1 1104.5,758.8 1105.0,764.8 1105.5,756.5 1106.0,762.5 1106.5,752.4 1107.0,749.0 1107.5,737.3 1108.0,755.8 1108.5,741.2 1109.0,750.3 1109.5,736.6 1110.0,737.1 1110.5,722.0 1111.0,728.8 1111.5,717.7 1112.0,731.1 1112.5,726.1 1113.0,732.7 1113.5,719.3 1114.0,730.8 1114.5,719.5 1115.0,719.6 1115.5,706.4 1116.0,711.5 1116.5,703.8 1117.0,711.4 1117.5,705.8 1118.0,716.5 1118.5,705.2 1119.0,712.2 1119.5,704.5 1120.0,712.2 1120.5,705.3 1121.0,712.5 1121.5,706.0 1122.0,711.5 1122.5,704.6 1123.0,712.1 1123.5,706.2 1124.0,712.7 1124.5,707.1 1125.0,711.7 1125.5,706.4 1126.0,715.4 1126.5,706.9 1127.0,717.6 1127.5,709.2 1128.0,721.0 1128.5,712.1 1129.0,723.9 1129.5,715.7 1130.0,727.4 1130.5,722.5 1131.0,735.6 1131.5,727.7 1132.0,736.0 1132.5,735.9 1133.0,749.1 1133.5,743.4 1134.0,747.0 1134.5,742.8 1135.0,753.2 1135.5,744.9 1136.0,757.6 1136.5,750.8 1137.0,763.6 1137.5,759.1 1138.0,772.0 1138.5,767.4 1139.0,778.0 1139.5,769.2 1140.0,780.0 1140.5,770.9 1141.0,784.9 1141.5,779.6 1142.0,790.8 1142.5,782.9 1143.0,795.9 1143.5,789.3 1144.0,797.0 1144.5,785.5 1145.0,797.9 1145.5,793.1 1146.0,807.7 1146.5,802.2 1147.0,814.5 1147.5,808.0 1148.0,820.4 1148.5,810.2 1149.0,811.6 1149.5,800.2 1150.0,826.1 1150.5,820.5 1151.0,830.1 1151.5,824.8 1152.0,834.2 1152.5,827.2 1153.0,839.1 1153.5,832.7 1154.0,843.1 1154.5,835.2 1155.0,845.5 1155.5,830.8 1156.0,843.0 1156.5,843.0 1157.0,852.5 1157.5,851.6 1158.0,863.1 1158.5,858.5 1159.0,869.5 1159.5,860.7 1160.0,865.7 1160.5,854.3 1161.0,863.4 1161.5,856.4 1162.0,865.6 1162.5,859.0 1163.0,873.2 1163.5,870.8 1164.0,874.6 1164.5,864.7 1165.0,873.4 1165.5,866.1 1166.0,874.2 1166.5,872.4 1167.0,884.9 1167.5,874.2 1168.0,879.0 1168.5,874.0 1169.0,882.0 1169.5,873.7 1170.0,882.5 1170.5,878.0 1171.0,883.9 1171.5,878.2 1172.0,890.1 1172.5,887.3 1173.0,897.0 1173.5,892.3 1174.0,896.7 1174.5,888.2 1175.0,891.3 1175.5,883.8 1176.0,890.7 1176.5,879.9 1177.0,888.5 1177.5,880.2 1178.0,893.1 1178.5,887.7 1179.0,896.1 1179.5,890.5 1180.0,895.5 1180.5,889.8 1181.0,895.6 1181.5,892.2 1182.0,896.9 1182.5,891.2 1183.0,899.4 1183.5,892.0 1184.0,897.5 1184.5,892.8 1185.0,897.6 1185.5,887.8 1186.0,894.0 1186.5,894.4 1187.0,898.4 1187.5,893.5 1188.0,898.8 1188.5,894.0 1189.0,901.8 1189.5,893.7 1190.0,899.8 1190.5,892.6 1191.0,897.8 1191.5,891.0 1192.0,896.3 1192.5,892.7 1193.0,900.0 1193.5,898.9 1194.0,904.2 1194.5,897.2 1195.0,905.2 1195.5,899.7 1196.0,904.6 1196.5,898.0 1197.0,904.5 1197.5,898.1 1198.0,904.5 1198.5,905.1 1199.0,914.1 1199.5,909.0 1200.0,910.2 1200.5,900.9 1201.0,907.2 1201.5,901.3 1202.0,907.0 1202.5,902.6 1203.0,909.1 1203.5,903.5 1204.0,908.8 1204.5,904.0 1205.0,906.6 1205.5,901.3 1206.0,911.7 1206.5,905.5 1207.0,911.8 1207.5,901.3 1208.0,908.6 1208.5,905.8 1209.0,912.3 1209.5,903.8 1210.0,909.6 1210.5,906.2 1211.0,913.4 1211.5,907.4 1212.0,913.0 1212.5,907.4 1213.0,913.7 1213.5,908.1 1214.0,915.7 1214.5,907.5 1215.0,913.6 1215.5,909.5 1216.0,915.5 1216.5,909.4 1217.0,915.7 1217.5,910.5 1218.0,915.5 1218.5,908.4 1219.0,914.7 1219.5,906.6 1220.0,910.3 1220.5,902.0 1221.0,906.5 1221.5,904.1 1222.0,912.9 1222.5,909.9 1223.0,915.1 1223.5,910.4 1224.0,913.9 1224.5,910.5 1225.0,915.6 1225.5,909.4 1226.0,913.5 1226.5,907.2 1227.0,916.2 1227.5,913.6 1228.0,918.8 1228.5,913.4 1229.0,914.7 1229.5,906.5 1230.0,913.7 1230.5,905.5 1231.0,912.2 1231.5,904.7 1232.0,908.5 1232.5,900.3 1233.0,905.8 1233.5,900.8 1234.0,908.8 1234.5,904.9 1235.0,909.5 1235.5,904.9 1236.0,909.0 1236.5,905.2 1237.0,909.1 1237.5,905.3 1238.0,907.0 1238.5,904.0 1239.0,906.3 1239.5,903.7 1240.0,906.7 1240.5,904.3 1241.0,906.0 1241.5,903.8 1242.0,908.7 1242.5,907.9 1243.0,911.2 1243.5,906.5 1244.0,906.9 1244.5,904.1 1245.0,909.1 1245.5,904.7 1246.0,910.1 1246.5,904.8 1247.0,909.6 1247.5,904.8 1248.0,910.3 1248.5,910.2 1249.0,919.1 1249.5,913.3 1250.0,919.7 1250.5,912.3 1251.0,916.2 1251.5,908.2 1252.0,913.0 1252.5,908.2 1253.0,914.9 1253.5,908.0 1254.0,914.9 1254.5,909.2 1255.0,917.4 1255.5,912.4 1256.0,918.4 1256.5,913.1 1257.0,917.7 1257.5,911.2 1258.0,915.5 1258.5,910.3 1259.0,919.8 1259.5,916.6 1260.0,921.4 1260.5,914.3 1261.0,918.4 1261.5,912.0 1262.0,918.9 1262.5,913.3 1263.0,918.8 1263.5,913.8 1264.0,919.1 1264.5,913.8 1265.0,920.0 1265.5,914.7 1266.0,919.1 1266.5,915.9 1267.0,921.1 1267.5,918.9 1268.0,927.1 1268.5,921.3 1269.0,922.1 1269.5,916.1 1270.0,923.9 1270.5,916.4 1271.0,923.2 1271.5,918.4 1272.0,923.9 1272.5,919.4 1273.0,923.9 1273.5,920.4 1274.0,924.1 1274.5,927.4 1275.0,934.4 1275.5,920.2 1276.0,925.2 1276.5,919.5 1277.0,923.6 1277.5,916.0 1278.0,921.3 1278.5,914.8 1279.0,921.7 1279.5,920.1 1280.0,929.1 1280.5,921.3 1281.0,929.0 1281.5,922.8 1282.0,929.6 1282.5,922.9 1283.0,928.8 1283.5,925.3 1284.0,935.2 1284.5,931.0 1285.0,935.5 1285.5,928.1 1286.0,928.8 1286.5,924.2 1287.0,930.4 1287.5,926.6 1288.0,935.2 1288.5,931.6 1289.0,936.4 1289.5,929.9 1290.0,934.2 1290.5,925.1 1291.0,931.4 1291.5,926.9 1292.0,930.4 1292.5,926.1 1293.0,930.5 1293.5,928.2 1294.0,931.7 1294.5,926.7 1295.0,931.3 1295.5,926.8 1296.0,932.6 1296.5,927.1 1297.0,931.6 1297.5,927.8 1298.0,928.8 1298.5,922.8 1299.0,928.7 1299.5,928.6 1300.0,931.9 1300.5,927.9 1301.0,931.9 1301.5,929.3 1302.0,932.1 1302.5,928.6 1303.0,932.7 1303.5,928.5 1304.0,932.5 1304.5,928.5 1305.0,938.0 1305.5,936.5 1306.0,940.6 1306.5,933.1 1307.0,933.6 1307.5,930.4 1308.0,933.9 1308.5,929.5 1309.0,934.1 1309.5,930.4 1310.0,934.2 1310.5,930.4 1311.0,939.0 1311.5,936.7 1312.0,942.3 1312.5,937.5 1313.0,939.7 1313.5,931.3 1314.0,937.4 1314.5,931.0 1315.0,940.8 1315.5,936.4 1316.0,941.3 1316.5,933.5 1317.0,937.6 1317.5,933.8 1318.0,937.3 1318.5,934.2 1319.0,935.6 1319.5,930.0 1320.0,933.9 1320.5,930.8 1321.0,936.7 1321.5,934.0 1322.0,939.6 1322.5,934.2 1323.0,940.4 1323.5,934.3 1324.0,940.4 1324.5,935.0 1325.0,939.5 1325.5,935.7 1326.0,940.9 1326.5,936.1 1327.0,940.2 1327.5,935.6 1328.0,941.7 1328.5,935.7 1329.0,941.7 1329.5,936.7 1330.0,940.5 1330.5,934.8 1331.0,939.0 1331.5,933.9 1332.0,939.3 1332.5,934.2 1333.0,941.3 1333.5,936.1 1334.0,939.9 1334.5,937.3 1335.0,941.4 1335.5,936.1 1336.0,940.8 1336.5,939.6 1337.0,947.1 1337.5,944.2 1338.0,946.6 1338.5,939.7 1339.0,940.6 1339.5,936.7 1340.0,942.7 1340.5,938.2 1341.0,942.9 1341.5,936.9 1342.0,942.8 1342.5,938.5 1343.0,942.7 1343.5,941.8 1344.0,948.4 1344.5,945.6 1345.0,946.2 1345.5,938.7 1346.0,944.7 1346.5,938.7 1347.0,945.0 1347.5,940.6 1348.0,944.9 1348.5,939.0 1349.0,944.8 1349.5,940.5 1350.0,945.5 1350.5,940.3 1351.0,945.2 1351.5,939.8 1352.0,946.3 1352.5,941.3 1353.0,946.1 1353.5,941.2 1354.0,946.4 1354.5,941.1 1355.0,947.0 1355.5,941.0 1356.0,945.3 1356.5,939.1 1357.0,942.4 1357.5,938.1 1358.0,943.9 1358.5,940.3 1359.0,946.1 1359.5,941.7 1360.0,945.6 1360.5,941.3 1361.0,947.0 1361.5,942.2 1362.0,945.1 1362.5,937.3 1363.0,941.2 1363.5,938.4 1364.0,944.6 1364.5,941.6 1365.0,947.4 1365.5,945.1 1366.0,950.8 1366.5,947.7 1367.0,952.1 1367.5,945.6 1368.0,948.4 1368.5,942.0 1369.0,947.5 1369.5,942.6 1370.0,946.4 1370.5,940.9 1371.0,942.6 1371.5,935.2 1372.0,939.7 1372.5,937.6 1373.0,945.3 1373.5,941.0 1374.0,941.6 1374.5,937.5 1375.0,946.5 1375.5,941.7 1376.0,945.8 1376.5,941.3 1377.0,945.9 1377.5,941.2 1378.0,947.3 1378.5,941.9 1379.0,946.8 1379.5,942.4 1380.0,946.4 1380.5,939.4 1381.0,941.5 1381.5,937.2 1382.0,940.7 1382.5,938.6 1383.0,947.0 1383.5,941.0 1384.0,945.3 1384.5,941.8 1385.0,946.8 1385.5,942.7 1386.0,946.8 1386.5,942.9 1387.0,947.0 1387.5,942.0 1388.0,947.0 1388.5,941.1 1389.0,944.1 1389.5,938.5 1390.0,942.1 1390.5,939.3 1391.0,944.4 1391.5,942.2 1392.0,946.4 1392.5,941.6 1393.0,947.4 1393.5,941.3 1394.0,947.3 1394.5,941.2 1395.0,946.4 1395.5,942.6 1396.0,945.7 1396.5,941.4 1397.0,947.3 1397.5,941.5 1398.0,946.6 1398.5,941.9 1399.0,945.7 1399.5,940.9 1400.0,945.1 1400.5,940.5 1401.0,949.8 1401.5,944.2 1402.0,945.8 1402.5,942.3 1403.0,945.4 1403.5,941.6 1404.0,946.1 1404.5,942.0 1405.0,945.0"/></g><g fill="#000"><rect x="386.20" y="254.00" width="4.8" height="6.20"/><rect x="386.20" y="273.70" width="4.8" height="6.20"/><rect x="386.20" y="293.40" width="4.8" height="6.20"/><rect x="386.20" y="313.10" width="4.8" height="6.20"/><rect x="386.20" y="332.80" width="4.8" height="6.20"/><rect x="386.20" y="352.50" width="4.8" height="6.20"/><rect x="386.20" y="372.20" width="4.8" height="6.20"/><rect x="386.20" y="391.90" width="4.8" height="6.20"/><rect x="386.20" y="411.60" width="4.8" height="6.20"/><rect x="386.20" y="431.30" width="4.8" height="6.20"/><rect x="386.20" y="451.00" width="4.8" height="6.20"/><rect x="386.20" y="470.70" width="4.8" height="6.20"/><rect x="386.20" y="490.40" width="4.8" height="6.20"/><rect x="386.20" y="510.10" width="4.8" height="6.20"/><rect x="386.20" y="529.80" width="4.8" height="6.20"/><rect x="386.20" y="549.50" width="4.8" height="6.20"/><rect x="386.20" y="569.20" width="4.8" height="6.20"/><rect x="386.20" y="588.90" width="4.8" height="6.20"/><rect x="386.20" y="608.60" width="4.8" height="6.20"/><rect x="386.20" y="628.30" width="4.8" height="6.20"/><rect x="386.20" y="648.00" width="4.8" height="6.20"/><rect x="386.20" y="667.70" width="4.8" height="6.20"/><rect x="386.20" y="687.40" width="4.8" height="6.20"/><rect x="386.20" y="707.10" width="4.8" height="6.20"/><rect x="386.20" y="726.80" width="4.8" height="6.20"/><rect x="386.20" y="746.50" width="4.8" height="6.20"/><rect x="386.20" y="766.20" width="4.8" height="6.20"/><rect x="386.20" y="785.90" width="4.8" height="6.20"/><rect x="386.20" y="805.60" width="4.8" height="6.20"/><rect x="386.20" y="825.30" width="4.8" height="6.20"/><rect x="386.20" y="845.00" width="4.8" height="6.20"/><rect x="386.20" y="864.70" width="4.8" height="6.20"/><rect x="386.20" y="884.40" width="4.8" height="6.20"/><rect x="386.20" y="904.10" width="4.8" height="6.20"/><rect x="386.20" y="923.80" width="4.8" height="6.20"/><rect x="386.20" y="943.50" width="4.8" height="6.20"/><rect x="386.20" y="963.20" width="4.8" height="6.20"/><rect x="386.20" y="982.90" width="4.8" height="1.10"/><rect x="451.70" y="250.00" width="4.8" height="6.20"/><rect x="451.70" y="269.70" width="4.8" height="6.20"/><rect x="451.70" y="289.40" width="4.8" height="6.20"/><rect x="451.70" y="309.10" width="4.8" height="6.20"/><rect x="451.70" y="328.80" width="4.8" height="6.20"/><rect x="451.70" y="348.50" width="4.8" height="6.20"/><rect x="451.70" y="368.20" width="4.8" height="6.20"/><rect x="451.70" y="387.90" width="4.8" height="6.20"/><rect x="451.70" y="407.60" width="4.8" height="6.20"/><rect x="451.70" y="427.30" width="4.8" height="6.20"/><rect x="451.70" y="447.00" width="4.8" height="6.20"/><rect x="451.70" y="466.70" width="4.8" height="6.20"/><rect x="451.70" y="486.40" width="4.8" height="6.20"/><rect x="451.70" y="506.10" width="4.8" height="6.20"/><rect x="451.70" y="525.80" width="4.8" height="6.20"/><rect x="451.70" y="545.50" width="4.8" height="6.20"/><rect x="451.70" y="565.20" width="4.8" height="6.20"/><rect x="451.70" y="584.90" width="4.8" height="6.20"/><rect x="451.70" y="604.60" width="4.8" height="6.20"/><rect x="451.70" y="624.30" width="4.8" height="6.20"/><rect x="451.70" y="644.00" width="4.8" height="6.20"/><rect x="451.70" y="663.70" width="4.8" height="6.20"/><rect x="451.70" y="683.40" width="4.8" height="6.20"/><rect x="451.70" y="703.10" width="4.8" height="6.20"/><rect x="451.70" y="722.80" width="4.8" height="6.20"/><rect x="451.70" y="742.50" width="4.8" height="6.20"/><rect x="451.70" y="762.20" width="4.8" height="6.20"/><rect x="451.70" y="781.90" width="4.8" height="6.20"/><rect x="451.70" y="801.60" width="4.8" height="6.20"/><rect x="451.70" y="821.30" width="4.8" height="6.20"/><rect x="451.70" y="841.00" width="4.8" height="6.20"/><rect x="451.70" y="860.70" width="4.8" height="6.20"/><rect x="451.70" y="880.40" width="4.8" height="6.20"/><rect x="451.70" y="900.10" width="4.8" height="6.20"/><rect x="451.70" y="919.80" width="4.8" height="6.20"/><rect x="451.70" y="939.50" width="4.8" height="6.20"/><rect x="451.70" y="959.20" width="4.8" height="6.20"/><rect x="451.70" y="978.90" width="4.8" height="5.10"/><rect x="493.00" y="178.00" width="4.8" height="6.20"/><rect x="493.00" y="197.70" width="4.8" height="6.20"/><rect x="493.00" y="217.40" width="4.8" height="6.20"/><rect x="493.00" y="237.10" width="4.8" height="6.20"/><rect x="493.00" y="256.80" width="4.8" height="6.20"/><rect x="493.00" y="276.50" width="4.8" height="6.20"/><rect x="493.00" y="296.20" width="4.8" height="6.20"/><rect x="493.00" y="315.90" width="4.8" height="6.20"/><rect x="493.00" y="335.60" width="4.8" height="6.20"/><rect x="493.00" y="355.30" width="4.8" height="6.20"/><rect x="493.00" y="375.00" width="4.8" height="6.20"/><rect x="493.00" y="394.70" width="4.8" height="6.20"/><rect x="493.00" y="414.40" width="4.8" height="6.20"/><rect x="493.00" y="434.10" width="4.8" height="6.20"/><rect x="493.00" y="453.80" width="4.8" height="6.20"/><rect x="493.00" y="473.50" width="4.8" height="6.20"/><rect x="493.00" y="493.20" width="4.8" height="6.20"/><rect x="493.00" y="512.90" width="4.8" height="6.20"/><rect x="493.00" y="532.60" width="4.8" height="6.20"/><rect x="493.00" y="552.30" width="4.8" height="6.20"/><rect x="493.00" y="572.00" width="4.8" height="6.20"/><rect x="493.00" y="591.70" width="4.8" height="6.20"/><rect x="493.00" y="611.40" width="4.8" height="6.20"/><rect x="493.00" y="631.10" width="4.8" height="6.20"/><rect x="493.00" y="650.80" width="4.8" height="6.20"/><rect x="493.00" y="670.50" width="4.8" height="6.20"/><rect x="493.00" y="690.20" width="4.8" height="6.20"/><rect x="493.00" y="709.90" width="4.8" height="6.20"/><rect x="493.00" y="729.60" width="4.8" height="6.20"/><rect x="493.00" y="749.30" width="4.8" height="6.20"/><rect x="493.00" y="769.00" width="4.8" height="6.20"/><rect x="493.00" y="788.70" width="4.8" height="6.20"/><rect x="493.00" y="808.40" width="4.8" height="6.20"/><rect x="493.00" y="828.10" width="4.8" height="6.20"/><rect x="493.00" y="847.80" width="4.8" height="6.20"/><rect x="493.00" y="867.50" width="4.8" height="6.20"/><rect x="493.00" y="887.20" width="4.8" height="6.20"/><rect x="493.00" y="906.90" width="4.8" height="6.20"/><rect x="493.00" y="926.60" width="4.8" height="6.20"/><rect x="493.00" y="946.30" width="4.8" height="6.20"/><rect x="493.00" y="966.00" width="4.8" height="6.20"/><rect x="661.10" y="118.50" width="4.8" height="6.20"/><rect x="661.10" y="138.20" width="4.8" height="6.20"/><rect x="661.10" y="157.90" width="4.8" height="6.20"/><rect x="661.10" y="177.60" width="4.8" height="6.20"/><rect x="661.10" y="197.30" width="4.8" height="6.20"/><rect x="661.10" y="217.00" width="4.8" height="6.20"/><rect x="661.10" y="236.70" width="4.8" height="6.20"/><rect x="661.10" y="256.40" width="4.8" height="6.20"/><rect x="661.10" y="276.10" width="4.8" height="6.20"/><rect x="661.10" y="295.80" width="4.8" height="6.20"/><rect x="661.10" y="315.50" width="4.8" height="6.20"/><rect x="661.10" y="335.20" width="4.8" height="6.20"/><rect x="661.10" y="354.90" width="4.8" height="6.20"/><rect x="661.10" y="374.60" width="4.8" height="6.20"/><rect x="661.10" y="394.30" width="4.8" height="6.20"/><rect x="661.10" y="414.00" width="4.8" height="6.20"/><rect x="661.10" y="433.70" width="4.8" height="6.20"/><rect x="661.10" y="453.40" width="4.8" height="6.20"/><rect x="661.10" y="473.10" width="4.8" height="6.20"/><rect x="661.10" y="492.80" width="4.8" height="6.20"/><rect x="661.10" y="512.50" width="4.8" height="6.20"/><rect x="661.10" y="532.20" width="4.8" height="6.20"/><rect x="661.10" y="551.90" width="4.8" height="6.20"/><rect x="661.10" y="571.60" width="4.8" height="6.20"/><rect x="661.10" y="591.30" width="4.8" height="6.20"/><rect x="661.10" y="611.00" width="4.8" height="6.20"/><rect x="661.10" y="630.70" width="4.8" height="6.20"/><rect x="661.10" y="650.40" width="4.8" height="6.20"/><rect x="661.10" y="670.10" width="4.8" height="6.20"/><rect x="661.10" y="689.80" width="4.8" height="6.20"/><rect x="661.10" y="709.50" width="4.8" height="6.20"/><rect x="661.10" y="729.20" width="4.8" height="6.20"/><rect x="661.10" y="748.90" width="4.8" height="6.20"/><rect x="661.10" y="768.60" width="4.8" height="6.20"/><rect x="661.10" y="788.30" width="4.8" height="6.20"/><rect x="661.10" y="808.00" width="4.8" height="6.20"/><rect x="661.10" y="827.70" width="4.8" height="6.20"/><rect x="661.10" y="847.40" width="4.8" height="6.20"/><rect x="661.10" y="867.10" width="4.8" height="6.20"/><rect x="661.10" y="886.80" width="4.8" height="6.20"/><rect x="661.10" y="906.50" width="4.8" height="6.20"/><rect x="661.10" y="926.20" width="4.8" height="6.20"/><rect x="661.10" y="945.90" width="4.8" height="6.20"/><rect x="661.10" y="965.60" width="4.8" height="6.20"/><rect x="661.10" y="985.30" width="4.8" height="5.70"/><rect x="758.80" y="391.00" width="4.8" height="6.20"/><rect x="758.80" y="410.70" width="4.8" height="6.20"/><rect x="758.80" y="430.40" width="4.8" height="6.20"/><rect x="758.80" y="450.10" width="4.8" height="6.20"/><rect x="758.80" y="469.80" width="4.8" height="6.20"/><rect x="758.80" y="489.50" width="4.8" height="6.20"/><rect x="758.80" y="509.20" width="4.8" height="6.20"/><rect x="758.80" y="528.90" width="4.8" height="6.20"/><rect x="758.80" y="548.60" width="4.8" height="6.20"/><rect x="758.80" y="568.30" width="4.8" height="6.20"/><rect x="758.80" y="588.00" width="4.8" height="6.20"/><rect x="758.80" y="607.70" width="4.8" height="6.20"/><rect x="758.80" y="627.40" width="4.8" height="6.20"/><rect x="758.80" y="647.10" width="4.8" height="6.20"/><rect x="758.80" y="666.80" width="4.8" height="6.20"/><rect x="758.80" y="686.50" width="4.8" height="6.20"/><rect x="758.80" y="706.20" width="4.8" height="6.20"/><rect x="758.80" y="725.90" width="4.8" height="6.20"/><rect x="758.80" y="745.60" width="4.8" height="6.20"/><rect x="758.80" y="765.30" width="4.8" height="6.20"/><rect x="758.80" y="785.00" width="4.8" height="6.20"/><rect x="758.80" y="804.70" width="4.8" height="6.20"/><rect x="758.80" y="824.40" width="4.8" height="6.20"/><rect x="758.80" y="844.10" width="4.8" height="6.20"/><rect x="758.80" y="863.80" width="4.8" height="6.20"/><rect x="758.80" y="883.50" width="4.8" height="6.20"/><rect x="758.80" y="903.20" width="4.8" height="6.20"/><rect x="758.80" y="922.90" width="4.8" height="6.20"/><rect x="758.80" y="942.60" width="4.8" height="6.20"/><rect x="758.80" y="962.30" width="4.8" height="6.20"/><rect x="758.80" y="982.00" width="4.8" height="2.00"/><rect x="970.40" y="371.00" width="4.8" height="6.20"/><rect x="970.42" y="390.70" width="4.8" height="6.20"/><rect x="970.44" y="410.40" width="4.8" height="6.20"/><rect x="970.46" y="430.10" width="4.8" height="6.20"/><rect x="970.48" y="449.80" width="4.8" height="6.20"/><rect x="970.50" y="469.50" width="4.8" height="6.20"/><rect x="970.52" y="489.20" width="4.8" height="6.20"/><rect x="970.53" y="508.90" width="4.8" height="6.20"/><rect x="970.55" y="528.60" width="4.8" height="6.20"/><rect x="970.57" y="548.30" width="4.8" height="6.20"/><rect x="970.59" y="568.00" width="4.8" height="6.20"/><rect x="970.61" y="587.70" width="4.8" height="6.20"/><rect x="970.63" y="607.40" width="4.8" height="6.20"/><rect x="970.65" y="627.10" width="4.8" height="6.20"/><rect x="970.67" y="646.80" width="4.8" height="6.20"/><rect x="970.69" y="666.50" width="4.8" height="6.20"/><rect x="970.71" y="686.20" width="4.8" height="6.20"/><rect x="970.73" y="705.90" width="4.8" height="6.20"/><rect x="970.75" y="725.60" width="4.8" height="6.20"/><rect x="970.77" y="745.30" width="4.8" height="6.20"/><rect x="970.79" y="765.00" width="4.8" height="6.20"/><rect x="970.80" y="784.70" width="4.8" height="6.20"/><rect x="970.82" y="804.40" width="4.8" height="6.20"/><rect x="970.84" y="824.10" width="4.8" height="6.20"/><rect x="970.86" y="843.80" width="4.8" height="6.20"/><rect x="970.88" y="863.50" width="4.8" height="6.20"/><rect x="970.90" y="883.20" width="4.8" height="6.20"/><rect x="970.92" y="902.90" width="4.8" height="6.20"/><rect x="970.94" y="922.60" width="4.8" height="6.20"/><rect x="970.96" y="942.30" width="4.8" height="6.20"/><rect x="970.98" y="962.00" width="4.8" height="6.20"/><rect x="971.00" y="981.70" width="4.8" height="2.30"/><rect x="1118.90" y="266.00" width="4.8" height="6.20"/><rect x="1118.77" y="285.70" width="4.8" height="6.20"/><rect x="1118.64" y="305.40" width="4.8" height="6.20"/><rect x="1118.50" y="325.10" width="4.8" height="6.20"/><rect x="1118.37" y="344.80" width="4.8" height="6.20"/><rect x="1118.24" y="364.50" width="4.8" height="6.20"/><rect x="1118.11" y="384.20" width="4.8" height="6.20"/><rect x="1117.98" y="403.90" width="4.8" height="6.20"/><rect x="1117.85" y="423.60" width="4.8" height="6.20"/><rect x="1117.71" y="443.30" width="4.8" height="6.20"/><rect x="1117.58" y="463.00" width="4.8" height="6.20"/><rect x="1117.45" y="482.70" width="4.8" height="6.20"/><rect x="1117.32" y="502.40" width="4.8" height="6.20"/><rect x="1117.19" y="522.10" width="4.8" height="6.20"/><rect x="1117.06" y="541.80" width="4.8" height="6.20"/><rect x="1116.92" y="561.50" width="4.8" height="6.20"/><rect x="1116.79" y="581.20" width="4.8" height="6.20"/><rect x="1116.66" y="600.90" width="4.8" height="6.20"/><rect x="1116.53" y="620.60" width="4.8" height="6.20"/><rect x="1116.40" y="640.30" width="4.8" height="6.20"/><rect x="1116.27" y="660.00" width="4.8" height="6.20"/><rect x="1116.13" y="679.70" width="4.8" height="6.20"/><rect x="1116.00" y="699.40" width="4.8" height="6.20"/><rect x="1115.87" y="719.10" width="4.8" height="6.20"/><rect x="1115.74" y="738.80" width="4.8" height="6.20"/><rect x="1115.61" y="758.50" width="4.8" height="6.20"/><rect x="1115.48" y="778.20" width="4.8" height="6.20"/><rect x="1115.34" y="797.90" width="4.8" height="6.20"/><rect x="1115.21" y="817.60" width="4.8" height="6.20"/><rect x="1115.08" y="837.30" width="4.8" height="6.20"/><rect x="1114.95" y="857.00" width="4.8" height="6.20"/><rect x="1114.82" y="876.70" width="4.8" height="6.20"/><rect x="1114.69" y="896.40" width="4.8" height="6.20"/><rect x="1114.55" y="916.10" width="4.8" height="6.20"/><rect x="1114.42" y="935.80" width="4.8" height="6.20"/><rect x="1114.29" y="955.50" width="4.8" height="6.20"/><rect x="1114.16" y="975.20" width="4.8" height="6.20"/><rect x="1239.10" y="394.70" width="4.8" height="6.20"/><rect x="1239.09" y="414.40" width="4.8" height="6.20"/><rect x="1239.09" y="434.10" width="4.8" height="6.20"/><rect x="1239.08" y="453.80" width="4.8" height="6.20"/><rect x="1239.07" y="473.50" width="4.8" height="6.20"/><rect x="1239.07" y="493.20" width="4.8" height="6.20"/><rect x="1239.06" y="512.90" width="4.8" height="6.20"/><rect x="1239.05" y="532.60" width="4.8" height="6.20"/><rect x="1239.05" y="552.30" width="4.8" height="6.20"/><rect x="1239.04" y="572.00" width="4.8" height="6.20"/><rect x="1239.03" y="591.70" width="4.8" height="6.20"/><rect x="1239.03" y="611.40" width="4.8" height="6.20"/><rect x="1239.02" y="631.10" width="4.8" height="6.20"/><rect x="1239.01" y="650.80" width="4.8" height="6.20"/><rect x="1239.01" y="670.50" width="4.8" height="6.20"/><rect x="1239.00" y="690.20" width="4.8" height="6.20"/><rect x="1238.99" y="709.90" width="4.8" height="6.20"/><rect x="1238.99" y="729.60" width="4.8" height="6.20"/><rect x="1238.98" y="749.30" width="4.8" height="6.20"/><rect x="1238.97" y="769.00" width="4.8" height="6.20"/><rect x="1238.97" y="788.70" width="4.8" height="6.20"/><rect x="1238.96" y="808.40" width="4.8" height="6.20"/><rect x="1238.95" y="828.10" width="4.8" height="6.20"/><rect x="1238.95" y="847.80" width="4.8" height="6.20"/><rect x="1238.94" y="867.50" width="4.8" height="6.20"/><rect x="1238.93" y="887.20" width="4.8" height="6.20"/><rect x="1238.93" y="906.90" width="4.8" height="6.20"/><rect x="1238.92" y="926.60" width="4.8" height="6.20"/><rect x="1238.91" y="946.30" width="4.8" height="6.20"/><rect x="1238.91" y="966.00" width="4.8" height="6.20"/></g><g fill="#000"><ellipse cx="387.50" cy="218.60" rx="6.50" ry="6.60"/><ellipse cx="378.20" cy="231.90" rx="6.30" ry="7.00"/><ellipse cx="396.80" cy="231.90" rx="6.30" ry="7.00"/><path d="M383.00,224.00 L392.00,224.00 L393.00,234.50 L389.00,234.50 L389.30,240.00 L390.80,241.60 L391.00,243.00 L384.00,243.00 L384.20,241.60 L385.70,240.00 L386.00,234.50 L382.00,234.50 Z"/><ellipse cx="453.50" cy="205.60" rx="6.50" ry="6.60"/><ellipse cx="444.20" cy="218.90" rx="6.30" ry="7.00"/><ellipse cx="462.80" cy="218.90" rx="6.30" ry="7.00"/><path d="M449.00,211.00 L458.00,211.00 L459.00,221.50 L455.00,221.50 L455.30,227.00 L456.80,228.60 L457.00,230.00 L450.00,230.00 L450.20,228.60 L451.70,227.00 L452.00,221.50 L448.00,221.50 Z"/><ellipse cx="492.50" cy="148.60" rx="6.50" ry="6.60"/><ellipse cx="483.20" cy="161.90" rx="6.30" ry="7.00"/><ellipse cx="501.80" cy="161.90" rx="6.30" ry="7.00"/><path d="M488.00,154.00 L497.00,154.00 L498.00,164.50 L494.00,164.50 L494.30,170.00 L495.80,171.60 L496.00,173.00 L489.00,173.00 L489.20,171.60 L490.70,170.00 L491.00,164.50 L487.00,164.50 Z"/><ellipse cx="759.50" cy="353.60" rx="6.50" ry="6.60"/><ellipse cx="750.20" cy="366.90" rx="6.30" ry="7.00"/><ellipse cx="768.80" cy="366.90" rx="6.30" ry="7.00"/><path d="M755.00,359.00 L764.00,359.00 L765.00,369.50 L761.00,369.50 L761.30,375.00 L762.80,376.60 L763.00,378.00 L756.00,378.00 L756.20,376.60 L757.70,375.00 L758.00,369.50 L754.00,369.50 Z"/><ellipse cx="971.50" cy="343.60" rx="6.50" ry="6.60"/><ellipse cx="962.20" cy="356.90" rx="6.30" ry="7.00"/><ellipse cx="980.80" cy="356.90" rx="6.30" ry="7.00"/><path d="M967.00,349.00 L976.00,349.00 L977.00,359.50 L973.00,359.50 L973.30,365.00 L974.80,366.60 L975.00,368.00 L968.00,368.00 L968.20,366.60 L969.70,365.00 L970.00,359.50 L966.00,359.50 Z"/><ellipse cx="1123.50" cy="238.60" rx="6.50" ry="6.60"/><ellipse cx="1114.20" cy="251.90" rx="6.30" ry="7.00"/><ellipse cx="1132.80" cy="251.90" rx="6.30" ry="7.00"/><path d="M1119.00,244.00 L1128.00,244.00 L1129.00,254.50 L1125.00,254.50 L1125.30,260.00 L1126.80,261.60 L1127.00,263.00 L1120.00,263.00 L1120.20,261.60 L1121.70,260.00 L1122.00,254.50 L1118.00,254.50 Z"/><ellipse cx="1241.50" cy="363.60" rx="6.50" ry="6.60"/><ellipse cx="1232.20" cy="376.90" rx="6.30" ry="7.00"/><ellipse cx="1250.80" cy="376.90" rx="6.30" ry="7.00"/><path d="M1237.00,369.00 L1246.00,369.00 L1247.00,379.50 L1243.00,379.50 L1243.30,385.00 L1244.80,386.60 L1245.00,388.00 L1238.00,388.00 L1238.20,386.60 L1239.70,385.00 L1240.00,379.50 L1236.00,379.50 Z"/><ellipse cx="1214.50" cy="136.60" rx="6.50" ry="6.60"/><ellipse cx="1205.20" cy="149.90" rx="6.30" ry="7.00"/><ellipse cx="1223.80" cy="149.90" rx="6.30" ry="7.00"/><path d="M1210.00,142.00 L1219.00,142.00 L1220.00,152.50 L1216.00,152.50 L1216.30,158.00 L1217.80,159.60 L1218.00,161.00 L1211.00,161.00 L1211.20,159.60 L1212.70,158.00 L1213.00,152.50 L1209.00,152.50 Z"/><path d="M664.00,94.00 L674.80,109.60 L675.00,114.50 C675.00,116.60 673.60,118.00 671.60,118.00 L669.20,118.00 C667.60,118.00 666.40,116.60 665.20,114.80 L665.20,118.60 L667.20,119.20 L667.20,120.00 L660.80,120.00 L660.80,119.20 L662.80,118.60 L662.80,114.80 C661.60,116.60 660.40,118.00 658.80,118.00 L656.40,118.00 C654.40,118.00 653.00,116.60 653.00,114.50 L653.20,109.60 Z"/><path d="M971.00,302.00 L981.80,317.60 L982.00,322.50 C982.00,324.60 980.60,326.00 978.60,326.00 L976.20,326.00 C974.60,326.00 973.40,324.60 972.20,322.80 L972.20,326.60 L974.20,327.20 L974.20,328.00 L967.80,328.00 L967.80,327.20 L969.80,326.60 L969.80,322.80 C968.60,324.60 967.40,326.00 965.80,326.00 L963.40,326.00 C961.40,326.00 960.00,324.60 960.00,322.50 L960.20,317.60 Z"/><path d="M1122.00,198.00 L1132.80,213.60 L1133.00,218.50 C1133.00,220.60 1131.60,222.00 1129.60,222.00 L1127.20,222.00 C1125.60,222.00 1124.40,220.60 1123.20,218.80 L1123.20,222.60 L1125.20,223.20 L1125.20,224.00 L1118.80,224.00 L1118.80,223.20 L1120.80,222.60 L1120.80,218.80 C1119.60,220.60 1118.40,222.00 1116.80,222.00 L1114.40,222.00 C1112.40,222.00 1111.00,220.60 1111.00,218.50 L1111.20,213.60 Z"/><path d="M1217.50,65.00 L1230.75,83.00 L1231.00,88.65 C1231.00,91.08 1229.28,92.69 1226.83,92.69 L1223.88,92.69 C1221.92,92.69 1220.45,91.08 1218.97,89.00 L1218.97,93.38 L1221.43,94.08 L1221.43,95.00 L1213.57,95.00 L1213.57,94.08 L1216.03,93.38 L1216.03,89.00 C1214.55,91.08 1213.08,92.69 1211.12,92.69 L1208.17,92.69 C1205.72,92.69 1204.00,91.08 1204.00,88.65 L1204.25,83.00 Z"/></g><g fill="#000"><rect x="109" y="15" width="4.2" height="974"/><rect x="1402" y="15" width="5" height="974"/><rect x="109" y="15" width="1298" height="5"/><rect x="109" y="984" width="1298" height="5"/><rect x="344.22" y="967" width="4.5" height="18"/><rect x="579.39" y="967" width="4.5" height="18"/><rect x="814.56" y="967" width="4.5" height="18"/><rect x="1049.73" y="967" width="4.5" height="18"/><rect x="1284.90" y="967" width="4.5" height="18"/><rect x="226.88" y="976" width="4" height="9"/><rect x="462.06" y="976" width="4" height="9"/><rect x="697.22" y="976" width="4" height="9"/><rect x="932.39" y="976" width="4" height="9"/><rect x="1167.56" y="976" width="4" height="9"/></g><g font-family="Liberation Serif" fill="#000"><text x="110.3" y="1056.3" font-size="67" text-anchor="middle">20</text><text x="345.5" y="1056.3" font-size="67" text-anchor="middle">30</text><text x="580.6" y="1056.3" font-size="67" text-anchor="middle">40</text><text x="815.8" y="1056.3" font-size="67" text-anchor="middle">50</text><text x="1051.0" y="1056.3" font-size="67" text-anchor="middle">60</text><text x="1286.1" y="1056.3" font-size="67" text-anchor="middle">70</text><text x="538.5" y="1138.5" font-size="70" font-weight="bold">2Theta ( °)</text><text transform="translate(63,825.5) rotate(-90)" font-size="70" font-weight="bold">Relative Intensity (a.u.)</text><text x="1237" y="97" font-size="54.5">MgO</text><text x="1234.5" y="166" font-size="55.5">ZnO</text><text x="1349.5" y="430.5" font-size="70">a</text><text x="1345" y="622.5" font-size="70">b</text><text x="1344" y="773.5" font-size="70">c</text><text x="1339" y="921.5" font-size="70">d</text></g></svg></body></html>
